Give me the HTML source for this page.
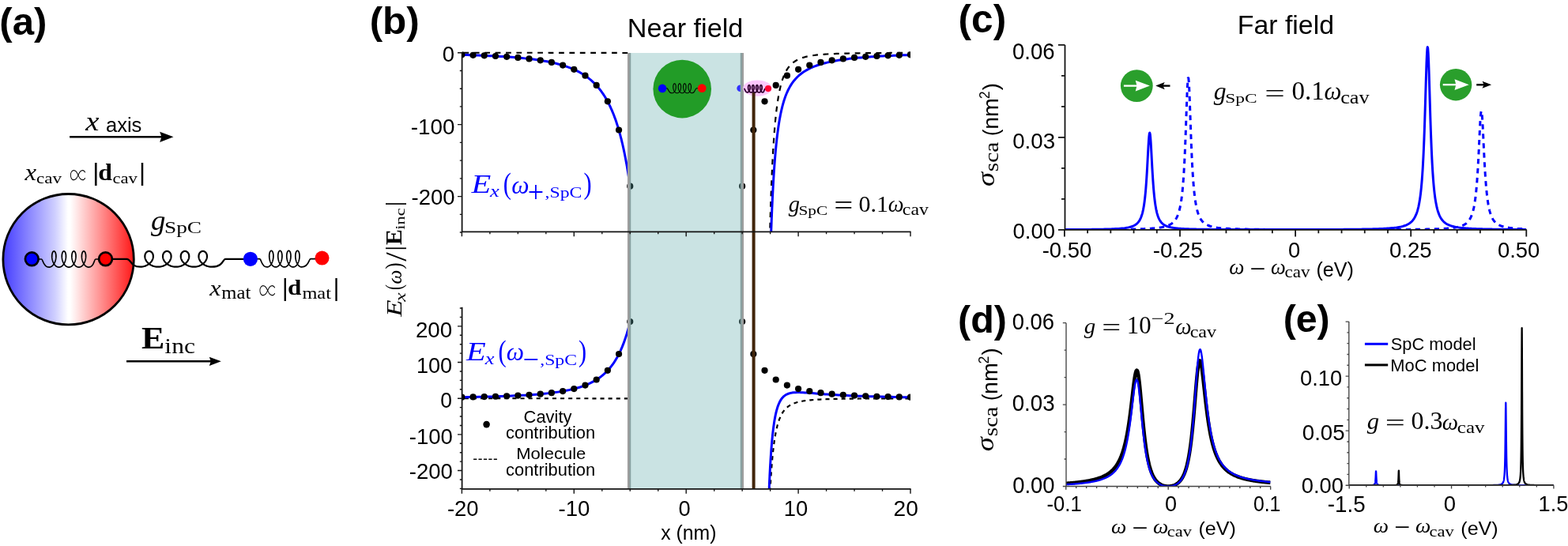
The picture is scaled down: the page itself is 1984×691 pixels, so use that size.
<!DOCTYPE html>
<html><head><meta charset="utf-8"><title>Figure</title>
<style>html,body{margin:0;padding:0;background:#fff;}svg{display:block;}</style></head>
<body><svg width="1984" height="691" viewBox="0 0 1984 691">
<rect width="1984" height="691" fill="#fff"/>
<text transform="matrix(0.49196 0.00000 0.00000 0.48936 -0.65982 44.42340)" font-size="100" font-family='"Liberation Sans", sans-serif' font-weight="bold">(a)</text>
<line x1="88.1" y1="173.3" x2="206" y2="173.3" stroke="#000" stroke-width="2.5" />
<path d="M219.5,173.3 L202.2,166.7 L204.4,173.3 L202.2,179.9 Z" fill="#000"/>
<text transform="matrix(0.38667 0.00000 0.00000 0.34130 108.18667 164.80000)" font-size="100" font-family='"Liberation Serif", serif' font-style="italic">x</text>
<text transform="matrix(0.25529 0.00000 0.00000 0.25676 133.97882 166.84324)" font-size="100" font-family='"Liberation Sans", sans-serif'>axis</text>
<text transform="matrix(0.32667 0.00000 0.00000 0.28478 31.42667 228.10000)" font-size="100" font-family='"Liberation Serif", serif' font-style="italic">x</text>
<text transform="matrix(0.23111 0.00000 0.00000 0.19167 46.07556 231.90833)" font-size="100" font-family='"Liberation Serif", serif'>cav</text>
<text transform="matrix(0.20652 0.00000 0.00000 0.31190 88.17391 233.09048)" font-size="100" font-family='"Noto Serif CJK SC", "DejaVu Serif", serif'>∝</text>
<text transform="matrix(0.52500 0.00000 0.00000 0.30889 115.90000 228.21333)" font-size="100" font-family='"Liberation Serif", serif'>|</text>
<text transform="matrix(0.31800 0.00000 0.00000 0.28571 124.32800 227.81429)" font-size="100" font-family='"Liberation Serif", serif' font-weight="bold">d</text>
<text transform="matrix(0.22741 0.00000 0.00000 0.19167 142.39037 231.90833)" font-size="100" font-family='"Liberation Serif", serif'>cav</text>
<text transform="matrix(0.50000 0.00000 0.00000 0.30889 174.90000 228.21333)" font-size="100" font-family='"Liberation Serif", serif'>|</text>
<defs><linearGradient id="cavgrad" gradientUnits="userSpaceOnUse" x1="2.6" y1="0" x2="170.6" y2="0"><stop offset="0" stop-color="rgb(66,58,255)"/><stop offset="0.401" stop-color="rgb(208,208,255)"/><stop offset="0.496" stop-color="#fff"/><stop offset="0.514" stop-color="#fff"/><stop offset="1" stop-color="rgb(255,20,20)"/></linearGradient></defs>
<circle cx="86.6" cy="328.2" r="82.7" fill="url(#cavgrad)" stroke="#000" stroke-width="2.8"/>
<path d="M49.5,328 L52.5,328 C54.6,328 54.25,338.1 62.02,338.1 L62.02,338.1 L62.4,338.09 L62.78,338.04 L63.17,337.98 L63.55,337.88 L63.92,337.76 L64.3,337.61 L64.67,337.43 L65.03,337.23 L65.39,337 L65.74,336.75 L66.08,336.47 L66.42,336.17 L66.74,335.85 L67.06,335.51 L67.37,335.14 L67.67,334.76 L67.95,334.36 L68.23,333.94 L68.49,333.5 L68.74,333.05 L68.98,332.59 L69.21,332.11 L69.42,331.62 L69.62,331.12 L69.8,330.61 L69.97,330.1 L70.13,329.58 L70.27,329.06 L70.4,328.53 L70.51,328 L70.6,327.47 L70.69,326.94 L70.76,326.42 L70.81,325.9 L70.85,325.39 L70.87,324.88 L70.89,324.38 L70.88,323.89 L70.87,323.41 L70.84,322.95 L70.8,322.5 L70.74,322.06 L70.68,321.64 L70.6,321.24 L70.51,320.86 L70.41,320.49 L70.31,320.15 L70.19,319.83 L70.06,319.53 L69.93,319.25 L69.79,319 L69.64,318.77 L69.48,318.57 L69.32,318.39 L69.16,318.24 L68.99,318.12 L68.82,318.02 L68.65,317.96 L68.48,317.91 L68.3,317.9 L68.12,317.91 L67.95,317.96 L67.78,318.02 L67.61,318.12 L67.44,318.24 L67.28,318.39 L67.12,318.57 L66.96,318.77 L66.81,319 L66.67,319.25 L66.54,319.53 L66.41,319.83 L66.29,320.15 L66.19,320.49 L66.09,320.86 L66,321.24 L65.92,321.64 L65.86,322.06 L65.8,322.5 L65.76,322.95 L65.73,323.41 L65.72,323.89 L65.71,324.38 L65.73,324.88 L65.75,325.39 L65.79,325.9 L65.84,326.42 L65.91,326.94 L66,327.47 L66.09,328 L66.2,328.53 L66.33,329.06 L66.47,329.58 L66.63,330.1 L66.8,330.61 L66.98,331.12 L67.18,331.62 L67.39,332.11 L67.62,332.59 L67.86,333.05 L68.11,333.5 L68.37,333.94 L68.65,334.36 L68.93,334.76 L69.23,335.14 L69.54,335.51 L69.86,335.85 L70.18,336.17 L70.52,336.47 L70.86,336.75 L71.21,337 L71.57,337.23 L71.93,337.43 L72.3,337.61 L72.68,337.76 L73.05,337.88 L73.43,337.98 L73.82,338.04 L74.2,338.09 L74.58,338.1 L74.97,338.09 L75.35,338.04 L75.74,337.98 L76.12,337.88 L76.49,337.76 L76.87,337.61 L77.24,337.43 L77.6,337.23 L77.96,337 L78.31,336.75 L78.65,336.47 L78.99,336.17 L79.31,335.85 L79.63,335.51 L79.94,335.14 L80.24,334.76 L80.52,334.36 L80.8,333.94 L81.06,333.5 L81.31,333.05 L81.55,332.59 L81.78,332.11 L81.99,331.62 L82.19,331.12 L82.37,330.61 L82.54,330.1 L82.7,329.58 L82.84,329.06 L82.97,328.53 L83.08,328 L83.17,327.47 L83.26,326.94 L83.33,326.42 L83.38,325.9 L83.42,325.39 L83.44,324.88 L83.46,324.38 L83.45,323.89 L83.44,323.41 L83.41,322.95 L83.37,322.5 L83.31,322.06 L83.25,321.64 L83.17,321.24 L83.08,320.86 L82.98,320.49 L82.88,320.15 L82.76,319.83 L82.63,319.53 L82.5,319.25 L82.36,319 L82.21,318.77 L82.05,318.57 L81.89,318.39 L81.73,318.24 L81.56,318.12 L81.39,318.02 L81.22,317.96 L81.05,317.91 L80.87,317.9 L80.69,317.91 L80.52,317.96 L80.35,318.02 L80.18,318.12 L80.01,318.24 L79.85,318.39 L79.69,318.57 L79.53,318.77 L79.38,319 L79.24,319.25 L79.11,319.53 L78.98,319.83 L78.86,320.15 L78.76,320.49 L78.66,320.86 L78.57,321.24 L78.49,321.64 L78.43,322.06 L78.37,322.5 L78.33,322.95 L78.3,323.41 L78.29,323.89 L78.28,324.38 L78.3,324.88 L78.32,325.39 L78.36,325.9 L78.41,326.42 L78.48,326.94 L78.57,327.47 L78.66,328 L78.77,328.53 L78.9,329.06 L79.04,329.58 L79.2,330.1 L79.37,330.61 L79.55,331.12 L79.75,331.62 L79.96,332.11 L80.19,332.59 L80.43,333.05 L80.68,333.5 L80.94,333.94 L81.22,334.36 L81.5,334.76 L81.8,335.14 L82.11,335.51 L82.43,335.85 L82.75,336.17 L83.09,336.47 L83.43,336.75 L83.78,337 L84.14,337.23 L84.5,337.43 L84.87,337.61 L85.25,337.76 L85.62,337.88 L86,337.98 L86.39,338.04 L86.77,338.09 L87.16,338.1 L87.54,338.09 L87.92,338.04 L88.31,337.98 L88.69,337.88 L89.06,337.76 L89.44,337.61 L89.81,337.43 L90.17,337.23 L90.53,337 L90.88,336.75 L91.22,336.47 L91.56,336.17 L91.88,335.85 L92.2,335.51 L92.51,335.14 L92.81,334.76 L93.09,334.36 L93.37,333.94 L93.63,333.5 L93.88,333.05 L94.12,332.59 L94.35,332.11 L94.56,331.62 L94.76,331.12 L94.94,330.61 L95.11,330.1 L95.27,329.58 L95.41,329.06 L95.54,328.53 L95.65,328 L95.74,327.47 L95.83,326.94 L95.9,326.42 L95.95,325.9 L95.99,325.39 L96.01,324.88 L96.03,324.38 L96.02,323.89 L96.01,323.41 L95.98,322.95 L95.94,322.5 L95.88,322.06 L95.82,321.64 L95.74,321.24 L95.65,320.86 L95.55,320.49 L95.45,320.15 L95.33,319.83 L95.2,319.53 L95.07,319.25 L94.93,319 L94.78,318.77 L94.62,318.57 L94.46,318.39 L94.3,318.24 L94.13,318.12 L93.96,318.02 L93.79,317.96 L93.62,317.91 L93.44,317.9 L93.26,317.91 L93.09,317.96 L92.92,318.02 L92.75,318.12 L92.58,318.24 L92.42,318.39 L92.26,318.57 L92.1,318.77 L91.95,319 L91.81,319.25 L91.68,319.53 L91.55,319.83 L91.43,320.15 L91.33,320.49 L91.23,320.86 L91.14,321.24 L91.06,321.64 L91,322.06 L90.94,322.5 L90.9,322.95 L90.87,323.41 L90.86,323.89 L90.85,324.38 L90.87,324.88 L90.89,325.39 L90.93,325.9 L90.98,326.42 L91.05,326.94 L91.14,327.47 L91.23,328 L91.34,328.53 L91.47,329.06 L91.61,329.58 L91.77,330.1 L91.94,330.61 L92.12,331.12 L92.32,331.62 L92.53,332.11 L92.76,332.59 L93,333.05 L93.25,333.5 L93.51,333.94 L93.79,334.36 L94.07,334.76 L94.37,335.14 L94.68,335.51 L95,335.85 L95.32,336.17 L95.66,336.47 L96,336.75 L96.35,337 L96.71,337.23 L97.07,337.43 L97.44,337.61 L97.82,337.76 L98.19,337.88 L98.57,337.98 L98.96,338.04 L99.34,338.09 L99.72,338.1 L100.11,338.09 L100.49,338.04 L100.88,337.98 L101.26,337.88 L101.63,337.76 L102.01,337.61 L102.38,337.43 L102.74,337.23 L103.1,337 L103.45,336.75 L103.79,336.47 L104.13,336.17 L104.45,335.85 L104.77,335.51 L105.08,335.14 L105.38,334.76 L105.66,334.36 L105.94,333.94 L106.2,333.5 L106.45,333.05 L106.69,332.59 L106.92,332.11 L107.13,331.62 L107.33,331.12 L107.51,330.61 L107.68,330.1 L107.84,329.58 L107.98,329.06 L108.11,328.53 L108.22,328 L108.31,327.47 L108.4,326.94 L108.47,326.42 L108.52,325.9 L108.56,325.39 L108.58,324.88 L108.6,324.38 L108.59,323.89 L108.58,323.41 L108.55,322.95 L108.51,322.5 L108.45,322.06 L108.39,321.64 L108.31,321.24 L108.22,320.86 L108.12,320.49 L108.02,320.15 L107.9,319.83 L107.77,319.53 L107.64,319.25 L107.5,319 L107.35,318.77 L107.19,318.57 L107.03,318.39 L106.87,318.24 L106.7,318.12 L106.53,318.02 L106.36,317.96 L106.19,317.91 L106.01,317.9 L105.83,317.91 L105.66,317.96 L105.49,318.02 L105.32,318.12 L105.15,318.24 L104.99,318.39 L104.83,318.57 L104.67,318.77 L104.52,319 L104.38,319.25 L104.25,319.53 L104.12,319.83 L104,320.15 L103.9,320.49 L103.8,320.86 L103.71,321.24 L103.63,321.64 L103.57,322.06 L103.51,322.5 L103.47,322.95 L103.44,323.41 L103.43,323.89 L103.42,324.38 L103.44,324.88 L103.46,325.39 L103.5,325.9 L103.55,326.42 L103.62,326.94 L103.71,327.47 L103.8,328 L103.91,328.53 L104.04,329.06 L104.18,329.58 L104.34,330.1 L104.51,330.61 L104.69,331.12 L104.89,331.62 L105.1,332.11 L105.33,332.59 L105.57,333.05 L105.82,333.5 L106.08,333.94 L106.36,334.36 L106.64,334.76 L106.94,335.14 L107.25,335.51 L107.57,335.85 L107.89,336.17 L108.23,336.47 L108.57,336.75 L108.92,337 L109.28,337.23 L109.64,337.43 L110.01,337.61 L110.39,337.76 L110.76,337.88 L111.14,337.98 L111.53,338.04 L111.91,338.09 L112.29,338.1 C119.25,338.1 118.9,328 121,328 L124,328" fill="none" stroke="#000" stroke-width="1.7" stroke-linejoin="round"/>
<circle cx="40.3" cy="327.8" r="8.4" fill="#0000ff" stroke="#000" stroke-width="2.7"/>
<path d="M142,327.8 L160.5,327.8 C165.9,327.8 165,337.7 177.25,337.7 L177.25,337.7 L177.98,337.69 L178.7,337.65 L179.43,337.58 L180.15,337.48 L180.86,337.36 L181.57,337.22 L182.27,337.04 L182.95,336.84 L183.63,336.62 L184.29,336.37 L184.94,336.1 L185.57,335.81 L186.19,335.49 L186.79,335.16 L187.37,334.8 L187.93,334.42 L188.47,334.03 L188.99,333.62 L189.48,333.19 L189.95,332.75 L190.4,332.29 L190.82,331.83 L191.22,331.35 L191.59,330.86 L191.93,330.36 L192.24,329.86 L192.53,329.35 L192.79,328.83 L193.02,328.32 L193.23,327.8 L193.4,327.28 L193.55,326.77 L193.67,326.25 L193.76,325.74 L193.82,325.24 L193.86,324.74 L193.87,324.25 L193.85,323.77 L193.8,323.31 L193.74,322.85 L193.64,322.41 L193.53,321.98 L193.39,321.57 L193.23,321.18 L193.05,320.8 L192.84,320.44 L192.62,320.11 L192.38,319.79 L192.13,319.5 L191.86,319.23 L191.57,318.98 L191.28,318.76 L190.97,318.56 L190.65,318.38 L190.32,318.24 L189.98,318.12 L189.64,318.02 L189.3,317.95 L188.95,317.91 L188.6,317.9 L188.25,317.91 L187.9,317.95 L187.56,318.02 L187.22,318.12 L186.88,318.24 L186.55,318.38 L186.23,318.56 L185.92,318.76 L185.63,318.98 L185.34,319.23 L185.07,319.5 L184.82,319.79 L184.58,320.11 L184.36,320.44 L184.15,320.8 L183.97,321.18 L183.81,321.57 L183.67,321.98 L183.56,322.41 L183.46,322.85 L183.4,323.31 L183.35,323.77 L183.33,324.25 L183.34,324.74 L183.38,325.24 L183.44,325.74 L183.53,326.25 L183.65,326.77 L183.8,327.28 L183.97,327.8 L184.18,328.32 L184.41,328.83 L184.67,329.35 L184.96,329.86 L185.27,330.36 L185.61,330.86 L185.98,331.35 L186.38,331.83 L186.8,332.29 L187.25,332.75 L187.72,333.19 L188.21,333.62 L188.73,334.03 L189.27,334.42 L189.83,334.8 L190.41,335.16 L191.01,335.49 L191.63,335.81 L192.26,336.1 L192.91,336.37 L193.57,336.62 L194.25,336.84 L194.93,337.04 L195.63,337.22 L196.34,337.36 L197.05,337.48 L197.77,337.58 L198.5,337.65 L199.22,337.69 L199.95,337.7 L200.68,337.69 L201.4,337.65 L202.13,337.58 L202.85,337.48 L203.56,337.36 L204.27,337.22 L204.97,337.04 L205.65,336.84 L206.33,336.62 L206.99,336.37 L207.64,336.1 L208.27,335.81 L208.89,335.49 L209.49,335.16 L210.07,334.8 L210.63,334.42 L211.17,334.03 L211.69,333.62 L212.18,333.19 L212.65,332.75 L213.1,332.29 L213.52,331.83 L213.92,331.35 L214.29,330.86 L214.63,330.36 L214.94,329.86 L215.23,329.35 L215.49,328.83 L215.72,328.32 L215.93,327.8 L216.1,327.28 L216.25,326.77 L216.37,326.25 L216.46,325.74 L216.52,325.24 L216.56,324.74 L216.57,324.25 L216.55,323.77 L216.5,323.31 L216.44,322.85 L216.34,322.41 L216.23,321.98 L216.09,321.57 L215.93,321.18 L215.75,320.8 L215.54,320.44 L215.32,320.11 L215.08,319.79 L214.83,319.5 L214.56,319.23 L214.27,318.98 L213.98,318.76 L213.67,318.56 L213.35,318.38 L213.02,318.24 L212.68,318.12 L212.34,318.02 L212,317.95 L211.65,317.91 L211.3,317.9 L210.95,317.91 L210.6,317.95 L210.26,318.02 L209.92,318.12 L209.58,318.24 L209.25,318.38 L208.93,318.56 L208.62,318.76 L208.33,318.98 L208.04,319.23 L207.77,319.5 L207.52,319.79 L207.28,320.11 L207.06,320.44 L206.85,320.8 L206.67,321.18 L206.51,321.57 L206.37,321.98 L206.26,322.41 L206.16,322.85 L206.1,323.31 L206.05,323.77 L206.03,324.25 L206.04,324.74 L206.08,325.24 L206.14,325.74 L206.23,326.25 L206.35,326.77 L206.5,327.28 L206.67,327.8 L206.88,328.32 L207.11,328.83 L207.37,329.35 L207.66,329.86 L207.97,330.36 L208.31,330.86 L208.68,331.35 L209.08,331.83 L209.5,332.29 L209.95,332.75 L210.42,333.19 L210.91,333.62 L211.43,334.03 L211.97,334.42 L212.53,334.8 L213.11,335.16 L213.71,335.49 L214.33,335.81 L214.96,336.1 L215.61,336.37 L216.27,336.62 L216.95,336.84 L217.63,337.04 L218.33,337.22 L219.04,337.36 L219.75,337.48 L220.47,337.58 L221.2,337.65 L221.92,337.69 L222.65,337.7 L223.38,337.69 L224.1,337.65 L224.83,337.58 L225.55,337.48 L226.26,337.36 L226.97,337.22 L227.67,337.04 L228.35,336.84 L229.03,336.62 L229.69,336.37 L230.34,336.1 L230.97,335.81 L231.59,335.49 L232.19,335.16 L232.77,334.8 L233.33,334.42 L233.87,334.03 L234.39,333.62 L234.88,333.19 L235.35,332.75 L235.8,332.29 L236.22,331.83 L236.62,331.35 L236.99,330.86 L237.33,330.36 L237.64,329.86 L237.93,329.35 L238.19,328.83 L238.42,328.32 L238.62,327.8 L238.8,327.28 L238.95,326.77 L239.07,326.25 L239.16,325.74 L239.22,325.24 L239.26,324.74 L239.27,324.25 L239.25,323.77 L239.2,323.31 L239.14,322.85 L239.04,322.41 L238.93,321.98 L238.79,321.57 L238.63,321.18 L238.45,320.8 L238.24,320.44 L238.02,320.11 L237.78,319.79 L237.53,319.5 L237.26,319.23 L236.97,318.98 L236.68,318.76 L236.37,318.56 L236.05,318.38 L235.72,318.24 L235.38,318.12 L235.04,318.02 L234.7,317.95 L234.35,317.91 L234,317.9 L233.65,317.91 L233.3,317.95 L232.96,318.02 L232.62,318.12 L232.28,318.24 L231.95,318.38 L231.63,318.56 L231.32,318.76 L231.03,318.98 L230.74,319.23 L230.47,319.5 L230.22,319.79 L229.98,320.11 L229.76,320.44 L229.55,320.8 L229.37,321.18 L229.21,321.57 L229.07,321.98 L228.96,322.41 L228.86,322.85 L228.8,323.31 L228.75,323.77 L228.73,324.25 L228.74,324.74 L228.78,325.24 L228.84,325.74 L228.93,326.25 L229.05,326.77 L229.2,327.28 L229.37,327.8 L229.58,328.32 L229.81,328.83 L230.07,329.35 L230.36,329.86 L230.67,330.36 L231.01,330.86 L231.38,331.35 L231.78,331.83 L232.2,332.29 L232.65,332.75 L233.12,333.19 L233.61,333.62 L234.13,334.03 L234.67,334.42 L235.23,334.8 L235.81,335.16 L236.41,335.49 L237.03,335.81 L237.66,336.1 L238.31,336.37 L238.97,336.62 L239.65,336.84 L240.33,337.04 L241.03,337.22 L241.74,337.36 L242.45,337.48 L243.17,337.58 L243.9,337.65 L244.62,337.69 L245.35,337.7 L246.08,337.69 L246.8,337.65 L247.53,337.58 L248.25,337.48 L248.96,337.36 L249.67,337.22 L250.37,337.04 L251.05,336.84 L251.73,336.62 L252.39,336.37 L253.04,336.1 L253.67,335.81 L254.29,335.49 L254.89,335.16 L255.47,334.8 L256.03,334.42 L256.57,334.03 L257.09,333.62 L257.58,333.19 L258.05,332.75 L258.5,332.29 L258.92,331.83 L259.32,331.35 L259.69,330.86 L260.03,330.36 L260.34,329.86 L260.63,329.35 L260.89,328.83 L261.12,328.32 L261.32,327.8 L261.5,327.28 L261.65,326.77 L261.77,326.25 L261.86,325.74 L261.92,325.24 L261.96,324.74 L261.97,324.25 L261.95,323.77 L261.9,323.31 L261.84,322.85 L261.74,322.41 L261.63,321.98 L261.49,321.57 L261.33,321.18 L261.15,320.8 L260.94,320.44 L260.72,320.11 L260.48,319.79 L260.23,319.5 L259.96,319.23 L259.67,318.98 L259.38,318.76 L259.07,318.56 L258.75,318.38 L258.42,318.24 L258.08,318.12 L257.74,318.02 L257.4,317.95 L257.05,317.91 L256.7,317.9 L256.35,317.91 L256,317.95 L255.66,318.02 L255.32,318.12 L254.98,318.24 L254.65,318.38 L254.33,318.56 L254.02,318.76 L253.73,318.98 L253.44,319.23 L253.17,319.5 L252.92,319.79 L252.68,320.11 L252.46,320.44 L252.25,320.8 L252.07,321.18 L251.91,321.57 L251.77,321.98 L251.66,322.41 L251.56,322.85 L251.5,323.31 L251.45,323.77 L251.43,324.25 L251.44,324.74 L251.48,325.24 L251.54,325.74 L251.63,326.25 L251.75,326.77 L251.9,327.28 L252.07,327.8 L252.28,328.32 L252.51,328.83 L252.77,329.35 L253.06,329.86 L253.37,330.36 L253.71,330.86 L254.08,331.35 L254.48,331.83 L254.9,332.29 L255.35,332.75 L255.82,333.19 L256.31,333.62 L256.83,334.03 L257.37,334.42 L257.93,334.8 L258.51,335.16 L259.11,335.49 L259.73,335.81 L260.36,336.1 L261.01,336.37 L261.67,336.62 L262.35,336.84 L263.03,337.04 L263.73,337.22 L264.44,337.36 L265.15,337.48 L265.87,337.58 L266.6,337.65 L267.32,337.69 L268.05,337.7 C282.5,337.7 282,327.8 285,327.8 L308,327.8" fill="none" stroke="#000" stroke-width="2.2" stroke-linejoin="round"/>
<circle cx="133.5" cy="327.8" r="8.4" fill="#ff0000" stroke="#000" stroke-width="2.7"/>
<path d="M325,327.6 L328.5,327.6 C330.9,327.6 330.5,337.95 337.79,337.95 L337.79,337.95 L338.14,337.94 L338.5,337.89 L338.85,337.82 L339.2,337.72 L339.55,337.6 L339.9,337.44 L340.24,337.26 L340.57,337.06 L340.9,336.82 L341.23,336.56 L341.55,336.28 L341.86,335.97 L342.16,335.64 L342.45,335.29 L342.73,334.92 L343.01,334.53 L343.27,334.11 L343.53,333.68 L343.77,333.24 L344,332.78 L344.21,332.3 L344.42,331.81 L344.61,331.31 L344.79,330.8 L344.96,330.28 L345.11,329.75 L345.25,329.22 L345.38,328.68 L345.49,328.14 L345.59,327.6 L345.68,327.06 L345.75,326.52 L345.81,325.98 L345.85,325.45 L345.88,324.92 L345.9,324.4 L345.9,323.89 L345.89,323.39 L345.87,322.9 L345.84,322.43 L345.79,321.96 L345.73,321.52 L345.66,321.09 L345.58,320.67 L345.49,320.28 L345.39,319.91 L345.28,319.56 L345.17,319.23 L345.04,318.92 L344.91,318.64 L344.77,318.38 L344.62,318.14 L344.47,317.94 L344.31,317.76 L344.15,317.6 L343.98,317.48 L343.81,317.38 L343.64,317.31 L343.47,317.26 L343.3,317.25 L343.13,317.26 L342.96,317.31 L342.79,317.38 L342.62,317.48 L342.45,317.6 L342.29,317.76 L342.13,317.94 L341.98,318.14 L341.83,318.38 L341.69,318.64 L341.56,318.92 L341.43,319.23 L341.32,319.56 L341.21,319.91 L341.11,320.28 L341.02,320.67 L340.94,321.09 L340.87,321.52 L340.81,321.96 L340.76,322.43 L340.73,322.9 L340.71,323.39 L340.7,323.89 L340.7,324.4 L340.72,324.92 L340.75,325.45 L340.79,325.98 L340.85,326.52 L340.92,327.06 L341.01,327.6 L341.11,328.14 L341.22,328.68 L341.35,329.22 L341.49,329.75 L341.64,330.28 L341.81,330.8 L341.99,331.31 L342.18,331.81 L342.39,332.3 L342.6,332.78 L342.83,333.24 L343.07,333.68 L343.33,334.11 L343.59,334.53 L343.87,334.92 L344.15,335.29 L344.44,335.64 L344.74,335.97 L345.05,336.28 L345.37,336.56 L345.7,336.82 L346.03,337.06 L346.36,337.26 L346.7,337.44 L347.05,337.6 L347.4,337.72 L347.75,337.82 L348.1,337.89 L348.46,337.94 L348.81,337.95 L349.17,337.94 L349.53,337.89 L349.88,337.82 L350.23,337.72 L350.58,337.6 L350.93,337.44 L351.27,337.26 L351.6,337.06 L351.93,336.82 L352.26,336.56 L352.58,336.28 L352.89,335.97 L353.19,335.64 L353.48,335.29 L353.76,334.92 L354.04,334.53 L354.3,334.11 L354.56,333.68 L354.8,333.24 L355.03,332.78 L355.24,332.3 L355.45,331.81 L355.64,331.31 L355.82,330.8 L355.99,330.28 L356.14,329.75 L356.28,329.22 L356.41,328.68 L356.52,328.14 L356.62,327.6 L356.71,327.06 L356.78,326.52 L356.84,325.98 L356.88,325.45 L356.91,324.92 L356.93,324.4 L356.93,323.89 L356.92,323.39 L356.9,322.9 L356.87,322.43 L356.82,321.96 L356.76,321.52 L356.69,321.09 L356.61,320.67 L356.52,320.28 L356.42,319.91 L356.31,319.56 L356.2,319.23 L356.07,318.92 L355.94,318.64 L355.8,318.38 L355.65,318.14 L355.5,317.94 L355.34,317.76 L355.18,317.6 L355.01,317.48 L354.84,317.38 L354.67,317.31 L354.5,317.26 L354.33,317.25 L354.16,317.26 L353.99,317.31 L353.82,317.38 L353.65,317.48 L353.48,317.6 L353.32,317.76 L353.16,317.94 L353.01,318.14 L352.86,318.38 L352.72,318.64 L352.59,318.92 L352.46,319.23 L352.35,319.56 L352.24,319.91 L352.14,320.28 L352.05,320.67 L351.97,321.09 L351.9,321.52 L351.84,321.96 L351.79,322.43 L351.76,322.9 L351.74,323.39 L351.73,323.89 L351.73,324.4 L351.75,324.92 L351.78,325.45 L351.82,325.98 L351.88,326.52 L351.95,327.06 L352.04,327.6 L352.14,328.14 L352.25,328.68 L352.38,329.22 L352.52,329.75 L352.67,330.28 L352.84,330.8 L353.02,331.31 L353.21,331.81 L353.42,332.3 L353.63,332.78 L353.86,333.24 L354.1,333.68 L354.36,334.11 L354.62,334.53 L354.9,334.92 L355.18,335.29 L355.47,335.64 L355.77,335.97 L356.08,336.28 L356.4,336.56 L356.73,336.82 L357.06,337.06 L357.39,337.26 L357.73,337.44 L358.08,337.6 L358.43,337.72 L358.78,337.82 L359.13,337.89 L359.49,337.94 L359.85,337.95 L360.2,337.94 L360.56,337.89 L360.91,337.82 L361.26,337.72 L361.61,337.6 L361.96,337.44 L362.3,337.26 L362.63,337.06 L362.96,336.82 L363.29,336.56 L363.61,336.28 L363.92,335.97 L364.22,335.64 L364.51,335.29 L364.79,334.92 L365.07,334.53 L365.33,334.11 L365.59,333.68 L365.83,333.24 L366.06,332.78 L366.27,332.3 L366.48,331.81 L366.67,331.31 L366.85,330.8 L367.02,330.28 L367.17,329.75 L367.31,329.22 L367.44,328.68 L367.55,328.14 L367.65,327.6 L367.74,327.06 L367.81,326.52 L367.87,325.98 L367.91,325.45 L367.94,324.92 L367.96,324.4 L367.96,323.89 L367.95,323.39 L367.93,322.9 L367.9,322.43 L367.85,321.96 L367.79,321.52 L367.72,321.09 L367.64,320.67 L367.55,320.28 L367.45,319.91 L367.34,319.56 L367.23,319.23 L367.1,318.92 L366.97,318.64 L366.83,318.38 L366.68,318.14 L366.53,317.94 L366.37,317.76 L366.21,317.6 L366.04,317.48 L365.87,317.38 L365.7,317.31 L365.53,317.26 L365.36,317.25 L365.19,317.26 L365.02,317.31 L364.85,317.38 L364.68,317.48 L364.51,317.6 L364.35,317.76 L364.19,317.94 L364.04,318.14 L363.89,318.38 L363.75,318.64 L363.62,318.92 L363.49,319.23 L363.38,319.56 L363.27,319.91 L363.17,320.28 L363.08,320.67 L363,321.09 L362.93,321.52 L362.87,321.96 L362.82,322.43 L362.79,322.9 L362.77,323.39 L362.76,323.89 L362.76,324.4 L362.78,324.92 L362.81,325.45 L362.85,325.98 L362.91,326.52 L362.98,327.06 L363.07,327.6 L363.17,328.14 L363.28,328.68 L363.41,329.22 L363.55,329.75 L363.7,330.28 L363.87,330.8 L364.05,331.31 L364.24,331.81 L364.45,332.3 L364.66,332.77 L364.89,333.24 L365.13,333.68 L365.39,334.11 L365.65,334.53 L365.93,334.92 L366.21,335.29 L366.5,335.64 L366.8,335.97 L367.11,336.28 L367.43,336.56 L367.76,336.82 L368.09,337.06 L368.42,337.26 L368.76,337.44 L369.11,337.6 L369.46,337.72 L369.81,337.82 L370.16,337.89 L370.52,337.94 L370.88,337.95 L371.23,337.94 L371.59,337.89 L371.94,337.82 L372.29,337.72 L372.64,337.6 L372.99,337.44 L373.33,337.26 L373.66,337.06 L373.99,336.82 L374.32,336.56 L374.64,336.28 L374.95,335.97 L375.25,335.64 L375.54,335.29 L375.82,334.92 L376.1,334.53 L376.36,334.11 L376.62,333.68 L376.86,333.24 L377.09,332.78 L377.3,332.3 L377.51,331.81 L377.7,331.31 L377.88,330.8 L378.05,330.28 L378.2,329.75 L378.34,329.22 L378.47,328.68 L378.58,328.14 L378.68,327.6 L378.77,327.06 L378.84,326.52 L378.9,325.98 L378.94,325.45 L378.97,324.92 L378.99,324.4 L378.99,323.89 L378.98,323.39 L378.96,322.9 L378.93,322.43 L378.88,321.96 L378.82,321.52 L378.75,321.09 L378.67,320.67 L378.58,320.28 L378.48,319.91 L378.37,319.56 L378.26,319.23 L378.13,318.92 L378,318.64 L377.86,318.38 L377.71,318.14 L377.56,317.94 L377.4,317.76 L377.24,317.6 L377.07,317.48 L376.9,317.38 L376.73,317.31 L376.56,317.26 L376.39,317.25 L376.22,317.26 L376.05,317.31 L375.88,317.38 L375.71,317.48 L375.54,317.6 L375.38,317.76 L375.22,317.94 L375.07,318.14 L374.92,318.38 L374.78,318.64 L374.65,318.92 L374.52,319.23 L374.41,319.56 L374.3,319.91 L374.2,320.28 L374.11,320.67 L374.03,321.09 L373.96,321.52 L373.9,321.96 L373.85,322.43 L373.82,322.9 L373.8,323.39 L373.79,323.89 L373.79,324.4 L373.81,324.92 L373.84,325.45 L373.88,325.98 L373.94,326.52 L374.01,327.06 L374.1,327.6 L374.2,328.14 L374.31,328.68 L374.44,329.22 L374.58,329.75 L374.73,330.28 L374.9,330.8 L375.08,331.31 L375.27,331.81 L375.48,332.3 L375.69,332.77 L375.92,333.24 L376.16,333.68 L376.42,334.11 L376.68,334.53 L376.96,334.92 L377.24,335.29 L377.53,335.64 L377.83,335.97 L378.14,336.28 L378.46,336.56 L378.79,336.82 L379.12,337.06 L379.45,337.26 L379.79,337.44 L380.14,337.6 L380.49,337.72 L380.84,337.82 L381.19,337.89 L381.55,337.94 L381.91,337.95 C391,337.95 390.6,327.6 393,327.6 L399,327.6" fill="none" stroke="#000" stroke-width="1.7" stroke-linejoin="round"/>
<circle cx="316.9" cy="327.8" r="9.1" fill="#0000ff"/>
<circle cx="407.5" cy="326.6" r="9.0" fill="#ff0000"/>
<text transform="matrix(0.36809 0.00000 0.00000 0.36176 191.10000 290.70294)" font-size="100" font-family='"Liberation Serif", serif' font-style="italic">g</text>
<text transform="matrix(0.27312 0.00000 0.00000 0.20116 207.98812 295.47558)" font-size="100" font-family='"Liberation Serif", serif'>SpC</text>
<text transform="matrix(0.32222 0.00000 0.00000 0.28043 265.22222 373.80000)" font-size="100" font-family='"Liberation Serif", serif' font-style="italic">x</text>
<text transform="matrix(0.24626 0.00000 0.00000 0.22632 280.30748 377.87368)" font-size="100" font-family='"Liberation Serif", serif'>mat</text>
<text transform="matrix(0.21087 0.00000 0.00000 0.30714 327.75652 378.71429)" font-size="100" font-family='"Noto Serif CJK SC", "DejaVu Serif", serif'>∝</text>
<text transform="matrix(0.47500 0.00000 0.00000 0.31111 356.00000 373.96667)" font-size="100" font-family='"Liberation Serif", serif'>|</text>
<text transform="matrix(0.31200 0.00000 0.00000 0.28000 364.05200 373.42000)" font-size="100" font-family='"Liberation Serif", serif' font-weight="bold">d</text>
<text transform="matrix(0.24354 0.00000 0.00000 0.21228 382.41293 377.68772)" font-size="100" font-family='"Liberation Serif", serif'>mat</text>
<text transform="matrix(0.47500 0.00000 0.00000 0.31111 420.80000 373.96667)" font-size="100" font-family='"Liberation Serif", serif'>|</text>
<text transform="matrix(0.44000 0.00000 0.00000 0.39385 179.12000 440.80000)" font-size="100" font-family='"Liberation Serif", serif' font-weight="bold">E</text>
<text transform="matrix(0.31538 0.00000 0.00000 0.27576 208.36923 446.62424)" font-size="100" font-family='"Liberation Serif", serif'>inc</text>
<line x1="160" y1="457.3" x2="268" y2="457.3" stroke="#000" stroke-width="2.6" />
<path d="M279.8,457.3 L264.8,451.7 L266.8,457.3 L264.8,462.9 Z" fill="#000"/>
<text transform="matrix(0.49492 0.00000 0.00000 0.47447 467.62542 43.43617)" font-size="100" font-family='"Liberation Sans", sans-serif' font-weight="bold">(b)</text>
<text transform="matrix(0.34237 0.00000 0.00000 0.33514 793.86102 46.86486)" font-size="100" font-family='"Liberation Sans", sans-serif'>Near field</text>
<defs><clipPath id="cbt"><rect x="584.6" y="55" width="567.4" height="238.4"/></clipPath><clipPath id="cbb"><rect x="584.6" y="380" width="567.4" height="238.8"/></clipPath></defs>
<g clip-path="url(#cbt)">
<path d="M584.4,66.73 L588.01,66.73 L591.62,66.73 L595.22,66.73 L598.83,66.73 L602.44,66.73 L606.05,66.73 L609.65,66.73 L613.26,66.73 L616.87,66.73 L620.48,66.74 L624.08,66.74 L627.69,66.74 L631.3,66.74 L634.91,66.74 L638.51,66.74 L642.12,66.74 L645.73,66.74 L649.34,66.75 L652.94,66.75 L656.55,66.75 L660.16,66.75 L663.77,66.75 L667.38,66.76 L670.98,66.76 L674.59,66.76 L678.2,66.76 L681.81,66.76 L685.41,66.77 L689.02,66.77 L692.63,66.77 L696.24,66.78 L699.84,66.78 L703.45,66.78 L707.06,66.79 L710.67,66.79 L714.27,66.79 L717.88,66.8 L721.49,66.8 L725.1,66.81 L728.71,66.81 L732.31,66.82 L735.92,66.82 L739.53,66.83 L743.14,66.84 L746.74,66.84 L750.35,66.85 L753.96,66.86 L757.57,66.87 L761.17,66.88 L764.78,66.89 L768.39,66.9 L772,66.91 L775.6,66.93 L779.21,66.94 L782.82,66.95 L786.43,66.97 L790.03,66.99 L793.64,67.01 L797.25,67.03" fill="none" stroke="#000" stroke-width="2.2" stroke-dasharray="6.8 6.6" stroke-linejoin="round" stroke-dashoffset="-2"/>
<path d="M970.37,339.55 L970.69,339.55 L971.01,339.55 L971.34,339.55 L971.66,339.55 L971.98,339.55 L972.31,339.55 L972.63,339.55 L972.95,339.55 L973.28,331.76 L973.6,317.28 L973.92,303.83 L974.25,291.33 L974.57,279.69 L974.89,268.84 L975.22,258.72 L975.54,249.26 L975.86,240.41 L976.19,232.12 L976.51,224.36 L976.83,217.07 L977.16,210.22 L977.48,203.79 L977.8,197.73 L978.13,192.03 L978.45,186.65 L978.77,181.57 L979.1,176.78 L979.42,172.25 L979.74,167.96 L980.07,163.91 L980.39,160.07 L980.71,156.42 L981.04,152.97 L981.36,149.69 L981.68,146.57 L982.01,143.61 L982.33,140.79 L982.65,138.11 L982.98,135.56 L983.3,133.12 L983.62,130.8 L983.95,128.59 L984.27,126.48 L984.59,124.46 L984.92,122.53 L985.24,120.69 L985.56,118.93 L985.89,117.24 L986.21,115.63 L986.53,114.08 L986.86,112.6 L987.18,111.18 L987.5,109.81 L987.83,108.51 L988.15,107.25 L988.47,106.04 L988.8,104.89 L989.12,103.77 L989.44,102.7 L989.77,101.67 L990.09,100.68 L990.41,99.73 L990.74,98.81 L991.06,97.93 L991.38,97.07 L991.71,96.25 L992.03,95.46 L992.35,94.69 L992.68,93.96 L993,93.25 L993.32,92.56 L993.65,91.89 L993.97,91.25 L994.29,90.63 L994.62,90.04 L994.94,89.46 L995.26,88.9 L995.59,88.35 L995.91,87.83 L997.33,85.72 L999.67,82.81 L1002.02,80.46 L1004.36,78.55 L1006.71,76.97 L1009.05,75.67 L1011.4,74.57 L1013.74,73.65 L1016.08,72.86 L1018.43,72.19 L1020.77,71.62 L1023.12,71.12 L1025.46,70.68 L1027.81,70.31 L1030.15,69.97 L1032.5,69.68 L1034.84,69.42 L1037.18,69.19 L1039.53,68.99 L1041.87,68.81 L1044.22,68.64 L1046.56,68.49 L1048.91,68.36 L1051.25,68.24 L1053.6,68.13 L1055.94,68.03 L1058.28,67.94 L1060.63,67.86 L1062.97,67.79 L1065.32,67.72 L1067.66,67.66 L1070.01,67.6 L1072.35,67.55 L1074.7,67.5 L1077.04,67.45 L1079.38,67.41 L1081.73,67.37 L1084.07,67.33 L1086.42,67.3 L1088.76,67.27 L1091.11,67.24 L1093.45,67.21 L1095.8,67.19 L1098.14,67.16 L1100.48,67.14 L1102.83,67.12 L1105.17,67.1 L1107.52,67.08 L1109.86,67.07 L1112.21,67.05 L1114.55,67.03 L1116.9,67.02 L1119.24,67.01 L1121.58,66.99 L1123.93,66.98 L1126.27,66.97 L1128.62,66.96 L1130.96,66.95 L1133.31,66.94 L1135.65,66.93 L1138,66.92 L1140.34,66.91 L1142.68,66.9 L1145.03,66.9 L1147.37,66.89 L1149.72,66.88 L1152.06,66.88 L1154.41,66.87 L1156.75,66.86 L1159.1,66.86" fill="none" stroke="#000" stroke-width="2.2" stroke-dasharray="6.8 6.6" stroke-linejoin="round" />
<path d="M584.4,69.37 L587.88,69.47 L591.35,69.57 L594.83,69.68 L598.3,69.8 L601.78,69.92 L605.25,70.05 L608.73,70.19 L612.2,70.33 L615.68,70.48 L619.15,70.64 L622.63,70.81 L626.1,70.99 L629.58,71.18 L633.05,71.38 L636.53,71.59 L640,71.82 L643.48,72.06 L646.95,72.32 L650.43,72.59 L653.9,72.88 L657.38,73.19 L660.85,73.52 L664.33,73.88 L667.8,74.25 L671.28,74.66 L674.75,75.1 L678.23,75.56 L681.7,76.07 L685.18,76.61 L688.65,77.2 L692.13,77.83 L695.6,78.51 L699.08,79.25 L702.55,80.06 L706.03,80.94 L709.5,81.89 L712.98,82.93 L716.45,84.07 L719.93,85.32 L723.4,86.69 L726.88,88.19 L730.35,89.86 L733.83,91.7 L737.3,93.74 L740.78,96.01 L744.25,98.54 L747.73,101.37 L751.2,104.54 L754.68,108.12 L756.1,109.71 L756.8,110.52 L757.49,111.35 L758.19,112.2 L758.89,113.08 L759.59,113.98 L760.28,114.9 L760.98,115.84 L761.68,116.81 L762.38,117.81 L763.07,118.83 L763.77,119.88 L764.47,120.96 L765.17,122.07 L765.86,123.21 L766.56,124.38 L767.26,125.58 L767.96,126.81 L768.65,128.08 L769.35,129.39 L770.05,130.73 L770.75,132.12 L771.44,133.54 L772.14,135 L772.84,136.51 L773.54,138.06 L774.23,139.66 L774.93,141.31 L775.63,143.01 L776.33,144.75 L777.02,146.56 L777.72,148.41 L778.42,150.33 L779.12,152.31 L779.81,154.35 L780.51,156.45 L781.21,158.63 L781.91,160.87 L782.6,163.19 L783.3,165.58 L784,168.06 L784.7,170.61 L785.39,173.26 L786.09,175.99 L786.79,178.82 L787.49,181.75 L788.18,184.78 L788.88,187.92 L789.58,191.17 L790.28,194.54 L790.97,198.03 L791.67,201.65 L792.37,205.4 L793.07,209.3 L793.76,213.34 L794.46,217.53 L795.16,221.89 L795.86,226.42 L796.55,231.12 L797.25,236.02" fill="none" stroke="#0000ff" stroke-width="3" stroke-linejoin="round" />
<path d="M971.79,339.55 L972.09,339.55 L972.4,339.55 L972.7,339.55 L973.01,339.55 L973.31,339.55 L973.62,339.55 L973.92,339.55 L974.23,339.55 L974.54,331.14 L974.84,320.36 L975.15,310.25 L975.45,300.74 L975.76,291.8 L976.06,283.38 L976.37,275.44 L976.67,267.94 L976.98,260.87 L977.28,254.17 L977.59,247.84 L977.89,241.84 L978.2,236.15 L978.5,230.75 L978.81,225.62 L979.12,220.75 L979.42,216.12 L979.73,211.7 L980.03,207.5 L980.34,203.49 L980.64,199.67 L980.95,196.02 L981.25,192.53 L981.56,189.2 L981.86,186.01 L982.17,182.95 L982.47,180.03 L982.78,177.22 L983.09,174.54 L983.39,171.96 L983.7,169.48 L984,167.1 L984.31,164.81 L984.61,162.61 L984.92,160.49 L985.22,158.45 L985.53,156.49 L985.83,154.6 L986.14,152.77 L986.44,151.01 L986.75,149.31 L987.05,147.67 L987.36,146.08 L987.67,144.55 L987.97,143.07 L988.28,141.64 L988.58,140.25 L988.89,138.91 L989.19,137.61 L989.5,136.35 L989.8,135.12 L990.11,133.94 L990.41,132.79 L990.72,131.68 L991.02,130.59 L991.33,129.54 L991.64,128.52 L991.94,127.53 L992.25,126.57 L992.55,125.63 L992.86,124.72 L993.16,123.83 L993.47,122.96 L993.77,122.12 L994.08,121.3 L994.38,120.51 L994.69,119.73 L994.99,118.97 L995.3,118.23 L995.6,117.51 L995.91,116.81 L997.33,113.75 L999.67,109.36 L1002.02,105.65 L1004.36,102.45 L1006.71,99.69 L1009.05,97.26 L1011.4,95.13 L1013.74,93.23 L1016.08,91.53 L1018.43,89.99 L1020.77,88.61 L1023.12,87.35 L1025.46,86.2 L1027.81,85.15 L1030.15,84.18 L1032.5,83.29 L1034.84,82.47 L1037.18,81.7 L1039.53,80.99 L1041.87,80.33 L1044.22,79.71 L1046.56,79.13 L1048.91,78.59 L1051.25,78.08 L1053.6,77.6 L1055.94,77.16 L1058.28,76.73 L1060.63,76.33 L1062.97,75.96 L1065.32,75.6 L1067.66,75.26 L1070.01,74.94 L1072.35,74.64 L1074.7,74.35 L1077.04,74.08 L1079.38,73.82 L1081.73,73.57 L1084.07,73.33 L1086.42,73.11 L1088.76,72.89 L1091.11,72.69 L1093.45,72.49 L1095.8,72.31 L1098.14,72.13 L1100.48,71.96 L1102.83,71.79 L1105.17,71.64 L1107.52,71.49 L1109.86,71.34 L1112.21,71.2 L1114.55,71.07 L1116.9,70.94 L1119.24,70.82 L1121.58,70.7 L1123.93,70.59 L1126.27,70.48 L1128.62,70.38 L1130.96,70.27 L1133.31,70.18 L1135.65,70.08 L1138,69.99 L1140.34,69.91 L1142.68,69.82 L1145.03,69.74 L1147.37,69.66 L1149.72,69.59 L1152.06,69.52 L1154.41,69.44 L1156.75,69.38 L1159.1,69.31" fill="none" stroke="#0000ff" stroke-width="3" stroke-linejoin="round" />
<circle cx="584.4" cy="69.34" r="4.1"/>
<circle cx="598.59" cy="69.78" r="4.1"/>
<circle cx="612.78" cy="70.32" r="4.1"/>
<circle cx="626.97" cy="71" r="4.1"/>
<circle cx="641.16" cy="71.86" r="4.1"/>
<circle cx="655.35" cy="72.96" r="4.1"/>
<circle cx="669.54" cy="74.4" r="4.1"/>
<circle cx="683.73" cy="76.31" r="4.1"/>
<circle cx="697.92" cy="78.92" r="4.1"/>
<circle cx="712.11" cy="82.57" r="4.1"/>
<circle cx="726.3" cy="87.82" r="4.1"/>
<circle cx="740.49" cy="95.68" r="4.1"/>
<circle cx="754.68" cy="107.96" r="4.1"/>
<circle cx="768.87" cy="128.28" r="4.1"/>
<circle cx="783.06" cy="164.49" r="4.1"/>
<circle cx="797.25" cy="235.69" r="4.1"/>
<circle cx="939.15" cy="235.69" r="4.1"/>
<circle cx="953.34" cy="164.49" r="4.1"/>
<circle cx="967.53" cy="128.28" r="4.1"/>
<circle cx="981.72" cy="107.96" r="4.1"/>
<circle cx="995.91" cy="95.68" r="4.1"/>
<circle cx="1010.1" cy="87.82" r="4.1"/>
<circle cx="1024.29" cy="82.57" r="4.1"/>
<circle cx="1038.48" cy="78.92" r="4.1"/>
<circle cx="1052.67" cy="76.31" r="4.1"/>
<circle cx="1066.86" cy="74.4" r="4.1"/>
<circle cx="1081.05" cy="72.96" r="4.1"/>
<circle cx="1095.24" cy="71.86" r="4.1"/>
<circle cx="1109.43" cy="71" r="4.1"/>
<circle cx="1123.62" cy="70.32" r="4.1"/>
<circle cx="1137.81" cy="69.78" r="4.1"/>
<circle cx="1152" cy="69.34" r="4.1"/>
</g>
<g clip-path="url(#cbb)">
<path d="M584.4,504.21 L588.01,504.21 L591.62,504.21 L595.22,504.22 L598.83,504.22 L602.44,504.22 L606.05,504.22 L609.65,504.22 L613.26,504.22 L616.87,504.22 L620.48,504.22 L624.08,504.22 L627.69,504.22 L631.3,504.22 L634.91,504.22 L638.51,504.22 L642.12,504.22 L645.73,504.22 L649.34,504.22 L652.94,504.23 L656.55,504.23 L660.16,504.23 L663.77,504.23 L667.38,504.23 L670.98,504.23 L674.59,504.23 L678.2,504.23 L681.81,504.23 L685.41,504.24 L689.02,504.24 L692.63,504.24 L696.24,504.24 L699.84,504.24 L703.45,504.24 L707.06,504.25 L710.67,504.25 L714.27,504.25 L717.88,504.25 L721.49,504.26 L725.1,504.26 L728.71,504.26 L732.31,504.26 L735.92,504.27 L739.53,504.27 L743.14,504.27 L746.74,504.28 L750.35,504.28 L753.96,504.29 L757.57,504.29 L761.17,504.3 L764.78,504.3 L768.39,504.31 L772,504.31 L775.6,504.32 L779.21,504.33 L782.82,504.34 L786.43,504.35 L790.03,504.36 L793.64,504.37 L797.25,504.38" fill="none" stroke="#000" stroke-width="2.2" stroke-dasharray="5.1 5" stroke-linejoin="round" stroke-dashoffset="-3.4"/>
<path d="M971.79,641.24 L972.09,641.24 L972.4,641.24 L972.7,641.24 L973.01,641.24 L973.31,641.24 L973.62,638.27 L973.92,631.47 L974.23,625.12 L974.54,619.19 L974.84,613.64 L975.15,608.43 L975.45,603.56 L975.76,598.98 L976.06,594.68 L976.37,590.64 L976.67,586.83 L976.98,583.25 L977.28,579.86 L977.59,576.67 L977.89,573.66 L978.2,570.81 L978.5,568.11 L978.81,565.56 L979.12,563.14 L979.42,560.85 L979.73,558.67 L980.03,556.61 L980.34,554.65 L980.64,552.78 L980.95,551.01 L981.25,549.32 L981.56,547.71 L981.86,546.18 L982.17,544.71 L982.47,543.32 L982.78,541.99 L983.09,540.71 L983.39,539.5 L983.7,538.34 L984,537.23 L984.31,536.16 L984.61,535.14 L984.92,534.17 L985.22,533.23 L985.53,532.34 L985.83,531.47 L986.14,530.65 L986.44,529.86 L986.75,529.1 L987.05,528.36 L987.36,527.66 L987.67,526.99 L987.97,526.34 L988.28,525.71 L988.58,525.11 L988.89,524.53 L989.19,523.97 L989.5,523.43 L989.8,522.91 L990.11,522.41 L990.41,521.93 L990.72,521.46 L991.02,521.01 L991.33,520.58 L991.64,520.16 L991.94,519.75 L992.25,519.36 L992.55,518.98 L992.86,518.62 L993.16,518.26 L993.47,517.92 L993.77,517.59 L994.08,517.27 L994.38,516.96 L994.69,516.65 L994.99,516.36 L995.3,516.08 L995.6,515.81 L995.91,515.54 L997.33,514.41 L999.67,512.84 L1002.02,511.58 L1004.36,510.56 L1006.71,509.71 L1009.05,509.01 L1011.4,508.43 L1013.74,507.93 L1016.08,507.51 L1018.43,507.15 L1020.77,506.84 L1023.12,506.57 L1025.46,506.34 L1027.81,506.14 L1030.15,505.96 L1032.5,505.8 L1034.84,505.66 L1037.18,505.54 L1039.53,505.43 L1041.87,505.33 L1044.22,505.24 L1046.56,505.16 L1048.91,505.09 L1051.25,505.03 L1053.6,504.97 L1055.94,504.92 L1058.28,504.87 L1060.63,504.82 L1062.97,504.78 L1065.32,504.75 L1067.66,504.71 L1070.01,504.68 L1072.35,504.65 L1074.7,504.63 L1077.04,504.6 L1079.38,504.58 L1081.73,504.56 L1084.07,504.54 L1086.42,504.52 L1088.76,504.51 L1091.11,504.49 L1093.45,504.47 L1095.8,504.46 L1098.14,504.45 L1100.48,504.44 L1102.83,504.43 L1105.17,504.42 L1107.52,504.41 L1109.86,504.4 L1112.21,504.39 L1114.55,504.38 L1116.9,504.37 L1119.24,504.36 L1121.58,504.36 L1123.93,504.35 L1126.27,504.34 L1128.62,504.34 L1130.96,504.33 L1133.31,504.33 L1135.65,504.32 L1138,504.32 L1140.34,504.31 L1142.68,504.31 L1145.03,504.31 L1147.37,504.3 L1149.72,504.3 L1152.06,504.29 L1154.41,504.29 L1156.75,504.29 L1159.1,504.29" fill="none" stroke="#000" stroke-width="2.2" stroke-dasharray="5.1 5" stroke-linejoin="round" />
<path d="M584.4,502.7 L587.88,502.64 L591.35,502.58 L594.83,502.52 L598.3,502.45 L601.78,502.38 L605.25,502.31 L608.73,502.23 L612.2,502.15 L615.68,502.06 L619.15,501.97 L622.63,501.88 L626.1,501.78 L629.58,501.67 L633.05,501.55 L636.53,501.43 L640,501.3 L643.48,501.17 L646.95,501.02 L650.43,500.87 L653.9,500.7 L657.38,500.53 L660.85,500.34 L664.33,500.14 L667.8,499.92 L671.28,499.69 L674.75,499.44 L678.23,499.17 L681.7,498.89 L685.18,498.58 L688.65,498.24 L692.13,497.88 L695.6,497.49 L699.08,497.07 L702.55,496.61 L706.03,496.11 L709.5,495.57 L712.98,494.97 L716.45,494.33 L719.93,493.61 L723.4,492.83 L726.88,491.97 L730.35,491.02 L733.83,489.97 L737.3,488.8 L740.78,487.51 L744.25,486.06 L747.73,484.44 L751.2,482.62 L754.68,480.58 L756.1,479.67 L756.8,479.2 L757.49,478.73 L758.19,478.24 L758.89,477.74 L759.59,477.22 L760.28,476.7 L760.98,476.15 L761.68,475.6 L762.38,475.03 L763.07,474.44 L763.77,473.84 L764.47,473.23 L765.17,472.59 L765.86,471.94 L766.56,471.27 L767.26,470.58 L767.96,469.87 L768.65,469.15 L769.35,468.4 L770.05,467.63 L770.75,466.84 L771.44,466.02 L772.14,465.18 L772.84,464.32 L773.54,463.43 L774.23,462.51 L774.93,461.57 L775.63,460.6 L776.33,459.6 L777.02,458.56 L777.72,457.5 L778.42,456.4 L779.12,455.27 L779.81,454.1 L780.51,452.89 L781.21,451.65 L781.91,450.36 L782.6,449.03 L783.3,447.66 L784,446.24 L784.7,444.77 L785.39,443.26 L786.09,441.69 L786.79,440.07 L787.49,438.39 L788.18,436.65 L788.88,434.85 L789.58,432.98 L790.28,431.05 L790.97,429.05 L791.67,426.98 L792.37,424.82 L793.07,422.59 L793.76,420.27 L794.46,417.86 L795.16,415.36 L795.86,412.77 L796.55,410.07 L797.25,407.26" fill="none" stroke="#0000ff" stroke-width="3" stroke-linejoin="round" />
<path d="M970.37,641.24 L970.69,641.24 L971.01,641.24 L971.34,641.24 L971.66,641.24 L971.98,641.24 L972.31,641.24 L972.63,633.45 L972.95,624.67 L973.28,616.57 L973.6,609.07 L973.92,602.12 L974.25,595.68 L974.57,589.7 L974.89,584.14 L975.22,578.96 L975.54,574.14 L975.86,569.64 L976.19,565.44 L976.51,561.52 L976.83,557.85 L977.16,554.42 L977.48,551.2 L977.8,548.18 L978.13,545.35 L978.45,542.7 L978.77,540.2 L979.1,537.85 L979.42,535.64 L979.74,533.56 L980.07,531.6 L980.39,529.75 L980.71,528 L981.04,526.36 L981.36,524.8 L981.68,523.34 L982.01,521.95 L982.33,520.64 L982.65,519.39 L982.98,518.22 L983.3,517.1 L983.62,516.05 L983.95,515.05 L984.27,514.1 L984.59,513.21 L984.92,512.35 L985.24,511.54 L985.56,510.78 L985.89,510.05 L986.21,509.36 L986.53,508.7 L986.86,508.07 L987.18,507.48 L987.5,506.91 L987.83,506.38 L988.15,505.87 L988.47,505.38 L988.8,504.92 L989.12,504.48 L989.44,504.06 L989.77,503.66 L990.09,503.29 L990.41,502.93 L990.74,502.58 L991.06,502.26 L991.38,501.95 L991.71,501.65 L992.03,501.37 L992.35,501.1 L992.68,500.85 L993,500.6 L993.32,500.37 L993.65,500.15 L993.97,499.94 L994.29,499.75 L994.62,499.56 L994.94,499.38 L995.26,499.21 L995.59,499.04 L995.91,498.89 L997.33,498.3 L999.67,497.58 L1002.02,497.11 L1004.36,496.82 L1006.71,496.66 L1009.05,496.6 L1011.4,496.61 L1013.74,496.68 L1016.08,496.78 L1018.43,496.92 L1020.77,497.07 L1023.12,497.24 L1025.46,497.42 L1027.81,497.6 L1030.15,497.79 L1032.5,497.98 L1034.84,498.17 L1037.18,498.35 L1039.53,498.53 L1041.87,498.71 L1044.22,498.88 L1046.56,499.05 L1048.91,499.21 L1051.25,499.37 L1053.6,499.53 L1055.94,499.67 L1058.28,499.82 L1060.63,499.96 L1062.97,500.09 L1065.32,500.22 L1067.66,500.34 L1070.01,500.46 L1072.35,500.58 L1074.7,500.69 L1077.04,500.79 L1079.38,500.9 L1081.73,501 L1084.07,501.09 L1086.42,501.18 L1088.76,501.27 L1091.11,501.36 L1093.45,501.44 L1095.8,501.52 L1098.14,501.6 L1100.48,501.67 L1102.83,501.74 L1105.17,501.81 L1107.52,501.87 L1109.86,501.94 L1112.21,502 L1114.55,502.06 L1116.9,502.12 L1119.24,502.17 L1121.58,502.23 L1123.93,502.28 L1126.27,502.33 L1128.62,502.37 L1130.96,502.42 L1133.31,502.47 L1135.65,502.51 L1138,502.55 L1140.34,502.59 L1142.68,502.63 L1145.03,502.67 L1147.37,502.71 L1149.72,502.74 L1152.06,502.78 L1154.41,502.81 L1156.75,502.84 L1159.1,502.88" fill="none" stroke="#0000ff" stroke-width="3" stroke-linejoin="round" />
<circle cx="584.4" cy="502.68" r="4.1"/>
<circle cx="598.59" cy="502.43" r="4.1"/>
<circle cx="612.78" cy="502.12" r="4.1"/>
<circle cx="626.97" cy="501.73" r="4.1"/>
<circle cx="641.16" cy="501.24" r="4.1"/>
<circle cx="655.35" cy="500.6" r="4.1"/>
<circle cx="669.54" cy="499.78" r="4.1"/>
<circle cx="683.73" cy="498.67" r="4.1"/>
<circle cx="697.92" cy="497.17" r="4.1"/>
<circle cx="712.11" cy="495.08" r="4.1"/>
<circle cx="726.3" cy="492.06" r="4.1"/>
<circle cx="740.49" cy="487.55" r="4.1"/>
<circle cx="754.68" cy="480.49" r="4.1"/>
<circle cx="768.87" cy="468.81" r="4.1"/>
<circle cx="783.06" cy="448" r="4.1"/>
<circle cx="797.25" cy="407.08" r="4.1"/>
<circle cx="939.15" cy="407.08" r="4.1"/>
<circle cx="953.34" cy="448" r="4.1"/>
<circle cx="967.53" cy="468.81" r="4.1"/>
<circle cx="981.72" cy="480.49" r="4.1"/>
<circle cx="995.91" cy="487.55" r="4.1"/>
<circle cx="1010.1" cy="492.06" r="4.1"/>
<circle cx="1024.29" cy="495.08" r="4.1"/>
<circle cx="1038.48" cy="497.17" r="4.1"/>
<circle cx="1052.67" cy="498.67" r="4.1"/>
<circle cx="1066.86" cy="499.78" r="4.1"/>
<circle cx="1081.05" cy="500.6" r="4.1"/>
<circle cx="1095.24" cy="501.24" r="4.1"/>
<circle cx="1109.43" cy="501.73" r="4.1"/>
<circle cx="1123.62" cy="502.12" r="4.1"/>
<circle cx="1137.81" cy="502.43" r="4.1"/>
<circle cx="1152" cy="502.68" r="4.1"/>
</g>
<rect x="793.95" y="67" width="4.3" height="551.8" fill="#9e9e9e"/>
<rect x="936.75" y="67" width="4.3" height="551.8" fill="#9e9e9e"/>
<rect x="796.5" y="67" width="142.3" height="551.8" fill="rgb(84,164,166)" fill-opacity="0.31"/>
<defs><clipPath id="cmb"><rect x="920" y="100" width="16.8" height="30"/></clipPath></defs>
<circle cx="936.6" cy="111.7" r="4.3" fill="#3030ff" clip-path="url(#cmb)"/>
<circle cx="863.2" cy="112.6" r="36.8" fill="#229c27"/>
<path d="M843,111.8 L843.8,111.8 C845.9,111.8 845.55,117.8 850.3,117.8 L850.3,117.8 L850.52,117.79 L850.74,117.77 L850.96,117.73 L851.18,117.67 L851.39,117.6 L851.61,117.51 L851.82,117.4 L852.03,117.28 L852.23,117.15 L852.43,117 L852.63,116.83 L852.82,116.65 L853.01,116.46 L853.19,116.26 L853.36,116.04 L853.53,115.81 L853.69,115.58 L853.85,115.33 L854,115.07 L854.14,114.8 L854.27,114.52 L854.4,114.24 L854.51,113.95 L854.62,113.65 L854.72,113.35 L854.82,113.05 L854.9,112.74 L854.98,112.43 L855.04,112.11 L855.1,111.8 L855.15,111.49 L855.19,111.17 L855.22,110.86 L855.24,110.55 L855.26,110.25 L855.26,109.95 L855.26,109.65 L855.25,109.36 L855.23,109.08 L855.2,108.8 L855.17,108.53 L855.13,108.27 L855.08,108.02 L855.02,107.79 L854.96,107.56 L854.89,107.34 L854.82,107.14 L854.74,106.95 L854.66,106.77 L854.57,106.6 L854.47,106.45 L854.37,106.32 L854.27,106.2 L854.17,106.09 L854.06,106 L853.95,105.93 L853.84,105.87 L853.73,105.83 L853.61,105.81 L853.5,105.8 L853.39,105.81 L853.27,105.83 L853.16,105.87 L853.05,105.93 L852.94,106 L852.83,106.09 L852.73,106.2 L852.63,106.32 L852.53,106.45 L852.43,106.6 L852.34,106.77 L852.26,106.95 L852.18,107.14 L852.11,107.34 L852.04,107.56 L851.98,107.79 L851.92,108.02 L851.87,108.27 L851.83,108.53 L851.8,108.8 L851.77,109.08 L851.75,109.36 L851.74,109.65 L851.74,109.95 L851.74,110.25 L851.76,110.55 L851.78,110.86 L851.81,111.17 L851.85,111.49 L851.9,111.8 L851.96,112.11 L852.02,112.43 L852.1,112.74 L852.18,113.05 L852.28,113.35 L852.38,113.65 L852.49,113.95 L852.6,114.24 L852.73,114.52 L852.86,114.8 L853,115.07 L853.15,115.33 L853.31,115.58 L853.47,115.81 L853.64,116.04 L853.81,116.26 L853.99,116.46 L854.18,116.65 L854.37,116.83 L854.57,117 L854.77,117.15 L854.97,117.28 L855.18,117.4 L855.39,117.51 L855.61,117.6 L855.82,117.67 L856.04,117.73 L856.26,117.77 L856.48,117.79 L856.7,117.8 L856.92,117.79 L857.14,117.77 L857.36,117.73 L857.58,117.67 L857.79,117.6 L858.01,117.51 L858.22,117.4 L858.43,117.28 L858.63,117.15 L858.83,117 L859.03,116.83 L859.22,116.65 L859.41,116.46 L859.59,116.26 L859.76,116.04 L859.93,115.81 L860.09,115.58 L860.25,115.33 L860.4,115.07 L860.54,114.8 L860.67,114.52 L860.8,114.24 L860.91,113.95 L861.02,113.65 L861.12,113.35 L861.22,113.05 L861.3,112.74 L861.38,112.43 L861.44,112.11 L861.5,111.8 L861.55,111.49 L861.59,111.17 L861.62,110.86 L861.64,110.55 L861.66,110.25 L861.66,109.95 L861.66,109.65 L861.65,109.36 L861.63,109.08 L861.6,108.8 L861.57,108.53 L861.53,108.27 L861.48,108.02 L861.42,107.79 L861.36,107.56 L861.29,107.34 L861.22,107.14 L861.14,106.95 L861.06,106.77 L860.97,106.6 L860.87,106.45 L860.77,106.32 L860.67,106.2 L860.57,106.09 L860.46,106 L860.35,105.93 L860.24,105.87 L860.13,105.83 L860.01,105.81 L859.9,105.8 L859.79,105.81 L859.67,105.83 L859.56,105.87 L859.45,105.93 L859.34,106 L859.23,106.09 L859.13,106.2 L859.03,106.32 L858.93,106.45 L858.83,106.6 L858.74,106.77 L858.66,106.95 L858.58,107.14 L858.51,107.34 L858.44,107.56 L858.38,107.79 L858.32,108.02 L858.27,108.27 L858.23,108.53 L858.2,108.8 L858.17,109.08 L858.15,109.36 L858.14,109.65 L858.14,109.95 L858.14,110.25 L858.16,110.55 L858.18,110.86 L858.21,111.17 L858.25,111.49 L858.3,111.8 L858.36,112.11 L858.42,112.43 L858.5,112.74 L858.58,113.05 L858.68,113.35 L858.78,113.65 L858.89,113.95 L859,114.24 L859.13,114.52 L859.26,114.8 L859.4,115.07 L859.55,115.33 L859.71,115.58 L859.87,115.81 L860.04,116.04 L860.21,116.26 L860.39,116.46 L860.58,116.65 L860.77,116.83 L860.97,117 L861.17,117.15 L861.37,117.28 L861.58,117.4 L861.79,117.51 L862.01,117.6 L862.22,117.67 L862.44,117.73 L862.66,117.77 L862.88,117.79 L863.1,117.8 L863.32,117.79 L863.54,117.77 L863.76,117.73 L863.98,117.67 L864.19,117.6 L864.41,117.51 L864.62,117.4 L864.83,117.28 L865.03,117.15 L865.23,117 L865.43,116.83 L865.62,116.65 L865.81,116.46 L865.99,116.26 L866.16,116.04 L866.33,115.81 L866.49,115.58 L866.65,115.33 L866.8,115.07 L866.94,114.8 L867.07,114.52 L867.2,114.24 L867.31,113.95 L867.42,113.65 L867.52,113.35 L867.62,113.05 L867.7,112.74 L867.78,112.43 L867.84,112.11 L867.9,111.8 L867.95,111.49 L867.99,111.17 L868.02,110.86 L868.04,110.55 L868.06,110.25 L868.06,109.95 L868.06,109.65 L868.05,109.36 L868.03,109.08 L868,108.8 L867.97,108.53 L867.93,108.27 L867.88,108.02 L867.82,107.79 L867.76,107.56 L867.69,107.34 L867.62,107.14 L867.54,106.95 L867.46,106.77 L867.37,106.6 L867.27,106.45 L867.17,106.32 L867.07,106.2 L866.97,106.09 L866.86,106 L866.75,105.93 L866.64,105.87 L866.53,105.83 L866.41,105.81 L866.3,105.8 L866.19,105.81 L866.07,105.83 L865.96,105.87 L865.85,105.93 L865.74,106 L865.63,106.09 L865.53,106.2 L865.43,106.32 L865.33,106.45 L865.23,106.6 L865.14,106.77 L865.06,106.95 L864.98,107.14 L864.91,107.34 L864.84,107.56 L864.78,107.79 L864.72,108.02 L864.67,108.27 L864.63,108.53 L864.6,108.8 L864.57,109.08 L864.55,109.36 L864.54,109.65 L864.54,109.95 L864.54,110.25 L864.56,110.55 L864.58,110.86 L864.61,111.17 L864.65,111.49 L864.7,111.8 L864.76,112.11 L864.82,112.43 L864.9,112.74 L864.98,113.05 L865.08,113.35 L865.18,113.65 L865.29,113.95 L865.4,114.24 L865.53,114.52 L865.66,114.8 L865.8,115.07 L865.95,115.33 L866.11,115.58 L866.27,115.81 L866.44,116.04 L866.61,116.26 L866.79,116.46 L866.98,116.65 L867.17,116.83 L867.37,117 L867.57,117.15 L867.77,117.28 L867.98,117.4 L868.19,117.51 L868.41,117.6 L868.62,117.67 L868.84,117.73 L869.06,117.77 L869.28,117.79 L869.5,117.8 L869.72,117.79 L869.94,117.77 L870.16,117.73 L870.38,117.67 L870.59,117.6 L870.81,117.51 L871.02,117.4 L871.23,117.28 L871.43,117.15 L871.63,117 L871.83,116.83 L872.02,116.65 L872.21,116.46 L872.39,116.26 L872.56,116.04 L872.73,115.81 L872.89,115.58 L873.05,115.33 L873.2,115.07 L873.34,114.8 L873.47,114.52 L873.6,114.24 L873.71,113.95 L873.82,113.65 L873.92,113.35 L874.02,113.05 L874.1,112.74 L874.18,112.43 L874.24,112.11 L874.3,111.8 L874.35,111.49 L874.39,111.17 L874.42,110.86 L874.44,110.55 L874.46,110.25 L874.46,109.95 L874.46,109.65 L874.45,109.36 L874.43,109.08 L874.4,108.8 L874.37,108.53 L874.33,108.27 L874.28,108.02 L874.22,107.79 L874.16,107.56 L874.09,107.34 L874.02,107.14 L873.94,106.95 L873.86,106.77 L873.77,106.6 L873.67,106.45 L873.57,106.32 L873.47,106.2 L873.37,106.09 L873.26,106 L873.15,105.93 L873.04,105.87 L872.93,105.83 L872.81,105.81 L872.7,105.8 L872.59,105.81 L872.47,105.83 L872.36,105.87 L872.25,105.93 L872.14,106 L872.03,106.09 L871.93,106.2 L871.83,106.32 L871.73,106.45 L871.63,106.6 L871.54,106.77 L871.46,106.95 L871.38,107.14 L871.31,107.34 L871.24,107.56 L871.18,107.79 L871.12,108.02 L871.07,108.27 L871.03,108.53 L871,108.8 L870.97,109.08 L870.95,109.36 L870.94,109.65 L870.94,109.95 L870.94,110.25 L870.96,110.55 L870.98,110.86 L871.01,111.17 L871.05,111.49 L871.1,111.8 L871.16,112.11 L871.22,112.43 L871.3,112.74 L871.38,113.05 L871.48,113.35 L871.58,113.65 L871.69,113.95 L871.8,114.24 L871.93,114.52 L872.06,114.8 L872.2,115.07 L872.35,115.33 L872.51,115.58 L872.67,115.81 L872.84,116.04 L873.01,116.26 L873.19,116.46 L873.38,116.65 L873.57,116.83 L873.77,117 L873.97,117.15 L874.17,117.28 L874.38,117.4 L874.59,117.51 L874.81,117.6 L875.02,117.67 L875.24,117.73 L875.46,117.77 L875.68,117.79 L875.9,117.8 C879.65,117.8 879.3,111.8 881.4,111.8 L883.2,111.8" fill="none" stroke="#000" stroke-width="1.1"/>
<circle cx="838.1" cy="111.9" r="5.3" fill="#0000ff"/>
<circle cx="888.2" cy="111.6" r="5.4" fill="#ff0000"/>
<ellipse cx="958.3" cy="111.7" rx="18.2" ry="10.1" fill="#fcc8fc"/>
<rect x="951.6" y="117" width="4.0" height="501.8" fill="#42250a"/>
<path d="M941.2,112.3 L941.6,112.3 C942.92,112.3 942.7,116.9 945.4,116.9 L945.4,116.9 L945.57,116.89 L945.73,116.87 L945.9,116.84 L946.07,116.8 L946.23,116.74 L946.39,116.67 L946.55,116.59 L946.71,116.5 L946.86,116.4 L947.02,116.28 L947.17,116.16 L947.31,116.02 L947.45,115.87 L947.59,115.72 L947.72,115.55 L947.85,115.38 L947.97,115.19 L948.09,115 L948.2,114.81 L948.31,114.6 L948.41,114.39 L948.51,114.17 L948.6,113.95 L948.68,113.72 L948.76,113.49 L948.83,113.26 L948.9,113.02 L948.95,112.78 L949.01,112.54 L949.05,112.3 L949.09,112.06 L949.12,111.82 L949.15,111.58 L949.16,111.34 L949.18,111.11 L949.18,110.88 L949.18,110.65 L949.18,110.43 L949.16,110.21 L949.15,110 L949.12,109.79 L949.09,109.6 L949.06,109.41 L949.02,109.22 L948.97,109.05 L948.92,108.88 L948.87,108.73 L948.81,108.58 L948.75,108.44 L948.68,108.32 L948.61,108.2 L948.54,108.1 L948.47,108.01 L948.39,107.93 L948.31,107.86 L948.23,107.8 L948.15,107.76 L948.07,107.73 L947.98,107.71 L947.9,107.7 L947.82,107.71 L947.73,107.73 L947.65,107.76 L947.57,107.8 L947.49,107.86 L947.41,107.93 L947.33,108.01 L947.26,108.1 L947.19,108.2 L947.12,108.32 L947.05,108.44 L946.99,108.58 L946.93,108.73 L946.88,108.88 L946.83,109.05 L946.78,109.22 L946.74,109.41 L946.71,109.6 L946.68,109.79 L946.65,110 L946.64,110.21 L946.62,110.43 L946.62,110.65 L946.62,110.88 L946.62,111.11 L946.64,111.34 L946.65,111.58 L946.68,111.82 L946.71,112.06 L946.75,112.3 L946.79,112.54 L946.85,112.78 L946.9,113.02 L946.97,113.26 L947.04,113.49 L947.12,113.72 L947.2,113.95 L947.29,114.17 L947.39,114.39 L947.49,114.6 L947.6,114.81 L947.71,115 L947.83,115.19 L947.95,115.38 L948.08,115.55 L948.21,115.72 L948.35,115.87 L948.49,116.02 L948.63,116.16 L948.78,116.28 L948.94,116.4 L949.09,116.5 L949.25,116.59 L949.41,116.67 L949.57,116.74 L949.73,116.8 L949.9,116.84 L950.07,116.87 L950.23,116.89 L950.4,116.9 L950.57,116.89 L950.73,116.87 L950.9,116.84 L951.07,116.8 L951.23,116.74 L951.39,116.67 L951.55,116.59 L951.71,116.5 L951.86,116.4 L952.02,116.28 L952.17,116.16 L952.31,116.02 L952.45,115.87 L952.59,115.72 L952.72,115.55 L952.85,115.38 L952.97,115.19 L953.09,115 L953.2,114.81 L953.31,114.6 L953.41,114.39 L953.51,114.17 L953.6,113.95 L953.68,113.72 L953.76,113.49 L953.83,113.26 L953.9,113.02 L953.95,112.78 L954.01,112.54 L954.05,112.3 L954.09,112.06 L954.12,111.82 L954.15,111.58 L954.16,111.34 L954.18,111.11 L954.18,110.88 L954.18,110.65 L954.18,110.43 L954.16,110.21 L954.15,110 L954.12,109.79 L954.09,109.6 L954.06,109.41 L954.02,109.22 L953.97,109.05 L953.92,108.88 L953.87,108.73 L953.81,108.58 L953.75,108.44 L953.68,108.32 L953.61,108.2 L953.54,108.1 L953.47,108.01 L953.39,107.93 L953.31,107.86 L953.23,107.8 L953.15,107.76 L953.07,107.73 L952.98,107.71 L952.9,107.7 L952.82,107.71 L952.73,107.73 L952.65,107.76 L952.57,107.8 L952.49,107.86 L952.41,107.93 L952.33,108.01 L952.26,108.1 L952.19,108.2 L952.12,108.32 L952.05,108.44 L951.99,108.58 L951.93,108.73 L951.88,108.88 L951.83,109.05 L951.78,109.22 L951.74,109.41 L951.71,109.6 L951.68,109.79 L951.65,110 L951.64,110.21 L951.62,110.43 L951.62,110.65 L951.62,110.88 L951.62,111.11 L951.64,111.34 L951.65,111.58 L951.68,111.82 L951.71,112.06 L951.75,112.3 L951.79,112.54 L951.85,112.78 L951.9,113.02 L951.97,113.26 L952.04,113.49 L952.12,113.72 L952.2,113.95 L952.29,114.17 L952.39,114.39 L952.49,114.6 L952.6,114.81 L952.71,115 L952.83,115.19 L952.95,115.38 L953.08,115.55 L953.21,115.72 L953.35,115.87 L953.49,116.02 L953.63,116.16 L953.78,116.28 L953.94,116.4 L954.09,116.5 L954.25,116.59 L954.41,116.67 L954.57,116.74 L954.73,116.8 L954.9,116.84 L955.07,116.87 L955.23,116.89 L955.4,116.9 L955.57,116.89 L955.73,116.87 L955.9,116.84 L956.07,116.8 L956.23,116.74 L956.39,116.67 L956.55,116.59 L956.71,116.5 L956.86,116.4 L957.02,116.28 L957.17,116.16 L957.31,116.02 L957.45,115.87 L957.59,115.72 L957.72,115.55 L957.85,115.38 L957.97,115.19 L958.09,115 L958.2,114.81 L958.31,114.6 L958.41,114.39 L958.51,114.17 L958.6,113.95 L958.68,113.72 L958.76,113.49 L958.83,113.26 L958.9,113.02 L958.95,112.78 L959.01,112.54 L959.05,112.3 L959.09,112.06 L959.12,111.82 L959.15,111.58 L959.16,111.34 L959.18,111.11 L959.18,110.88 L959.18,110.65 L959.18,110.43 L959.16,110.21 L959.15,110 L959.12,109.79 L959.09,109.6 L959.06,109.41 L959.02,109.22 L958.97,109.05 L958.92,108.88 L958.87,108.73 L958.81,108.58 L958.75,108.44 L958.68,108.32 L958.61,108.2 L958.54,108.1 L958.47,108.01 L958.39,107.93 L958.31,107.86 L958.23,107.8 L958.15,107.76 L958.07,107.73 L957.98,107.71 L957.9,107.7 L957.82,107.71 L957.73,107.73 L957.65,107.76 L957.57,107.8 L957.49,107.86 L957.41,107.93 L957.33,108.01 L957.26,108.1 L957.19,108.2 L957.12,108.32 L957.05,108.44 L956.99,108.58 L956.93,108.73 L956.88,108.88 L956.83,109.05 L956.78,109.22 L956.74,109.41 L956.71,109.6 L956.68,109.79 L956.65,110 L956.64,110.21 L956.62,110.43 L956.62,110.65 L956.62,110.88 L956.62,111.11 L956.64,111.34 L956.65,111.58 L956.68,111.82 L956.71,112.06 L956.75,112.3 L956.79,112.54 L956.85,112.78 L956.9,113.02 L956.97,113.26 L957.04,113.49 L957.12,113.72 L957.2,113.95 L957.29,114.17 L957.39,114.39 L957.49,114.6 L957.6,114.81 L957.71,115 L957.83,115.19 L957.95,115.38 L958.08,115.55 L958.21,115.72 L958.35,115.87 L958.49,116.02 L958.63,116.16 L958.78,116.28 L958.94,116.4 L959.09,116.5 L959.25,116.59 L959.41,116.67 L959.57,116.74 L959.73,116.8 L959.9,116.84 L960.07,116.87 L960.23,116.89 L960.4,116.9 L960.57,116.89 L960.73,116.87 L960.9,116.84 L961.07,116.8 L961.23,116.74 L961.39,116.67 L961.55,116.59 L961.71,116.5 L961.86,116.4 L962.02,116.28 L962.17,116.16 L962.31,116.02 L962.45,115.87 L962.59,115.72 L962.72,115.55 L962.85,115.38 L962.97,115.19 L963.09,115 L963.2,114.81 L963.31,114.6 L963.41,114.39 L963.51,114.17 L963.6,113.95 L963.68,113.72 L963.76,113.49 L963.83,113.26 L963.9,113.02 L963.95,112.78 L964.01,112.54 L964.05,112.3 L964.09,112.06 L964.12,111.82 L964.15,111.58 L964.16,111.34 L964.18,111.11 L964.18,110.88 L964.18,110.65 L964.18,110.43 L964.16,110.21 L964.15,110 L964.12,109.79 L964.09,109.6 L964.06,109.41 L964.02,109.22 L963.97,109.05 L963.92,108.88 L963.87,108.73 L963.81,108.58 L963.75,108.44 L963.68,108.32 L963.61,108.2 L963.54,108.1 L963.47,108.01 L963.39,107.93 L963.31,107.86 L963.23,107.8 L963.15,107.76 L963.07,107.73 L962.98,107.71 L962.9,107.7 L962.82,107.71 L962.73,107.73 L962.65,107.76 L962.57,107.8 L962.49,107.86 L962.41,107.93 L962.33,108.01 L962.26,108.1 L962.19,108.2 L962.12,108.32 L962.05,108.44 L961.99,108.58 L961.93,108.73 L961.88,108.88 L961.83,109.05 L961.78,109.22 L961.74,109.41 L961.71,109.6 L961.68,109.79 L961.65,110 L961.64,110.21 L961.62,110.43 L961.62,110.65 L961.62,110.88 L961.62,111.11 L961.64,111.34 L961.65,111.58 L961.68,111.82 L961.71,112.06 L961.75,112.3 L961.79,112.54 L961.85,112.78 L961.9,113.02 L961.97,113.26 L962.04,113.49 L962.12,113.72 L962.2,113.95 L962.29,114.17 L962.39,114.39 L962.49,114.6 L962.6,114.81 L962.71,115 L962.83,115.19 L962.95,115.38 L963.08,115.55 L963.21,115.72 L963.35,115.87 L963.49,116.02 L963.63,116.16 L963.78,116.28 L963.94,116.4 L964.09,116.5 L964.25,116.59 L964.41,116.67 L964.57,116.74 L964.73,116.8 L964.9,116.84 L965.07,116.87 L965.23,116.89 L965.4,116.9 C967,116.9 966.78,112.3 968.1,112.3 L968.5,112.3" fill="none" stroke="#300030" stroke-width="1.8"/>
<circle cx="972.0" cy="112.1" r="4.1" fill="#ff0033"/>
<g stroke="#141414" stroke-width="1.8" fill="none">
<path d="M584.6,65.9 V293.4 H1152.6"/>
<path d="M584.6,388.8 V618.9 H1152.6"/>
<path d="M579,66.7 H584.6 M581.8,89.44 H584.6 M581.8,112.18 H584.6 M581.8,134.91 H584.6 M579,157.65 H584.6 M581.8,180.39 H584.6 M581.8,203.12 H584.6 M581.8,225.86 H584.6 M579,248.6 H584.6 M581.8,271.34 H584.6 M581.8,294.07 H584.6 M581.8,618.4 H584.6 M581.8,606.98 H584.6 M579,595.56 H584.6 M581.8,584.14 H584.6 M581.8,572.72 H584.6 M581.8,561.3 H584.6 M579,549.88 H584.6 M581.8,538.46 H584.6 M581.8,527.04 H584.6 M581.8,515.62 H584.6 M579,504.2 H584.6 M581.8,492.78 H584.6 M581.8,481.36 H584.6 M581.8,469.94 H584.6 M579,458.52 H584.6 M581.8,447.1 H584.6 M581.8,435.68 H584.6 M581.8,424.26 H584.6 M579,412.84 H584.6 M581.8,401.42 H584.6 M581.8,390 H584.6 M584.4,293.4 V299.2 M584.4,618.9 V624.7 M619.88,293.4 V296.3 M619.88,618.9 V621.8 M655.35,293.4 V296.3 M655.35,618.9 V621.8 M690.83,293.4 V296.3 M690.83,618.9 V621.8 M726.3,293.4 V299.2 M726.3,618.9 V624.7 M761.78,293.4 V296.3 M761.78,618.9 V621.8 M797.25,293.4 V296.3 M797.25,618.9 V621.8 M832.73,293.4 V296.3 M832.73,618.9 V621.8 M868.2,293.4 V299.2 M868.2,618.9 V624.7 M903.68,293.4 V296.3 M903.68,618.9 V621.8 M939.15,293.4 V296.3 M939.15,618.9 V621.8 M974.62,293.4 V296.3 M974.62,618.9 V621.8 M1010.1,293.4 V299.2 M1010.1,618.9 V624.7 M1045.58,293.4 V296.3 M1045.58,618.9 V621.8 M1081.05,293.4 V296.3 M1081.05,618.9 V621.8 M1116.53,293.4 V296.3 M1116.53,618.9 V621.8 M1152,293.4 V299.2 M1152,618.9 V624.7" stroke-width="1.4"/>
</g>
<text transform="matrix(0.27500 0.00000 0.00000 0.27887 559.70000 77.62113)" font-size="100" font-family='"Liberation Sans", sans-serif'>0</text>
<text transform="matrix(0.27865 0.00000 0.00000 0.28451 519.68542 170.31549)" font-size="100" font-family='"Liberation Sans", sans-serif'>-100</text>
<text transform="matrix(0.27448 0.00000 0.00000 0.28169 520.50208 258.81831)" font-size="100" font-family='"Liberation Sans", sans-serif'>-200</text>
<text transform="matrix(0.27722 0.00000 0.00000 0.28028 525.91392 426.91972)" font-size="100" font-family='"Liberation Sans", sans-serif'>200</text>
<text transform="matrix(0.27097 0.00000 0.00000 0.27465 526.93226 472.12535)" font-size="100" font-family='"Liberation Sans", sans-serif'>100</text>
<text transform="matrix(0.26458 0.00000 0.00000 0.26761 557.34167 515.93239)" font-size="100" font-family='"Liberation Sans", sans-serif'>0</text>
<text transform="matrix(0.27500 0.00000 0.00000 0.27465 517.80000 561.62535)" font-size="100" font-family='"Liberation Sans", sans-serif'>-100</text>
<text transform="matrix(0.27500 0.00000 0.00000 0.27606 517.80000 606.02394)" font-size="100" font-family='"Liberation Sans", sans-serif'>-200</text>
<text transform="matrix(0.27518 0.00000 0.00000 0.27887 565.89927 652.72113)" font-size="100" font-family='"Liberation Sans", sans-serif'>-20</text>
<text transform="matrix(0.27591 0.00000 0.00000 0.27887 706.49635 652.72113)" font-size="100" font-family='"Liberation Sans", sans-serif'>-10</text>
<text transform="matrix(0.27292 0.00000 0.00000 0.28028 858.40833 653.21972)" font-size="100" font-family='"Liberation Sans", sans-serif'>0</text>
<text transform="matrix(0.27374 0.00000 0.00000 0.28310 991.71010 652.81690)" font-size="100" font-family='"Liberation Sans", sans-serif'>10</text>
<text transform="matrix(0.28137 0.00000 0.00000 0.28310 1130.49314 652.81690)" font-size="100" font-family='"Liberation Sans", sans-serif'>20</text>
<text transform="matrix(0.24783 0.00000 0.00000 0.25000 836.25217 683.05000)" font-size="100" font-family='"Liberation Sans", sans-serif'>x (nm)</text>
<text transform="matrix(0.00000 -0.34833 0.28308 0.00000 508.20000 400.85167)" font-size="100" font-family='"Liberation Serif", serif' font-style="italic">E</text>
<text transform="matrix(0.00000 -0.26000 0.18696 0.00000 512.50000 381.84000)" font-size="100" font-family='"Liberation Serif", serif' font-style="italic">x</text>
<text transform="matrix(0.00000 -0.21154 0.29444 0.00000 507.61667 366.94615)" font-size="100" font-family='"Liberation Serif", serif'>(</text>
<text transform="matrix(0.00000 -0.25238 0.25625 0.00000 507.94375 359.45714)" font-size="100" font-family='"Liberation Serif", serif' font-style="italic">ω</text>
<text transform="matrix(0.00000 -0.23846 0.29444 0.00000 507.61667 340.41538)" font-size="100" font-family='"Liberation Serif", serif'>)</text>
<text transform="matrix(0.00000 -0.41786 0.38636 0.00000 513.61364 330.80000)" font-size="100" font-family='"Liberation Serif", serif'>/</text>
<text transform="matrix(0.00000 -0.35000 0.29111 0.00000 507.88667 317.80000)" font-size="100" font-family='"Liberation Serif", serif'>|</text>
<text transform="matrix(0.00000 -0.29833 0.29538 0.00000 508.40000 310.09667)" font-size="100" font-family='"Liberation Serif", serif' font-weight="bold">E</text>
<text transform="matrix(0.00000 -0.22308 0.17727 0.00000 511.72273 290.64615)" font-size="100" font-family='"Liberation Serif", serif'>inc</text>
<text transform="matrix(0.00000 -0.35000 0.29111 0.00000 507.88667 261.40000)" font-size="100" font-family='"Liberation Serif", serif'>|</text>
<text transform="matrix(0.40500 0.00000 0.00000 0.34000 596.40500 244.00000)" font-size="100" font-family='"Liberation Serif", serif' font-style="italic" fill="#0000ff">E</text>
<text transform="matrix(0.26444 0.00000 0.00000 0.21957 620.06444 249.20000)" font-size="100" font-family='"Liberation Serif", serif' font-style="italic" fill="#0000ff">x</text>
<text transform="matrix(0.30385 0.00000 0.00000 0.37000 636.68462 244.73000)" font-size="100" font-family='"Liberation Serif", serif' fill="#0000ff">(</text>
<text transform="matrix(0.31587 0.00000 0.00000 0.31875 647.15238 244.68125)" font-size="100" font-family='"Liberation Serif", serif' font-style="italic" fill="#0000ff">ω</text>
<text transform="matrix(0.36170 0.00000 0.00000 0.37556 667.79149 255.93111)" font-size="100" font-family='"Liberation Serif", serif' fill="#0000ff">+</text>
<text transform="matrix(0.23723 0.00000 0.00000 0.18953 689.55106 249.81977)" font-size="100" font-family='"Liberation Serif", serif' fill="#0000ff">,SpC</text>
<text transform="matrix(0.30385 0.00000 0.00000 0.37000 738.38846 244.73000)" font-size="100" font-family='"Liberation Serif", serif' fill="#0000ff">)</text>
<text transform="matrix(0.40500 0.00000 0.00000 0.34000 590.10500 455.80000)" font-size="100" font-family='"Liberation Serif", serif' font-style="italic" fill="#0000ff">E</text>
<text transform="matrix(0.26444 0.00000 0.00000 0.21957 613.76444 461.00000)" font-size="100" font-family='"Liberation Serif", serif' font-style="italic" fill="#0000ff">x</text>
<text transform="matrix(0.30385 0.00000 0.00000 0.37000 630.38462 456.53000)" font-size="100" font-family='"Liberation Serif", serif' fill="#0000ff">(</text>
<text transform="matrix(0.31587 0.00000 0.00000 0.31875 640.85238 456.48125)" font-size="100" font-family='"Liberation Serif", serif' font-style="italic" fill="#0000ff">ω</text>
<text transform="matrix(0.36170 0.00000 0.00000 0.36170 661.49149 467.26702)" font-size="100" font-family='"Liberation Serif", serif' fill="#0000ff">−</text>
<text transform="matrix(0.23723 0.00000 0.00000 0.18953 683.25106 461.61977)" font-size="100" font-family='"Liberation Serif", serif' fill="#0000ff">,SpC</text>
<text transform="matrix(0.30385 0.00000 0.00000 0.37000 732.08846 456.53000)" font-size="100" font-family='"Liberation Serif", serif' fill="#0000ff">)</text>
<text transform="matrix(0.28511 0.00000 0.00000 0.28824 997.70000 267.94706)" font-size="100" font-family='"Liberation Serif", serif' font-style="italic">g</text>
<text transform="matrix(0.21250 0.00000 0.00000 0.17674 1010.51250 272.08837)" font-size="100" font-family='"Liberation Serif", serif'>SpC</text>
<text transform="matrix(0.42766 0.00000 0.00000 0.33200 1055.36170 271.47200)" font-size="100" font-family='"Liberation Serif", serif'>=</text>
<text transform="matrix(0.30000 0.00000 0.00000 0.29706 1086.50000 267.70588)" font-size="100" font-family='"Liberation Serif", serif'>0.1</text>
<text transform="matrix(0.28095 0.00000 0.00000 0.28750 1123.75714 268.31250)" font-size="100" font-family='"Liberation Serif", serif' font-style="italic">ω</text>
<text transform="matrix(0.23778 0.00000 0.00000 0.20000 1141.84889 271.90000)" font-size="100" font-family='"Liberation Serif", serif'>cav</text>
<circle cx="615.6" cy="537.1" r="4.3"/>
<text transform="matrix(0.21912 0.00000 0.00000 0.21489 662.60441 534.58723)" font-size="100" font-family='"Liberation Sans", sans-serif'>Cavity</text>
<text transform="matrix(0.21893 0.00000 0.00000 0.21757 640.02426 555.18243)" font-size="100" font-family='"Liberation Sans", sans-serif'>contribution</text>
<line x1="599.1" y1="581.3" x2="630.1" y2="581.3" stroke="#000" stroke-width="1.5" stroke-dasharray="4.2 2.2"/>
<text transform="matrix(0.22062 0.00000 0.00000 0.21081 653.13505 581.28919)" font-size="100" font-family='"Liberation Sans", sans-serif'>Molecule</text>
<text transform="matrix(0.21893 0.00000 0.00000 0.21486 640.02426 601.58514)" font-size="100" font-family='"Liberation Sans", sans-serif'>contribution</text>
<text transform="matrix(0.49554 0.00000 0.00000 0.49681 1212.62232 41.26702)" font-size="100" font-family='"Liberation Sans", sans-serif' font-weight="bold">(c)</text>
<text transform="matrix(0.33833 0.00000 0.00000 0.33919 1565.79337 43.26081)" font-size="100" font-family='"Liberation Sans", sans-serif'>Far field</text>
<defs><clipPath id="cc"><rect x="1347.5" y="40" width="584" height="250.8"/></clipPath></defs>
<g clip-path="url(#cc)">
<path d="M1346.9,290.64 L1348.85,290.64 L1350.81,290.63 L1352.76,290.63 L1354.72,290.63 L1356.67,290.62 L1358.63,290.62 L1360.58,290.61 L1362.54,290.61 L1364.49,290.6 L1366.45,290.6 L1368.4,290.59 L1370.35,290.58 L1372.31,290.58 L1374.26,290.57 L1376.22,290.57 L1378.17,290.56 L1380.13,290.55 L1382.08,290.54 L1384.04,290.54 L1385.99,290.53 L1387.94,290.52 L1389.9,290.51 L1391.85,290.5 L1393.81,290.49 L1395.76,290.48 L1397.72,290.47 L1399.67,290.45 L1401.63,290.44 L1403.58,290.43 L1405.54,290.41 L1407.49,290.4 L1409.44,290.38 L1411.4,290.36 L1413.35,290.34 L1415.31,290.32 L1417.26,290.3 L1419.22,290.28 L1421.17,290.26 L1423.13,290.23 L1425.08,290.2 L1427.04,290.17 L1428.72,290.14 L1428.99,290.14 L1429.16,290.14 L1429.6,290.13 L1430.04,290.12 L1430.48,290.11 L1430.93,290.1 L1430.94,290.1 L1431.37,290.09 L1431.81,290.09 L1432.25,290.08 L1432.69,290.07 L1432.9,290.06 L1433.14,290.06 L1433.58,290.05 L1434.02,290.04 L1434.46,290.03 L1434.85,290.02 L1434.9,290.02 L1435.35,290.01 L1435.79,290 L1436.23,289.99 L1436.67,289.98 L1436.81,289.98 L1437.11,289.97 L1437.56,289.96 L1438,289.95 L1438.44,289.94 L1438.76,289.93 L1438.88,289.93 L1439.32,289.91 L1439.77,289.9 L1440.21,289.89 L1440.65,289.88 L1440.72,289.87 L1441.09,289.86 L1441.53,289.85 L1441.98,289.84 L1442.42,289.82 L1442.67,289.82 L1442.86,289.81 L1443.3,289.8 L1443.74,289.78 L1444.19,289.77 L1444.63,289.75 L1444.63,289.75 L1445.07,289.73 L1445.51,289.72 L1445.95,289.7 L1446.4,289.69 L1446.58,289.68 L1446.84,289.67 L1447.28,289.65 L1447.72,289.63 L1448.16,289.61 L1448.53,289.6 L1448.61,289.6 L1449.05,289.58 L1449.49,289.56 L1449.93,289.54 L1450.37,289.52 L1450.49,289.51 L1450.82,289.49 L1451.26,289.47 L1451.7,289.45 L1452.14,289.43 L1452.44,289.41 L1452.58,289.4 L1453.03,289.38 L1453.47,289.36 L1453.91,289.33 L1454.35,289.3 L1454.4,289.3 L1454.79,289.28 L1455.23,289.25 L1455.68,289.22 L1456.12,289.19 L1456.35,289.18 L1456.56,289.16 L1457,289.13 L1457.44,289.1 L1457.89,289.07 L1458.31,289.04 L1458.33,289.03 L1458.77,289 L1459.21,288.96 L1459.65,288.93 L1460.1,288.89 L1460.26,288.88 L1460.54,288.85 L1460.98,288.81 L1461.42,288.77 L1461.86,288.73 L1462.22,288.69 L1462.31,288.68 L1462.75,288.64 L1463.19,288.59 L1463.63,288.54 L1464.07,288.49 L1464.17,288.48 L1464.52,288.44 L1464.96,288.39 L1465.4,288.33 L1465.84,288.28 L1466.13,288.24 L1466.28,288.22 L1466.73,288.16 L1467.17,288.09 L1467.61,288.03 L1468.05,287.96 L1468.08,287.96 L1468.49,287.89 L1468.94,287.82 L1469.38,287.74 L1469.82,287.66 L1470.03,287.62 L1470.26,287.58 L1470.7,287.49 L1471.15,287.4 L1471.59,287.31 L1471.99,287.23 L1472.03,287.22 L1472.47,287.12 L1472.91,287.01 L1473.36,286.9 L1473.8,286.79 L1473.94,286.75 L1474.24,286.67 L1474.68,286.55 L1475.12,286.42 L1475.47,286.31 L1475.57,286.28 L1475.9,286.17 L1475.91,286.17 L1476.01,286.14 L1476.35,286.02 L1476.45,285.99 L1476.79,285.87 L1476.89,285.83 L1477.24,285.7 L1477.33,285.67 L1477.68,285.53 L1477.78,285.5 L1477.85,285.46 L1478.12,285.36 L1478.22,285.31 L1478.56,285.17 L1478.66,285.12 L1479,284.97 L1479.1,284.92 L1479.45,284.76 L1479.54,284.71 L1479.81,284.58 L1479.89,284.54 L1479.99,284.49 L1480.33,284.31 L1480.43,284.25 L1480.77,284.06 L1480.87,284.01 L1481.21,283.8 L1481.31,283.74 L1481.66,283.53 L1481.76,283.46 L1482.1,283.24 L1482.54,282.93 L1482.98,282.6 L1483.42,282.26 L1483.72,282.01 L1483.87,281.89 L1484.31,281.49 L1484.75,281.07 L1485.19,280.62 L1485.63,280.14 L1485.67,280.1 L1486.08,279.63 L1486.52,279.08 L1486.96,278.49 L1487.4,277.85 L1487.63,277.51 L1487.84,277.16 L1488.29,276.42 L1488.73,275.62 L1489.17,274.75 L1489.58,273.87 L1489.61,273.8 L1490.05,272.78 L1490.5,271.66 L1490.94,270.43 L1491.38,269.09 L1491.53,268.6 L1491.82,267.63 L1492.26,266.01 L1492.71,264.23 L1493.15,262.26 L1493.49,260.6 L1493.59,260.08 L1494.03,257.66 L1494.47,254.96 L1494.92,251.94 L1495.36,248.57 L1495.44,247.87 L1495.8,244.79 L1496.24,240.53 L1496.68,235.74 L1497.13,230.34 L1497.4,226.67 L1497.57,224.25 L1498.01,217.38 L1498.45,209.65 L1498.89,200.98 L1499.34,191.32 L1499.35,190.93 L1499.78,180.67 L1500.22,169.08 L1500.66,156.76 L1501.1,144.03 L1501.31,138.16 L1501.55,131.43 L1501.99,119.69 L1502.43,109.72 L1502.87,102.45 L1503.26,98.9 L1503.31,98.65 L1503.75,98.79 L1504.2,102.83 L1504.64,110.31 L1505.08,120.43 L1505.22,123.9 L1505.52,132.25 L1505.96,144.88 L1506.41,157.6 L1506.85,169.88 L1507.17,178.35 L1507.29,181.41 L1507.73,191.99 L1508.17,201.58 L1508.62,210.19 L1509.06,217.86 L1509.12,218.93 L1509.5,224.67 L1509.94,230.72 L1510.38,236.08 L1510.83,240.83 L1511.08,243.3 L1511.27,245.05 L1511.71,248.8 L1512.15,252.15 L1512.59,255.14 L1513.03,257.81 L1513.04,257.82 L1513.48,260.23 L1513.92,262.4 L1514.36,264.35 L1514.8,266.12 L1514.99,266.81 L1515.25,267.73 L1515.69,269.18 L1516.13,270.51 L1516.57,271.73 L1516.94,272.67 L1517.01,272.84 L1517.46,273.86 L1517.9,274.8 L1518.34,275.67 L1518.78,276.47 L1518.9,276.66 L1519.22,277.2 L1519.67,277.89 L1520.11,278.52 L1520.55,279.11 L1520.85,279.49 L1520.99,279.66 L1521.43,280.17 L1521.88,280.65 L1522.32,281.1 L1522.76,281.52 L1522.81,281.56 L1523.2,281.91 L1523.64,282.28 L1524.09,282.62 L1524.53,282.95 L1524.76,283.11 L1524.97,283.25 L1525.41,283.54 L1525.85,283.82 L1526.3,284.07 L1526.72,284.31 L1526.74,284.32 L1527.18,284.55 L1527.62,284.77 L1528.06,284.98 L1528.67,285.24 L1530.62,285.99 L1532.58,286.6 L1534.53,287.1 L1536.49,287.52 L1538.44,287.86 L1540.4,288.16 L1542.35,288.41 L1544.31,288.63 L1546.26,288.82 L1548.22,288.98 L1550.17,289.13 L1552.12,289.26 L1554.08,289.37 L1556.03,289.47 L1557.99,289.56 L1559.94,289.64 L1561.9,289.72 L1563.85,289.78 L1565.81,289.84 L1567.76,289.9 L1569.71,289.95 L1571.67,289.99 L1573.62,290.04 L1575.58,290.07 L1577.53,290.11 L1579.49,290.14 L1581.44,290.17 L1583.4,290.2 L1585.35,290.23 L1587.31,290.25 L1589.26,290.27 L1591.21,290.29 L1593.17,290.31 L1595.12,290.33 L1597.08,290.35 L1599.03,290.36 L1600.99,290.38 L1602.94,290.39 L1604.9,290.41 L1606.85,290.42 L1608.81,290.43 L1610.76,290.44 L1612.71,290.45 L1614.67,290.46 L1616.62,290.47 L1618.58,290.48 L1620.53,290.49 L1622.49,290.5 L1624.44,290.5 L1626.4,290.51 L1628.35,290.52 L1630.3,290.52 L1632.26,290.53 L1634.21,290.54 L1636.17,290.54 L1638.12,290.55 L1640.08,290.55 L1642.03,290.55 L1643.99,290.56 L1645.94,290.56 L1647.9,290.57 L1649.85,290.57 L1651.8,290.57 L1653.76,290.58 L1655.71,290.58 L1657.67,290.58 L1659.62,290.58 L1661.58,290.59 L1663.53,290.59 L1665.49,290.59 L1667.44,290.59 L1669.39,290.59 L1671.35,290.6 L1673.3,290.6 L1675.26,290.6 L1677.21,290.6 L1679.17,290.6 L1681.12,290.6 L1683.08,290.6 L1685.03,290.6 L1686.99,290.6 L1688.94,290.6 L1690.89,290.6 L1692.85,290.6 L1694.8,290.6 L1696.76,290.6 L1698.71,290.6 L1700.67,290.6 L1702.62,290.6 L1704.58,290.6 L1706.53,290.6 L1708.49,290.6 L1710.44,290.6 L1712.39,290.6 L1714.35,290.6 L1716.3,290.6 L1718.26,290.59 L1720.21,290.59 L1722.17,290.59 L1724.12,290.59 L1726.08,290.59 L1728.03,290.58 L1729.98,290.58 L1731.94,290.58 L1733.89,290.57 L1735.85,290.57 L1737.8,290.57 L1739.76,290.56 L1741.71,290.56 L1743.67,290.55 L1745.62,290.55 L1747.58,290.55 L1749.53,290.54 L1751.48,290.53 L1753.44,290.53 L1755.39,290.52 L1757.35,290.52 L1759.3,290.51 L1761.26,290.5 L1763.21,290.49 L1765.17,290.49 L1767.12,290.48 L1769.08,290.47 L1771.03,290.46 L1772.98,290.45 L1774.94,290.44 L1776.89,290.42 L1778.85,290.41 L1779.36,290.41 L1779.8,290.4 L1780.24,290.4 L1780.68,290.4 L1780.8,290.4 L1781.12,290.39 L1781.57,290.39 L1782.01,290.39 L1782.45,290.38 L1782.76,290.38 L1782.89,290.38 L1783.33,290.38 L1783.78,290.37 L1784.22,290.37 L1784.66,290.37 L1784.71,290.37 L1785.1,290.36 L1785.54,290.36 L1785.99,290.36 L1786.43,290.35 L1786.67,290.35 L1786.87,290.35 L1787.31,290.34 L1787.75,290.34 L1788.2,290.34 L1788.62,290.33 L1788.64,290.33 L1789.08,290.33 L1789.52,290.32 L1789.96,290.32 L1790.41,290.31 L1790.57,290.31 L1790.85,290.31 L1791.29,290.31 L1791.73,290.3 L1792.17,290.3 L1792.53,290.29 L1792.62,290.29 L1793.06,290.29 L1793.5,290.28 L1793.94,290.28 L1794.38,290.27 L1794.48,290.27 L1794.83,290.27 L1795.27,290.26 L1795.71,290.25 L1796.15,290.25 L1796.44,290.25 L1796.59,290.24 L1797.04,290.24 L1797.48,290.23 L1797.92,290.23 L1798.36,290.22 L1798.39,290.22 L1798.8,290.21 L1799.25,290.21 L1799.69,290.2 L1800.13,290.19 L1800.35,290.19 L1800.57,290.19 L1801.01,290.18 L1801.46,290.17 L1801.9,290.17 L1802.3,290.16 L1802.34,290.16 L1802.78,290.15 L1803.22,290.15 L1803.67,290.14 L1804.11,290.13 L1804.26,290.13 L1804.55,290.12 L1804.99,290.11 L1805.43,290.11 L1805.87,290.1 L1806.21,290.09 L1806.32,290.09 L1806.76,290.08 L1807.2,290.07 L1807.64,290.06 L1808.08,290.05 L1808.17,290.05 L1808.53,290.04 L1808.97,290.03 L1809.41,290.02 L1809.85,290.01 L1810.12,290.01 L1810.29,290 L1810.74,289.99 L1811.18,289.98 L1811.62,289.97 L1812.06,289.96 L1812.07,289.96 L1812.5,289.95 L1812.95,289.94 L1813.39,289.93 L1813.83,289.92 L1814.03,289.91 L1814.27,289.9 L1814.71,289.89 L1815.16,289.88 L1815.6,289.86 L1815.98,289.85 L1816.04,289.85 L1816.48,289.84 L1816.92,289.82 L1817.37,289.81 L1817.81,289.79 L1817.94,289.79 L1818.25,289.78 L1818.69,289.76 L1819.13,289.75 L1819.58,289.73 L1819.89,289.72 L1820.02,289.71 L1820.46,289.7 L1820.9,289.68 L1821.34,289.66 L1821.79,289.64 L1821.85,289.64 L1822.23,289.62 L1822.67,289.61 L1823.11,289.59 L1823.55,289.56 L1823.8,289.55 L1824,289.54 L1824.44,289.52 L1824.88,289.5 L1825.32,289.48 L1825.76,289.46 L1825.76,289.45 L1826.21,289.43 L1826.65,289.41 L1827.09,289.38 L1827.53,289.36 L1827.71,289.34 L1827.97,289.33 L1828.42,289.3 L1828.86,289.27 L1829.3,289.24 L1829.67,289.22 L1829.74,289.21 L1830.18,289.18 L1830.63,289.15 L1831.07,289.12 L1831.51,289.09 L1831.62,289.08 L1831.95,289.05 L1833.57,288.91 L1835.53,288.73 L1837.48,288.51 L1839.44,288.25 L1841.39,287.95 L1843.35,287.59 L1845.3,287.16 L1847.26,286.64 L1849.21,285.99 L1849.48,285.89 L1849.93,285.72 L1850.37,285.54 L1850.81,285.35 L1851.16,285.19 L1851.25,285.15 L1851.69,284.93 L1852.14,284.71 L1852.58,284.47 L1853.02,284.22 L1853.12,284.16 L1853.46,283.95 L1853.9,283.67 L1854.35,283.37 L1854.79,283.05 L1855.07,282.83 L1855.23,282.71 L1855.67,282.34 L1856.11,281.95 L1856.56,281.54 L1857,281.09 L1857.03,281.06 L1857.44,280.62 L1857.88,280.11 L1858.32,279.55 L1858.77,278.96 L1858.98,278.65 L1859.21,278.32 L1859.65,277.63 L1860.09,276.88 L1860.53,276.07 L1860.94,275.26 L1860.98,275.18 L1861.42,274.22 L1861.86,273.17 L1862.3,272.02 L1862.74,270.76 L1862.89,270.31 L1863.19,269.38 L1863.63,267.86 L1864.07,266.18 L1864.51,264.33 L1864.85,262.79 L1864.95,262.27 L1865.4,259.98 L1865.84,257.44 L1866.28,254.6 L1866.72,251.43 L1866.8,250.82 L1867.16,247.88 L1867.61,243.9 L1868.05,239.44 L1868.49,234.44 L1868.76,231.15 L1868.93,228.85 L1869.37,222.61 L1869.82,215.68 L1870.26,208.04 L1870.7,199.73 L1870.71,199.52 L1871.14,190.83 L1871.58,181.51 L1872.03,172.06 L1872.47,162.9 L1872.66,159.03 L1872.91,154.56 L1873.35,147.67 L1873.79,142.84 L1874.24,140.54 L1874.62,140.8 L1874.68,141.03 L1875.12,144.25 L1875.56,149.86 L1876,157.32 L1876.44,166.01 L1876.57,168.68 L1876.89,175.33 L1877.33,184.77 L1877.77,193.97 L1878.21,202.69 L1878.53,208.52 L1878.65,210.77 L1879.1,218.16 L1879.54,224.85 L1879.98,230.86 L1880.42,236.24 L1880.48,236.92 L1880.86,241.05 L1881.31,245.33 L1881.75,249.16 L1882.19,252.57 L1882.44,254.32 L1882.63,255.62 L1883.07,258.36 L1883.52,260.81 L1883.96,263.01 L1884.39,264.96 L1884.4,264.99 L1884.84,266.79 L1885.28,268.41 L1885.73,269.88 L1886.17,271.22 L1886.35,271.72 L1886.61,272.44 L1887.05,273.55 L1887.49,274.57 L1887.94,275.5 L1888.3,276.21 L1888.38,276.36 L1888.82,277.15 L1889.26,277.88 L1889.7,278.55 L1890.15,279.18 L1890.26,279.32 L1890.59,279.75 L1891.03,280.29 L1891.47,280.79 L1891.91,281.26 L1892.21,281.55 L1892.36,281.69 L1892.8,282.1 L1893.24,282.48 L1893.68,282.83 L1894.12,283.17 L1894.16,283.2 L1894.57,283.48 L1895.01,283.78 L1895.45,284.05 L1895.89,284.31 L1896.12,284.44 L1896.33,284.56 L1896.78,284.8 L1897.22,285.02 L1897.66,285.22 L1898.07,285.41 L1898.1,285.42 L1898.54,285.61 L1898.99,285.79 L1899.43,285.96 L1899.87,286.12 L1900.03,286.17 L1900.31,286.27 L1900.75,286.42 L1901.2,286.55 L1901.64,286.69 L1901.98,286.79 L1902.08,286.81 L1903.94,287.28 L1905.89,287.7 L1907.85,288.04 L1909.8,288.33 L1911.75,288.57 L1913.71,288.79 L1915.66,288.97 L1917.62,289.13 L1919.57,289.26 L1921.53,289.39 L1923.48,289.49 L1925.44,289.59 L1927.39,289.68 L1929.35,289.75 L1931.3,289.82" fill="none" stroke="#0000ff" stroke-width="3" stroke-dasharray="6.4 5.6" stroke-linejoin="round" />
<path d="M1346.9,290.59 L1348.85,290.59 L1350.81,290.58 L1352.76,290.57 L1354.72,290.56 L1356.67,290.55 L1358.63,290.54 L1360.58,290.53 L1362.54,290.52 L1364.49,290.51 L1366.45,290.5 L1368.4,290.49 L1370.35,290.47 L1372.31,290.46 L1374.26,290.44 L1376.22,290.42 L1378.17,290.41 L1380.13,290.39 L1382.08,290.36 L1384.04,290.34 L1385.99,290.32 L1387.94,290.29 L1389.9,290.26 L1391.85,290.23 L1393.81,290.19 L1395.76,290.15 L1397.72,290.11 L1399.67,290.06 L1401.63,290.01 L1403.58,289.95 L1405.54,289.88 L1407.49,289.81 L1409.44,289.72 L1411.4,289.62 L1413.35,289.51 L1415.31,289.39 L1417.26,289.24 L1419.22,289.07 L1421.17,288.87 L1423.13,288.63 L1425.08,288.34 L1427.04,288 L1428.72,287.64 L1428.99,287.57 L1429.16,287.53 L1429.6,287.42 L1430.04,287.3 L1430.48,287.18 L1430.93,287.05 L1430.94,287.04 L1431.37,286.91 L1431.81,286.76 L1432.25,286.61 L1432.69,286.45 L1432.9,286.37 L1433.14,286.27 L1433.58,286.09 L1434.02,285.9 L1434.46,285.69 L1434.85,285.5 L1434.9,285.47 L1435.35,285.24 L1435.79,284.99 L1436.23,284.72 L1436.67,284.44 L1436.81,284.35 L1437.11,284.13 L1437.56,283.81 L1438,283.46 L1438.44,283.08 L1438.76,282.79 L1438.88,282.67 L1439.32,282.24 L1439.77,281.76 L1440.21,281.25 L1440.65,280.69 L1440.72,280.6 L1441.09,280.08 L1441.53,279.42 L1441.98,278.7 L1442.42,277.91 L1442.67,277.42 L1442.86,277.04 L1443.3,276.09 L1443.74,275.04 L1444.19,273.88 L1444.63,272.59 L1444.63,272.59 L1445.07,271.16 L1445.51,269.56 L1445.95,267.78 L1446.4,265.79 L1446.58,264.88 L1446.84,263.55 L1447.28,261.03 L1447.72,258.18 L1448.16,254.96 L1448.53,251.93 L1448.61,251.32 L1449.05,247.2 L1449.49,242.55 L1449.93,237.29 L1450.37,231.39 L1450.49,229.73 L1450.82,224.82 L1451.26,217.59 L1451.7,209.77 L1452.14,201.54 L1452.44,195.81 L1452.58,193.19 L1453.03,185.15 L1453.47,178 L1453.91,172.39 L1454.35,168.92 L1454.4,168.7 L1454.79,168.01 L1455.23,169.78 L1455.68,173.99 L1456.12,180.17 L1456.35,184.02 L1456.56,187.67 L1457,195.87 L1457.44,204.22 L1457.89,212.35 L1458.31,219.63 L1458.33,219.99 L1458.77,227.01 L1459.21,233.37 L1459.65,239.05 L1460.1,244.11 L1460.26,245.84 L1460.54,248.59 L1460.98,252.54 L1461.42,256.04 L1461.86,259.13 L1462.22,261.34 L1462.31,261.87 L1462.75,264.3 L1463.19,266.45 L1463.63,268.38 L1464.07,270.09 L1464.17,270.44 L1464.52,271.63 L1464.96,273.02 L1465.4,274.26 L1465.84,275.39 L1466.13,276.05 L1466.28,276.4 L1466.73,277.33 L1467.17,278.17 L1467.61,278.94 L1468.05,279.64 L1468.08,279.68 L1468.49,280.28 L1468.94,280.87 L1469.38,281.41 L1469.82,281.91 L1470.03,282.14 L1470.26,282.37 L1470.7,282.8 L1471.15,283.2 L1471.59,283.57 L1471.99,283.88 L1472.03,283.91 L1472.47,284.23 L1472.91,284.53 L1473.36,284.8 L1473.8,285.06 L1473.94,285.15 L1474.24,285.31 L1474.68,285.54 L1475.12,285.75 L1475.47,285.91 L1475.57,285.95 L1475.9,286.1 L1475.91,286.1 L1476.01,286.14 L1476.35,286.28 L1476.45,286.32 L1476.79,286.45 L1476.89,286.49 L1477.24,286.62 L1477.33,286.65 L1477.68,286.77 L1477.78,286.8 L1477.85,286.83 L1478.12,286.91 L1478.22,286.94 L1478.56,287.05 L1478.66,287.08 L1479,287.18 L1479.1,287.21 L1479.45,287.3 L1479.54,287.33 L1479.81,287.4 L1479.89,287.42 L1479.99,287.44 L1480.33,287.53 L1480.43,287.55 L1480.77,287.64 L1480.87,287.66 L1481.21,287.74 L1481.31,287.76 L1481.66,287.83 L1481.76,287.85 L1482.1,287.92 L1482.54,288.01 L1482.98,288.09 L1483.42,288.17 L1483.72,288.22 L1483.87,288.25 L1484.31,288.32 L1484.75,288.39 L1485.19,288.46 L1485.63,288.52 L1485.67,288.53 L1486.08,288.58 L1486.52,288.64 L1486.96,288.7 L1487.4,288.75 L1487.63,288.78 L1487.84,288.81 L1488.29,288.86 L1488.73,288.9 L1489.17,288.95 L1489.58,288.99 L1489.61,289 L1490.05,289.04 L1490.5,289.08 L1490.94,289.12 L1491.38,289.16 L1491.53,289.17 L1491.82,289.2 L1492.26,289.23 L1492.71,289.27 L1493.15,289.3 L1493.49,289.32 L1493.59,289.33 L1494.03,289.36 L1494.47,289.39 L1494.92,289.42 L1495.36,289.45 L1495.44,289.46 L1495.8,289.48 L1496.24,289.51 L1496.68,289.53 L1497.13,289.56 L1497.4,289.57 L1497.57,289.58 L1498.01,289.6 L1498.45,289.63 L1498.89,289.65 L1499.34,289.67 L1499.35,289.67 L1499.78,289.69 L1500.22,289.71 L1500.66,289.73 L1501.1,289.75 L1501.31,289.76 L1501.55,289.77 L1501.99,289.79 L1502.43,289.8 L1502.87,289.82 L1503.26,289.84 L1503.31,289.84 L1503.75,289.85 L1504.2,289.87 L1504.64,289.88 L1505.08,289.9 L1505.22,289.9 L1505.52,289.91 L1505.96,289.93 L1506.41,289.94 L1506.85,289.96 L1507.17,289.97 L1507.29,289.97 L1507.73,289.98 L1508.17,289.99 L1508.62,290.01 L1509.06,290.02 L1509.12,290.02 L1509.5,290.03 L1509.94,290.04 L1510.38,290.05 L1510.83,290.06 L1511.08,290.07 L1511.27,290.07 L1511.71,290.08 L1512.15,290.09 L1512.59,290.1 L1513.03,290.11 L1513.04,290.11 L1513.48,290.12 L1513.92,290.13 L1514.36,290.14 L1514.8,290.15 L1514.99,290.15 L1515.25,290.16 L1515.69,290.17 L1516.13,290.17 L1516.57,290.18 L1516.94,290.19 L1517.01,290.19 L1517.46,290.2 L1517.9,290.2 L1518.34,290.21 L1518.78,290.22 L1518.9,290.22 L1519.22,290.23 L1519.67,290.23 L1520.11,290.24 L1520.55,290.25 L1520.85,290.25 L1520.99,290.25 L1521.43,290.26 L1521.88,290.26 L1522.32,290.27 L1522.76,290.28 L1522.81,290.28 L1523.2,290.28 L1523.64,290.29 L1524.09,290.29 L1524.53,290.3 L1524.76,290.3 L1524.97,290.3 L1525.41,290.31 L1525.85,290.32 L1526.3,290.32 L1526.72,290.33 L1526.74,290.33 L1527.18,290.33 L1527.62,290.34 L1528.06,290.34 L1528.67,290.35 L1530.62,290.37 L1532.58,290.38 L1534.53,290.4 L1536.49,290.41 L1538.44,290.43 L1540.4,290.44 L1542.35,290.45 L1544.31,290.47 L1546.26,290.48 L1548.22,290.49 L1550.17,290.49 L1552.12,290.5 L1554.08,290.51 L1556.03,290.52 L1557.99,290.52 L1559.94,290.53 L1561.9,290.54 L1563.85,290.54 L1565.81,290.55 L1567.76,290.55 L1569.71,290.56 L1571.67,290.56 L1573.62,290.56 L1575.58,290.57 L1577.53,290.57 L1579.49,290.57 L1581.44,290.58 L1583.4,290.58 L1585.35,290.58 L1587.31,290.58 L1589.26,290.59 L1591.21,290.59 L1593.17,290.59 L1595.12,290.59 L1597.08,290.59 L1599.03,290.59 L1600.99,290.59 L1602.94,290.59 L1604.9,290.59 L1606.85,290.59 L1608.81,290.59 L1610.76,290.59 L1612.71,290.59 L1614.67,290.59 L1616.62,290.59 L1618.58,290.59 L1620.53,290.59 L1622.49,290.59 L1624.44,290.59 L1626.4,290.59 L1628.35,290.59 L1630.3,290.59 L1632.26,290.58 L1634.21,290.58 L1636.17,290.58 L1638.12,290.58 L1640.08,290.58 L1642.03,290.57 L1643.99,290.57 L1645.94,290.57 L1647.9,290.56 L1649.85,290.56 L1651.8,290.56 L1653.76,290.55 L1655.71,290.55 L1657.67,290.55 L1659.62,290.54 L1661.58,290.54 L1663.53,290.53 L1665.49,290.53 L1667.44,290.52 L1669.39,290.52 L1671.35,290.51 L1673.3,290.5 L1675.26,290.5 L1677.21,290.49 L1679.17,290.48 L1681.12,290.47 L1683.08,290.47 L1685.03,290.46 L1686.99,290.45 L1688.94,290.44 L1690.89,290.43 L1692.85,290.42 L1694.8,290.41 L1696.76,290.39 L1698.71,290.38 L1700.67,290.37 L1702.62,290.35 L1704.58,290.34 L1706.53,290.32 L1708.49,290.3 L1710.44,290.28 L1712.39,290.27 L1714.35,290.24 L1716.3,290.22 L1718.26,290.2 L1720.21,290.17 L1722.17,290.14 L1724.12,290.11 L1726.08,290.08 L1728.03,290.05 L1729.98,290.01 L1731.94,289.97 L1733.89,289.93 L1735.85,289.88 L1737.8,289.83 L1739.76,289.78 L1741.71,289.72 L1743.67,289.65 L1745.62,289.58 L1747.58,289.5 L1749.53,289.41 L1751.48,289.31 L1753.44,289.2 L1755.39,289.08 L1757.35,288.94 L1759.3,288.79 L1761.26,288.61 L1763.21,288.41 L1765.17,288.19 L1767.12,287.93 L1769.08,287.62 L1771.03,287.27 L1772.98,286.86 L1774.94,286.36 L1776.89,285.77 L1778.85,285.05 L1779.36,284.84 L1779.8,284.65 L1780.24,284.44 L1780.68,284.23 L1780.8,284.17 L1781.12,284 L1781.57,283.77 L1782.01,283.52 L1782.45,283.26 L1782.76,283.07 L1782.89,282.98 L1783.33,282.69 L1783.78,282.38 L1784.22,282.05 L1784.66,281.71 L1784.71,281.67 L1785.1,281.34 L1785.54,280.96 L1785.99,280.54 L1786.43,280.11 L1786.67,279.86 L1786.87,279.64 L1787.31,279.14 L1787.75,278.61 L1788.2,278.05 L1788.62,277.47 L1788.64,277.44 L1789.08,276.79 L1789.52,276.1 L1789.96,275.35 L1790.41,274.54 L1790.57,274.21 L1790.85,273.67 L1791.29,272.73 L1791.73,271.72 L1792.17,270.61 L1792.53,269.66 L1792.62,269.42 L1793.06,268.11 L1793.5,266.69 L1793.94,265.14 L1794.38,263.44 L1794.48,263.03 L1794.83,261.58 L1795.27,259.52 L1795.71,257.26 L1796.15,254.75 L1796.44,252.98 L1796.59,251.97 L1797.04,248.89 L1797.48,245.45 L1797.92,241.61 L1798.36,237.32 L1798.39,236.99 L1798.8,232.5 L1799.25,227.09 L1799.69,221 L1800.13,214.13 L1800.35,210.43 L1800.57,206.41 L1801.01,197.72 L1801.46,187.97 L1801.9,177.09 L1802.3,166.1 L1802.34,165.04 L1802.78,151.86 L1803.22,137.67 L1803.67,122.77 L1804.11,107.66 L1804.26,102.62 L1804.55,93.05 L1804.99,79.91 L1805.43,69.28 L1805.87,62.22 L1806.21,59.73 L1806.32,59.49 L1806.76,61.42 L1807.2,67.78 L1807.64,77.85 L1808.08,90.64 L1808.17,93.18 L1808.53,105.07 L1808.97,120.15 L1809.41,135.13 L1809.85,149.46 L1810.12,157.68 L1810.29,162.84 L1810.74,175.09 L1811.18,186.17 L1811.62,196.11 L1812.06,204.98 L1812.07,205.2 L1812.5,212.86 L1812.95,219.86 L1813.39,226.08 L1813.83,231.61 L1814.03,233.89 L1814.27,236.52 L1814.71,240.91 L1815.16,244.82 L1815.6,248.32 L1815.98,251.08 L1816.04,251.47 L1816.48,254.29 L1816.92,256.84 L1817.37,259.15 L1817.81,261.24 L1817.94,261.81 L1818.25,263.13 L1818.69,264.86 L1819.13,266.44 L1819.58,267.88 L1819.89,268.84 L1820.02,269.2 L1820.46,270.42 L1820.9,271.53 L1821.34,272.56 L1821.79,273.52 L1821.85,273.64 L1822.23,274.4 L1822.67,275.21 L1823.11,275.97 L1823.55,276.68 L1823.8,277.05 L1824,277.34 L1824.44,277.95 L1824.88,278.52 L1825.32,279.06 L1825.76,279.55 L1825.76,279.56 L1826.21,280.03 L1826.65,280.47 L1827.09,280.89 L1827.53,281.28 L1827.71,281.43 L1827.97,281.65 L1828.42,282 L1828.86,282.33 L1829.3,282.64 L1829.67,282.89 L1829.74,282.94 L1830.18,283.21 L1830.63,283.48 L1831.07,283.73 L1831.51,283.97 L1831.62,284.03 L1831.95,284.2 L1833.57,284.94 L1835.53,285.68 L1837.48,286.29 L1839.44,286.8 L1841.39,287.22 L1843.35,287.58 L1845.3,287.89 L1847.26,288.16 L1849.21,288.39 L1849.48,288.42 L1849.93,288.47 L1850.37,288.51 L1850.81,288.56 L1851.16,288.59 L1851.25,288.6 L1851.69,288.64 L1852.14,288.69 L1852.58,288.72 L1853.02,288.76 L1853.12,288.77 L1853.46,288.8 L1853.9,288.84 L1854.35,288.87 L1854.79,288.91 L1855.07,288.93 L1855.23,288.94 L1855.67,288.97 L1856.11,289.01 L1856.56,289.04 L1857,289.07 L1857.03,289.07 L1857.44,289.1 L1857.88,289.12 L1858.32,289.15 L1858.77,289.18 L1858.98,289.19 L1859.21,289.21 L1859.65,289.23 L1860.09,289.26 L1860.53,289.28 L1860.94,289.3 L1860.98,289.31 L1861.42,289.33 L1861.86,289.35 L1862.3,289.38 L1862.74,289.4 L1862.89,289.41 L1863.19,289.42 L1863.63,289.44 L1864.07,289.46 L1864.51,289.48 L1864.85,289.5 L1864.95,289.5 L1865.4,289.52 L1865.84,289.54 L1866.28,289.56 L1866.72,289.57 L1866.8,289.58 L1867.16,289.59 L1867.61,289.61 L1868.05,289.63 L1868.49,289.64 L1868.76,289.65 L1868.93,289.66 L1869.37,289.67 L1869.82,289.69 L1870.26,289.7 L1870.7,289.72 L1870.71,289.72 L1871.14,289.73 L1871.58,289.75 L1872.03,289.76 L1872.47,289.78 L1872.66,289.78 L1872.91,289.79 L1873.35,289.8 L1873.79,289.81 L1874.24,289.83 L1874.62,289.84 L1874.68,289.84 L1875.12,289.85 L1875.56,289.86 L1876,289.88 L1876.44,289.89 L1876.57,289.89 L1876.89,289.9 L1877.33,289.91 L1877.77,289.92 L1878.21,289.93 L1878.53,289.94 L1878.65,289.94 L1879.1,289.95 L1879.54,289.96 L1879.98,289.97 L1880.42,289.98 L1880.48,289.98 L1880.86,289.99 L1881.31,290 L1881.75,290.01 L1882.19,290.02 L1882.44,290.02 L1882.63,290.03 L1883.07,290.04 L1883.52,290.04 L1883.96,290.05 L1884.39,290.06 L1884.4,290.06 L1884.84,290.07 L1885.28,290.08 L1885.73,290.09 L1886.17,290.09 L1886.35,290.1 L1886.61,290.1 L1887.05,290.11 L1887.49,290.12 L1887.94,290.12 L1888.3,290.13 L1888.38,290.13 L1888.82,290.14 L1889.26,290.14 L1889.7,290.15 L1890.15,290.16 L1890.26,290.16 L1890.59,290.16 L1891.03,290.17 L1891.47,290.18 L1891.91,290.18 L1892.21,290.19 L1892.36,290.19 L1892.8,290.2 L1893.24,290.2 L1893.68,290.21 L1894.12,290.21 L1894.16,290.21 L1894.57,290.22 L1895.01,290.22 L1895.45,290.23 L1895.89,290.24 L1896.12,290.24 L1896.33,290.24 L1896.78,290.25 L1897.22,290.25 L1897.66,290.26 L1898.07,290.26 L1898.1,290.26 L1898.54,290.27 L1898.99,290.27 L1899.43,290.28 L1899.87,290.28 L1900.03,290.28 L1900.31,290.29 L1900.75,290.29 L1901.2,290.3 L1901.64,290.3 L1901.98,290.3 L1902.08,290.31 L1903.94,290.32 L1905.89,290.34 L1907.85,290.36 L1909.8,290.37 L1911.75,290.39 L1913.71,290.4 L1915.66,290.42 L1917.62,290.43 L1919.57,290.44 L1921.53,290.46 L1923.48,290.47 L1925.44,290.48 L1927.39,290.49 L1929.35,290.5 L1931.3,290.51" fill="none" stroke="#0000ff" stroke-width="3" stroke-linejoin="round" />
</g>
<path d="M1347.5,56.92 V290.8 H1931.8 M1338.9,290.8 H1347.5 M1343,251.82 H1347.5 M1343,212.84 H1347.5 M1338.9,173.86 H1347.5 M1343,134.88 H1347.5 M1343,95.9 H1347.5 M1338.9,56.92 H1347.5 M1346.9,290.8 V299.4 M1376.12,290.8 V295.3 M1405.34,290.8 V295.3 M1434.56,290.8 V295.3 M1463.78,290.8 V295.3 M1493,290.8 V299.4 M1522.22,290.8 V295.3 M1551.44,290.8 V295.3 M1580.66,290.8 V295.3 M1609.88,290.8 V295.3 M1639.1,290.8 V299.4 M1668.32,290.8 V295.3 M1697.54,290.8 V295.3 M1726.76,290.8 V295.3 M1755.98,290.8 V295.3 M1785.2,290.8 V299.4 M1814.42,290.8 V295.3 M1843.64,290.8 V295.3 M1872.86,290.8 V295.3 M1902.08,290.8 V295.3 M1931.3,290.8 V299.4" stroke="#141414" stroke-width="1.8" fill="none"/>
<text transform="matrix(0.27527 0.00000 0.00000 0.28592 1280.99892 74.61408)" font-size="100" font-family='"Liberation Sans", sans-serif'>0.06</text>
<text transform="matrix(0.27688 0.00000 0.00000 0.28169 1281.19247 187.61831)" font-size="100" font-family='"Liberation Sans", sans-serif'>0.03</text>
<text transform="matrix(0.27487 0.00000 0.00000 0.28169 1281.50053 301.51831)" font-size="100" font-family='"Liberation Sans", sans-serif'>0.00</text>
<text transform="matrix(0.27455 0.00000 0.00000 0.28028 1318.70182 326.11972)" font-size="100" font-family='"Liberation Sans", sans-serif'>-0.50</text>
<text transform="matrix(0.27773 0.00000 0.00000 0.28169 1458.68909 326.01831)" font-size="100" font-family='"Liberation Sans", sans-serif'>-0.25</text>
<text transform="matrix(0.27292 0.00000 0.00000 0.28028 1629.90833 326.11972)" font-size="100" font-family='"Liberation Sans", sans-serif'>0</text>
<text transform="matrix(0.27581 0.00000 0.00000 0.28028 1757.89677 326.21972)" font-size="100" font-family='"Liberation Sans", sans-serif'>0.25</text>
<text transform="matrix(0.27433 0.00000 0.00000 0.28028 1895.00267 326.21972)" font-size="100" font-family='"Liberation Sans", sans-serif'>0.50</text>
<text transform="matrix(0.27143 0.00000 0.00000 0.26667 1555.18571 347.43333)" font-size="100" font-family='"Liberation Serif", serif' font-style="italic">ω</text>
<text transform="matrix(0.35532 0.00000 0.00000 0.35532 1581.22340 352.30319)" font-size="100" font-family='"Liberation Serif", serif'>−</text>
<text transform="matrix(0.26508 0.00000 0.00000 0.26667 1607.90476 347.43333)" font-size="100" font-family='"Liberation Serif", serif' font-style="italic">ω</text>
<text transform="matrix(0.23111 0.00000 0.00000 0.20625 1625.37556 351.39375)" font-size="100" font-family='"Liberation Serif", serif'>cav</text>
<text transform="matrix(0.25141 0.00000 0.00000 0.25532 1665.49153 349.63830)" font-size="100" font-family='"Liberation Sans", sans-serif'>(eV)</text>
<text transform="matrix(0.00000 -0.36531 0.31346 0.00000 1257.98654 236.09592)" font-size="100" font-family='"Liberation Serif", serif' font-style="italic">σ</text>
<text transform="matrix(0.00000 -0.29344 0.25208 0.00000 1263.14792 217.17377)" font-size="100" font-family='"Liberation Serif", serif'>sca</text>
<text transform="matrix(0.00000 -0.25000 0.27660 0.00000 1262.79149 172.00000)" font-size="100" font-family='"Liberation Sans", sans-serif'>(</text>
<text transform="matrix(0.00000 -0.28640 0.27407 0.00000 1263.40000 163.80480)" font-size="100" font-family='"Liberation Sans", sans-serif'>nm</text>
<text transform="matrix(0.00000 -0.17609 0.18714 0.00000 1252.40000 125.28043)" font-size="100" font-family='"Liberation Sans", sans-serif'>2</text>
<text transform="matrix(0.00000 -0.27308 0.27660 0.00000 1262.79149 114.37308)" font-size="100" font-family='"Liberation Sans", sans-serif'>)</text>
<text transform="matrix(0.31702 0.00000 0.00000 0.30882 1535.80000 126.21471)" font-size="100" font-family='"Liberation Serif", serif' font-style="italic">g</text>
<text transform="matrix(0.23375 0.00000 0.00000 0.17674 1550.26375 130.48837)" font-size="100" font-family='"Liberation Serif", serif'>SpC</text>
<text transform="matrix(0.45319 0.00000 0.00000 0.32400 1600.33404 128.80400)" font-size="100" font-family='"Liberation Serif", serif'>=</text>
<text transform="matrix(0.33043 0.00000 0.00000 0.33088 1634.47826 125.93824)" font-size="100" font-family='"Liberation Serif", serif'>0.1</text>
<text transform="matrix(0.30952 0.00000 0.00000 0.31042 1675.57143 126.28958)" font-size="100" font-family='"Liberation Serif", serif' font-style="italic">ω</text>
<text transform="matrix(0.26296 0.00000 0.00000 0.22083 1696.14815 131.17917)" font-size="100" font-family='"Liberation Serif", serif'>cav</text>
<circle cx="1438.3" cy="108.6" r="20.4" fill="#2a9f2c"/>
<line x1="1421.9" y1="108.6" x2="1439.3" y2="108.6" stroke="#fff" stroke-width="2.3" />
<path d="M1454.9,108.6 L1436.7,101.7 L1438.5,108.6 L1436.7,115.5 Z" fill="#fff"/>
<line x1="1480.5" y1="108.6" x2="1470" y2="108.6" stroke="#000" stroke-width="2.4" />
<path d="M1462.2,108.6 L1473.7,104 L1471.5,108.6 L1473.7,113.2 Z" fill="#000"/>
<circle cx="1842.1" cy="107.2" r="20.2" fill="#2a9f2c"/>
<line x1="1825.7" y1="107.2" x2="1843.1" y2="107.2" stroke="#fff" stroke-width="2.3" />
<path d="M1858.7,107.2 L1840.5,100.3 L1842.3,107.2 L1840.5,114.1 Z" fill="#fff"/>
<line x1="1868.2" y1="107.3" x2="1878" y2="107.3" stroke="#000" stroke-width="2.4" />
<path d="M1887.1,107.3 L1875.5,102.8 L1877.7,107.3 L1875.5,111.8 Z" fill="#000"/>
<text transform="matrix(0.48475 0.00000 0.00000 0.48298 1212.07627 420.65745)" font-size="100" font-family='"Liberation Sans", sans-serif' font-weight="bold">(d)</text>
<defs><clipPath id="cd"><rect x="1349" y="390" width="258.5" height="225.5"/></clipPath></defs>
<g clip-path="url(#cd)">
<path d="M1348.75,611.85 L1349.4,611.8 L1350.05,611.75 L1350.7,611.71 L1351.35,611.66 L1351.99,611.61 L1352.64,611.56 L1353.29,611.5 L1353.94,611.45 L1354.59,611.4 L1355.24,611.34 L1355.89,611.29 L1356.54,611.23 L1357.19,611.17 L1357.83,611.11 L1358.48,611.05 L1359.13,610.99 L1359.78,610.92 L1360.43,610.86 L1361.08,610.79 L1361.73,610.72 L1362.38,610.66 L1363.03,610.58 L1363.67,610.51 L1364.32,610.44 L1364.97,610.36 L1365.62,610.29 L1366.27,610.21 L1366.92,610.13 L1367.57,610.04 L1368.22,609.96 L1368.87,609.87 L1369.51,609.78 L1370.16,609.69 L1370.81,609.6 L1371.46,609.5 L1372.11,609.41 L1372.76,609.3 L1373.41,609.2 L1374.06,609.1 L1374.7,608.99 L1375.35,608.88 L1376,608.76 L1376.65,608.65 L1377.3,608.53 L1377.95,608.4 L1378.6,608.28 L1379.25,608.15 L1379.9,608.01 L1380.54,607.87 L1381.19,607.73 L1381.84,607.59 L1382.49,607.44 L1383.14,607.28 L1383.79,607.12 L1384.44,606.96 L1385.09,606.79 L1385.74,606.62 L1386.38,606.44 L1387.03,606.26 L1387.68,606.07 L1388.33,605.87 L1388.98,605.67 L1389.63,605.46 L1390.28,605.24 L1390.93,605.02 L1391.58,604.78 L1392.22,604.54 L1392.87,604.3 L1393.52,604.04 L1394.17,603.77 L1394.82,603.5 L1395.47,603.21 L1396.12,602.92 L1396.77,602.61 L1397.42,602.29 L1398.06,601.96 L1398.71,601.61 L1399.36,601.25 L1400.01,600.88 L1400.66,600.49 L1401.31,600.09 L1401.96,599.67 L1402.61,599.23 L1403.26,598.77 L1403.9,598.29 L1404.55,597.79 L1405.2,597.26 L1405.85,596.72 L1406.5,596.14 L1407.15,595.54 L1407.8,594.91 L1408.45,594.25 L1409.1,593.55 L1409.74,592.82 L1410.39,592.06 L1411.04,591.25 L1411.69,590.4 L1412.34,589.5 L1412.99,588.55 L1413.64,587.55 L1414.29,586.49 L1414.93,585.37 L1415.58,584.19 L1416.23,582.93 L1416.88,581.6 L1417.53,580.18 L1418.18,578.67 L1418.83,577.07 L1419.48,575.36 L1420.13,573.54 L1420.77,571.6 L1421.42,569.53 L1422.07,567.32 L1422.72,564.95 L1423.37,562.42 L1424.02,559.72 L1424.67,556.82 L1425.32,553.72 L1425.97,550.41 L1426.61,546.87 L1427.26,543.09 L1427.91,539.07 L1428.56,534.79 L1429.21,530.25 L1429.86,525.47 L1430.51,520.44 L1431.16,515.2 L1431.81,509.79 L1432.45,504.25 L1433.1,498.67 L1433.75,493.14 L1434.4,487.79 L1435.05,482.77 L1435.7,478.23 L1436.35,474.38 L1437,471.38 L1437.65,469.41 L1438.29,468.62 L1438.94,469.1 L1439.59,470.88 L1440.24,473.94 L1440.89,478.18 L1441.54,483.44 L1442.19,489.53 L1442.84,496.25 L1443.49,503.37 L1444.13,510.7 L1444.78,518.05 L1445.43,525.29 L1446.08,532.3 L1446.73,538.99 L1447.38,545.32 L1448.03,551.25 L1448.68,556.76 L1449.33,561.87 L1449.97,566.57 L1450.62,570.89 L1451.27,574.85 L1451.92,578.47 L1452.57,581.78 L1453.22,584.8 L1453.87,587.56 L1454.52,590.07 L1455.17,592.36 L1455.81,594.46 L1456.46,596.37 L1457.11,598.11 L1457.76,599.71 L1458.41,601.17 L1459.06,602.51 L1459.71,603.73 L1460.36,604.85 L1461,605.88 L1461.65,606.82 L1462.3,607.69 L1462.95,608.48 L1463.6,609.21 L1464.25,609.88 L1464.9,610.49 L1465.55,611.05 L1466.2,611.57 L1466.84,612.04 L1467.49,612.47 L1468.14,612.87 L1468.79,613.23 L1469.44,613.56 L1470.09,613.85 L1470.74,614.12 L1471.39,614.36 L1472.04,614.58 L1472.68,614.77 L1473.33,614.93 L1473.98,615.08 L1474.63,615.2 L1475.28,615.3 L1475.93,615.38 L1476.58,615.44 L1477.23,615.48 L1477.88,615.5 L1478.52,615.5 L1479.17,615.48 L1479.82,615.44 L1480.47,615.38 L1481.12,615.3 L1481.77,615.2 L1482.42,615.07 L1483.07,614.93 L1483.72,614.76 L1484.36,614.57 L1485.01,614.35 L1485.66,614.1 L1486.31,613.83 L1486.96,613.52 L1487.61,613.19 L1488.26,612.82 L1488.91,612.41 L1489.56,611.96 L1490.2,611.47 L1490.85,610.94 L1491.5,610.36 L1492.15,609.72 L1492.8,609.02 L1493.45,608.26 L1494.1,607.43 L1494.75,606.53 L1495.4,605.54 L1496.04,604.46 L1496.69,603.29 L1497.34,602 L1497.99,600.59 L1498.64,599.05 L1499.29,597.37 L1499.94,595.52 L1500.59,593.49 L1501.23,591.27 L1501.88,588.84 L1502.53,586.16 L1503.18,583.23 L1503.83,580.01 L1504.48,576.48 L1505.13,572.61 L1505.78,568.37 L1506.43,563.73 L1507.07,558.68 L1507.72,553.19 L1508.37,547.25 L1509.02,540.86 L1509.67,534.02 L1510.32,526.78 L1510.97,519.18 L1511.62,511.32 L1512.27,503.31 L1512.91,495.31 L1513.56,487.51 L1514.21,480.13 L1514.86,473.39 L1515.51,467.54 L1516.16,462.78 L1516.81,459.28 L1517.46,457.15 L1518.11,456.42 L1518.75,457.08 L1519.4,459 L1520.05,462.06 L1520.7,466.06 L1521.35,470.81 L1522,476.1 L1522.65,481.77 L1523.3,487.65 L1523.95,493.6 L1524.59,499.51 L1525.24,505.31 L1525.89,510.93 L1526.54,516.33 L1527.19,521.48 L1527.84,526.36 L1528.49,530.98 L1529.14,535.33 L1529.79,539.41 L1530.43,543.24 L1531.08,546.83 L1531.73,550.19 L1532.38,553.33 L1533.03,556.27 L1533.68,559.02 L1534.33,561.59 L1534.98,564 L1535.63,566.26 L1536.27,568.37 L1536.92,570.36 L1537.57,572.22 L1538.22,573.97 L1538.87,575.62 L1539.52,577.17 L1540.17,578.63 L1540.82,580.01 L1541.47,581.31 L1542.11,582.54 L1542.76,583.7 L1543.41,584.8 L1544.06,585.84 L1544.71,586.82 L1545.36,587.76 L1546.01,588.65 L1546.66,589.5 L1547.3,590.3 L1547.95,591.07 L1548.6,591.79 L1549.25,592.49 L1549.9,593.15 L1550.55,593.79 L1551.2,594.39 L1551.85,594.97 L1552.5,595.53 L1553.14,596.06 L1553.79,596.57 L1554.44,597.05 L1555.09,597.52 L1555.74,597.97 L1556.39,598.4 L1557.04,598.82 L1557.69,599.22 L1558.34,599.6 L1558.98,599.97 L1559.63,600.32 L1560.28,600.67 L1560.93,601 L1561.58,601.32 L1562.23,601.62 L1562.88,601.92 L1563.53,602.21 L1564.18,602.48 L1564.82,602.75 L1565.47,603.01 L1566.12,603.26 L1566.77,603.51 L1567.42,603.74 L1568.07,603.97 L1568.72,604.19 L1569.37,604.4 L1570.02,604.61 L1570.66,604.81 L1571.31,605.01 L1571.96,605.2 L1572.61,605.38 L1573.26,605.56 L1573.91,605.73 L1574.56,605.9 L1575.21,606.07 L1575.86,606.23 L1576.5,606.38 L1577.15,606.53 L1577.8,606.68 L1578.45,606.82 L1579.1,606.96 L1579.75,607.1 L1580.4,607.23 L1581.05,607.36 L1581.7,607.49 L1582.34,607.61 L1582.99,607.73 L1583.64,607.85 L1584.29,607.96 L1584.94,608.07 L1585.59,608.18 L1586.24,608.29 L1586.89,608.39 L1587.53,608.49 L1588.18,608.59 L1588.83,608.69 L1589.48,608.78 L1590.13,608.87 L1590.78,608.96 L1591.43,609.05 L1592.08,609.14 L1592.73,609.22 L1593.37,609.31 L1594.02,609.39 L1594.67,609.47 L1595.32,609.54 L1595.97,609.62 L1596.62,609.7 L1597.27,609.77 L1597.92,609.84 L1598.57,609.91 L1599.21,609.98 L1599.86,610.05 L1600.51,610.11 L1601.16,610.18 L1601.81,610.24 L1602.46,610.3 L1603.11,610.36 L1603.76,610.42 L1604.41,610.48 L1605.05,610.54 L1605.7,610.6 L1606.35,610.65 L1607,610.71 L1607.65,610.76" fill="none" stroke="#000" stroke-width="4.6" stroke-linejoin="round" />
<path d="M1348.75,613.18 L1349.4,613.14 L1350.05,613.11 L1350.7,613.07 L1351.35,613.03 L1351.99,612.99 L1352.64,612.95 L1353.29,612.91 L1353.94,612.87 L1354.59,612.83 L1355.24,612.79 L1355.89,612.74 L1356.54,612.7 L1357.19,612.65 L1357.83,612.61 L1358.48,612.56 L1359.13,612.51 L1359.78,612.46 L1360.43,612.41 L1361.08,612.36 L1361.73,612.31 L1362.38,612.25 L1363.03,612.2 L1363.67,612.14 L1364.32,612.08 L1364.97,612.02 L1365.62,611.96 L1366.27,611.9 L1366.92,611.83 L1367.57,611.77 L1368.22,611.7 L1368.87,611.63 L1369.51,611.56 L1370.16,611.49 L1370.81,611.41 L1371.46,611.34 L1372.11,611.26 L1372.76,611.18 L1373.41,611.1 L1374.06,611.01 L1374.7,610.93 L1375.35,610.84 L1376,610.75 L1376.65,610.65 L1377.3,610.56 L1377.95,610.46 L1378.6,610.36 L1379.25,610.25 L1379.9,610.14 L1380.54,610.03 L1381.19,609.92 L1381.84,609.8 L1382.49,609.68 L1383.14,609.55 L1383.79,609.42 L1384.44,609.29 L1385.09,609.15 L1385.74,609.01 L1386.38,608.87 L1387.03,608.72 L1387.68,608.56 L1388.33,608.4 L1388.98,608.23 L1389.63,608.06 L1390.28,607.88 L1390.93,607.7 L1391.58,607.51 L1392.22,607.31 L1392.87,607.11 L1393.52,606.9 L1394.17,606.68 L1394.82,606.45 L1395.47,606.21 L1396.12,605.96 L1396.77,605.71 L1397.42,605.44 L1398.06,605.17 L1398.71,604.88 L1399.36,604.58 L1400.01,604.27 L1400.66,603.94 L1401.31,603.6 L1401.96,603.25 L1402.61,602.88 L1403.26,602.49 L1403.9,602.09 L1404.55,601.66 L1405.2,601.22 L1405.85,600.75 L1406.5,600.27 L1407.15,599.75 L1407.8,599.22 L1408.45,598.65 L1409.1,598.06 L1409.74,597.43 L1410.39,596.77 L1411.04,596.07 L1411.69,595.34 L1412.34,594.56 L1412.99,593.74 L1413.64,592.87 L1414.29,591.94 L1414.93,590.96 L1415.58,589.92 L1416.23,588.82 L1416.88,587.64 L1417.53,586.39 L1418.18,585.05 L1418.83,583.63 L1419.48,582.1 L1420.13,580.47 L1420.77,578.73 L1421.42,576.86 L1422.07,574.85 L1422.72,572.7 L1423.37,570.38 L1424.02,567.9 L1424.67,565.23 L1425.32,562.35 L1425.97,559.27 L1426.61,555.95 L1427.26,552.39 L1427.91,548.58 L1428.56,544.5 L1429.21,540.16 L1429.86,535.54 L1430.51,530.67 L1431.16,525.57 L1431.81,520.26 L1432.45,514.81 L1433.1,509.3 L1433.75,503.83 L1434.4,498.54 L1435.05,493.57 L1435.7,489.13 L1436.35,485.4 L1437,482.58 L1437.65,480.85 L1438.29,480.34 L1438.94,481.15 L1439.59,483.26 L1440.24,486.63 L1440.89,491.12 L1441.54,496.54 L1442.19,502.68 L1442.84,509.3 L1443.49,516.2 L1444.13,523.18 L1444.78,530.09 L1445.43,536.79 L1446.08,543.19 L1446.73,549.24 L1447.38,554.9 L1448.03,560.16 L1448.68,565.02 L1449.33,569.49 L1449.97,573.58 L1450.62,577.32 L1451.27,580.73 L1451.92,583.84 L1452.57,586.68 L1453.22,589.26 L1453.87,591.61 L1454.52,593.75 L1455.17,595.7 L1455.81,597.48 L1456.46,599.11 L1457.11,600.59 L1457.76,601.95 L1458.41,603.19 L1459.06,604.33 L1459.71,605.37 L1460.36,606.32 L1461,607.2 L1461.65,608 L1462.3,608.74 L1462.95,609.42 L1463.6,610.04 L1464.25,610.62 L1464.9,611.14 L1465.55,611.63 L1466.2,612.07 L1466.84,612.48 L1467.49,612.86 L1468.14,613.2 L1468.79,613.51 L1469.44,613.79 L1470.09,614.05 L1470.74,614.29 L1471.39,614.5 L1472.04,614.69 L1472.68,614.85 L1473.33,615 L1473.98,615.12 L1474.63,615.23 L1475.28,615.32 L1475.93,615.39 L1476.58,615.44 L1477.23,615.48 L1477.88,615.5 L1478.52,615.5 L1479.17,615.48 L1479.82,615.44 L1480.47,615.39 L1481.12,615.32 L1481.77,615.23 L1482.42,615.11 L1483.07,614.98 L1483.72,614.83 L1484.36,614.65 L1485.01,614.45 L1485.66,614.23 L1486.31,613.98 L1486.96,613.7 L1487.61,613.39 L1488.26,613.05 L1488.91,612.67 L1489.56,612.26 L1490.2,611.81 L1490.85,611.31 L1491.5,610.77 L1492.15,610.18 L1492.8,609.53 L1493.45,608.82 L1494.1,608.04 L1494.75,607.19 L1495.4,606.27 L1496.04,605.25 L1496.69,604.14 L1497.34,602.92 L1497.99,601.58 L1498.64,600.12 L1499.29,598.51 L1499.94,596.75 L1500.59,594.8 L1501.23,592.67 L1501.88,590.31 L1502.53,587.72 L1503.18,584.87 L1503.83,581.72 L1504.48,578.25 L1505.13,574.42 L1505.78,570.21 L1506.43,565.57 L1507.07,560.47 L1507.72,554.89 L1508.37,548.78 L1509.02,542.15 L1509.67,534.97 L1510.32,527.25 L1510.97,519.05 L1511.62,510.42 L1512.27,501.46 L1512.91,492.34 L1513.56,483.25 L1514.21,474.42 L1514.86,466.14 L1515.51,458.7 L1516.16,452.38 L1516.81,447.44 L1517.46,444.05 L1518.11,442.33 L1518.75,442.27 L1519.4,443.8 L1520.05,446.75 L1520.7,450.92 L1521.35,456.06 L1522,461.92 L1522.65,468.28 L1523.3,474.91 L1523.95,481.66 L1524.59,488.38 L1525.24,494.97 L1525.89,501.35 L1526.54,507.46 L1527.19,513.28 L1527.84,518.78 L1528.49,523.95 L1529.14,528.82 L1529.79,533.37 L1530.43,537.62 L1531.08,541.59 L1531.73,545.3 L1532.38,548.75 L1533.03,551.98 L1533.68,554.98 L1534.33,557.79 L1534.98,560.41 L1535.63,562.86 L1536.27,565.15 L1536.92,567.3 L1537.57,569.3 L1538.22,571.19 L1538.87,572.96 L1539.52,574.62 L1540.17,576.18 L1540.82,577.65 L1541.47,579.04 L1542.11,580.35 L1542.76,581.58 L1543.41,582.75 L1544.06,583.86 L1544.71,584.9 L1545.36,585.9 L1546.01,586.84 L1546.66,587.73 L1547.3,588.58 L1547.95,589.39 L1548.6,590.16 L1549.25,590.89 L1549.9,591.59 L1550.55,592.26 L1551.2,592.9 L1551.85,593.51 L1552.5,594.09 L1553.14,594.65 L1553.79,595.18 L1554.44,595.7 L1555.09,596.19 L1555.74,596.66 L1556.39,597.11 L1557.04,597.55 L1557.69,597.96 L1558.34,598.37 L1558.98,598.75 L1559.63,599.13 L1560.28,599.48 L1560.93,599.83 L1561.58,600.16 L1562.23,600.49 L1562.88,600.8 L1563.53,601.1 L1564.18,601.39 L1564.82,601.67 L1565.47,601.94 L1566.12,602.2 L1566.77,602.46 L1567.42,602.7 L1568.07,602.94 L1568.72,603.17 L1569.37,603.4 L1570.02,603.61 L1570.66,603.82 L1571.31,604.03 L1571.96,604.23 L1572.61,604.42 L1573.26,604.61 L1573.91,604.79 L1574.56,604.97 L1575.21,605.14 L1575.86,605.31 L1576.5,605.47 L1577.15,605.63 L1577.8,605.78 L1578.45,605.93 L1579.1,606.08 L1579.75,606.22 L1580.4,606.36 L1581.05,606.5 L1581.7,606.63 L1582.34,606.76 L1582.99,606.88 L1583.64,607.01 L1584.29,607.13 L1584.94,607.24 L1585.59,607.36 L1586.24,607.47 L1586.89,607.58 L1587.53,607.68 L1588.18,607.79 L1588.83,607.89 L1589.48,607.99 L1590.13,608.09 L1590.78,608.18 L1591.43,608.28 L1592.08,608.37 L1592.73,608.46 L1593.37,608.54 L1594.02,608.63 L1594.67,608.71 L1595.32,608.79 L1595.97,608.87 L1596.62,608.95 L1597.27,609.03 L1597.92,609.11 L1598.57,609.18 L1599.21,609.25 L1599.86,609.32 L1600.51,609.39 L1601.16,609.46 L1601.81,609.53 L1602.46,609.6 L1603.11,609.66 L1603.76,609.72 L1604.41,609.79 L1605.05,609.85 L1605.7,609.91 L1606.35,609.97 L1607,610.03 L1607.65,610.08" fill="none" stroke="#0000ff" stroke-width="2.4" stroke-linejoin="round" />
</g>
<path d="M1349,408.68 V615.5 H1607.8 M1344.8,615.5 H1349 M1346.6,581.03 H1349 M1346.6,546.56 H1349 M1344.8,512.09 H1349 M1346.6,477.62 H1349 M1346.6,443.15 H1349 M1344.8,408.68 H1349 M1348.75,615.5 V619.7 M1361.69,615.5 V617.9 M1374.64,615.5 V617.9 M1387.59,615.5 V617.9 M1400.53,615.5 V617.9 M1413.48,615.5 V617.9 M1426.42,615.5 V617.9 M1439.37,615.5 V617.9 M1452.31,615.5 V617.9 M1465.26,615.5 V617.9 M1478.2,615.5 V619.7 M1491.14,615.5 V617.9 M1504.09,615.5 V617.9 M1517.04,615.5 V617.9 M1529.98,615.5 V617.9 M1542.92,615.5 V617.9 M1555.87,615.5 V617.9 M1568.82,615.5 V617.9 M1581.76,615.5 V617.9 M1594.7,615.5 V617.9 M1607.65,615.5 V619.7" stroke="#444444" stroke-width="1.35" fill="none"/>
<text transform="matrix(0.27419 0.00000 0.00000 0.28592 1280.70323 416.81408)" font-size="100" font-family='"Liberation Sans", sans-serif'>0.06</text>
<text transform="matrix(0.27688 0.00000 0.00000 0.28873 1280.69247 520.31127)" font-size="100" font-family='"Liberation Sans", sans-serif'>0.03</text>
<text transform="matrix(0.27380 0.00000 0.00000 0.28592 1281.20481 624.31408)" font-size="100" font-family='"Liberation Sans", sans-serif'>0.00</text>
<text transform="matrix(0.25583 0.00000 0.00000 0.28451 1324.57669 646.51549)" font-size="100" font-family='"Liberation Sans", sans-serif'>-0.1</text>
<text transform="matrix(0.27083 0.00000 0.00000 0.28169 1474.11667 646.91831)" font-size="100" font-family='"Liberation Sans", sans-serif'>0</text>
<text transform="matrix(0.24769 0.00000 0.00000 0.28451 1585.90923 646.51549)" font-size="100" font-family='"Liberation Sans", sans-serif'>0.1</text>
<text transform="matrix(0.27302 0.00000 0.00000 0.25625 1405.98095 674.74375)" font-size="100" font-family='"Liberation Serif", serif' font-style="italic">ω</text>
<text transform="matrix(0.35745 0.00000 0.00000 0.35745 1432.21277 679.67447)" font-size="100" font-family='"Liberation Serif", serif'>−</text>
<text transform="matrix(0.27302 0.00000 0.00000 0.25625 1459.08095 674.74375)" font-size="100" font-family='"Liberation Serif", serif' font-style="italic">ω</text>
<text transform="matrix(0.22519 0.00000 0.00000 0.19167 1476.69926 679.00833)" font-size="100" font-family='"Liberation Serif", serif'>cav</text>
<text transform="matrix(0.25085 0.00000 0.00000 0.24681 1516.49492 677.01702)" font-size="100" font-family='"Liberation Sans", sans-serif'>(eV)</text>
<text transform="matrix(0.00000 -0.36531 0.31346 0.00000 1256.98654 571.19592)" font-size="100" font-family='"Liberation Serif", serif' font-style="italic">σ</text>
<text transform="matrix(0.00000 -0.29344 0.25208 0.00000 1262.14792 552.27377)" font-size="100" font-family='"Liberation Serif", serif'>sca</text>
<text transform="matrix(0.00000 -0.25000 0.27660 0.00000 1261.79149 507.10000)" font-size="100" font-family='"Liberation Sans", sans-serif'>(</text>
<text transform="matrix(0.00000 -0.28640 0.27407 0.00000 1262.40000 498.90480)" font-size="100" font-family='"Liberation Sans", sans-serif'>nm</text>
<text transform="matrix(0.00000 -0.17609 0.18714 0.00000 1251.40000 460.38043)" font-size="100" font-family='"Liberation Sans", sans-serif'>2</text>
<text transform="matrix(0.00000 -0.27308 0.27660 0.00000 1261.79149 449.47308)" font-size="100" font-family='"Liberation Sans", sans-serif'>)</text>
<text transform="matrix(0.28936 0.00000 0.00000 0.28088 1371.80000 422.40147)" font-size="100" font-family='"Liberation Serif", serif' font-style="italic">g</text>
<text transform="matrix(0.42553 0.00000 0.00000 0.30800 1394.17234 425.26800)" font-size="100" font-family='"Liberation Serif", serif'>=</text>
<text transform="matrix(0.30805 0.00000 0.00000 0.30735 1425.72759 422.28529)" font-size="100" font-family='"Liberation Serif", serif'>10</text>
<text transform="matrix(0.28333 0.00000 0.00000 0.20923 1456.58333 409.70000)" font-size="100" font-family='"Liberation Serif", serif'>−2</text>
<text transform="matrix(0.28730 0.00000 0.00000 0.29375 1487.13810 422.60625)" font-size="100" font-family='"Liberation Serif", serif' font-style="italic">ω</text>
<text transform="matrix(0.24148 0.00000 0.00000 0.21667 1505.63407 426.68333)" font-size="100" font-family='"Liberation Serif", serif'>cav</text>
<text transform="matrix(0.48304 0.00000 0.00000 0.48191 1623.68482 419.57979)" font-size="100" font-family='"Liberation Sans", sans-serif' font-weight="bold">(e)</text>
<defs><clipPath id="ce"><rect x="1706.8" y="390" width="259" height="224"/></clipPath></defs>
<g clip-path="url(#ce)">
<path d="M1707.2,614.19 L1708.07,614.19 L1708.94,614.19 L1709.8,614.19 L1710.67,614.19 L1711.53,614.19 L1712.4,614.19 L1713.26,614.19 L1714.13,614.19 L1714.99,614.19 L1715.86,614.19 L1716.72,614.19 L1717.59,614.19 L1718.45,614.19 L1719.32,614.19 L1720.18,614.19 L1721.05,614.19 L1721.91,614.19 L1722.78,614.18 L1723.64,614.18 L1724.51,614.18 L1725.37,614.18 L1726.24,614.18 L1727.1,614.17 L1727.97,614.17 L1728.83,614.17 L1729.7,614.16 L1730.56,614.16 L1731.43,614.15 L1732.3,614.14 L1733.16,614.12 L1734.03,614.1 L1734.89,614.07 L1735.76,614.03 L1736.62,613.96 L1737.39,613.85 L1737.48,613.83 L1737.49,613.83 L1737.58,613.81 L1737.68,613.79 L1737.78,613.76 L1737.88,613.74 L1737.97,613.71 L1738.07,613.68 L1738.17,613.64 L1738.27,613.6 L1738.35,613.57 L1738.37,613.56 L1738.47,613.51 L1738.56,613.46 L1738.66,613.4 L1738.76,613.33 L1738.86,613.26 L1738.96,613.17 L1739.06,613.08 L1739.15,612.96 L1739.22,612.88 L1739.25,612.84 L1739.35,612.69 L1739.45,612.52 L1739.55,612.31 L1739.64,612.07 L1739.74,611.79 L1739.84,611.44 L1739.94,611.02 L1740.04,610.51 L1740.08,610.24 L1740.14,609.88 L1740.23,609.09 L1740.33,608.11 L1740.43,606.88 L1740.53,605.36 L1740.63,603.52 L1740.73,601.42 L1740.82,599.25 L1740.92,597.41 L1740.95,597.06 L1741.02,596.44 L1741.12,596.69 L1741.22,598.05 L1741.31,600.08 L1741.41,602.26 L1741.51,604.27 L1741.61,605.99 L1741.71,607.39 L1741.81,608.51 L1741.81,608.58 L1741.9,609.42 L1742,610.14 L1742.1,610.72 L1742.2,611.19 L1742.3,611.58 L1742.4,611.9 L1742.49,612.17 L1742.59,612.4 L1742.68,612.56 L1742.69,612.59 L1742.79,612.75 L1742.89,612.89 L1742.98,613.01 L1743.08,613.11 L1743.18,613.21 L1743.28,613.29 L1743.38,613.36 L1743.48,613.42 L1743.54,613.46 L1743.57,613.48 L1743.67,613.53 L1743.77,613.58 L1743.87,613.62 L1743.97,613.66 L1744.07,613.69 L1744.16,613.72 L1744.26,613.75 L1744.36,613.77 L1744.41,613.79 L1744.46,613.8 L1744.56,613.82 L1744.66,613.84 L1744.75,613.86 L1744.85,613.87 L1744.95,613.89 L1745.05,613.9 L1745.15,613.92 L1745.27,613.93 L1746.14,614.02 L1747,614.06 L1747.87,614.1 L1748.73,614.12 L1749.6,614.13 L1750.46,614.14 L1751.33,614.15 L1752.19,614.16 L1753.06,614.17 L1753.92,614.17 L1754.79,614.17 L1755.66,614.18 L1756.52,614.18 L1757.39,614.18 L1758.25,614.18 L1759.12,614.18 L1759.98,614.18 L1760.85,614.19 L1761.71,614.19 L1762.58,614.19 L1763.44,614.19 L1764.31,614.19 L1765.17,614.19 L1765.84,614.19 L1765.94,614.19 L1766.04,614.19 L1766.04,614.19 L1766.14,614.19 L1766.23,614.19 L1766.33,614.19 L1766.43,614.19 L1766.53,614.19 L1766.63,614.19 L1766.73,614.19 L1766.82,614.19 L1766.9,614.19 L1766.92,614.19 L1767.02,614.19 L1767.12,614.19 L1767.22,614.19 L1767.31,614.19 L1767.41,614.19 L1767.51,614.19 L1767.61,614.19 L1767.71,614.19 L1767.77,614.19 L1767.81,614.19 L1767.9,614.19 L1768,614.19 L1768.1,614.19 L1768.2,614.19 L1768.3,614.19 L1768.4,614.19 L1768.49,614.19 L1768.59,614.19 L1768.63,614.19 L1768.69,614.19 L1768.79,614.19 L1768.89,614.19 L1768.98,614.19 L1769.08,614.19 L1769.18,614.19 L1769.28,614.19 L1769.38,614.19 L1769.48,614.19 L1769.5,614.19 L1769.57,614.19 L1769.67,614.19 L1769.77,614.19 L1769.87,614.19 L1769.97,614.19 L1770.07,614.19 L1770.16,614.19 L1770.26,614.19 L1770.36,614.19 L1770.36,614.19 L1770.46,614.19 L1770.56,614.19 L1770.65,614.19 L1770.75,614.19 L1770.85,614.19 L1770.95,614.19 L1771.05,614.19 L1771.15,614.19 L1771.23,614.19 L1771.24,614.19 L1771.34,614.19 L1771.44,614.19 L1771.54,614.19 L1771.64,614.19 L1771.74,614.19 L1771.83,614.19 L1771.93,614.19 L1772.03,614.19 L1772.09,614.19 L1772.13,614.19 L1772.23,614.19 L1772.33,614.19 L1772.42,614.19 L1772.52,614.19 L1772.62,614.19 L1772.72,614.19 L1772.82,614.19 L1772.91,614.19 L1772.96,614.19 L1773.01,614.19 L1773.11,614.19 L1773.21,614.19 L1773.31,614.19 L1773.41,614.19 L1773.5,614.19 L1773.6,614.19 L1773.82,614.19 L1774.69,614.19 L1775.55,614.19 L1776.42,614.19 L1777.28,614.19 L1778.15,614.19 L1779.02,614.19 L1779.88,614.19 L1780.75,614.19 L1781.61,614.19 L1782.48,614.19 L1783.34,614.19 L1784.21,614.19 L1785.07,614.19 L1785.94,614.19 L1786.8,614.19 L1787.67,614.19 L1788.53,614.19 L1789.4,614.19 L1790.26,614.19 L1791.13,614.19 L1791.99,614.19 L1792.86,614.19 L1793.72,614.19 L1794.59,614.19 L1795.45,614.19 L1796.32,614.19 L1797.18,614.19 L1798.05,614.19 L1798.91,614.19 L1799.78,614.19 L1800.64,614.19 L1801.51,614.19 L1802.38,614.19 L1803.24,614.19 L1804.11,614.19 L1804.97,614.19 L1805.84,614.19 L1806.7,614.19 L1807.57,614.19 L1808.43,614.19 L1809.3,614.19 L1810.16,614.19 L1811.03,614.19 L1811.89,614.19 L1812.76,614.19 L1813.62,614.19 L1814.49,614.19 L1815.35,614.19 L1816.22,614.19 L1817.08,614.19 L1817.95,614.19 L1818.81,614.19 L1819.68,614.19 L1820.54,614.19 L1821.41,614.19 L1822.27,614.19 L1823.14,614.19 L1824,614.19 L1824.87,614.19 L1825.74,614.19 L1826.6,614.19 L1827.47,614.19 L1828.33,614.19 L1829.2,614.19 L1830.06,614.19 L1830.93,614.19 L1831.79,614.19 L1832.66,614.19 L1833.52,614.19 L1834.39,614.19 L1835.25,614.19 L1836.12,614.19 L1836.98,614.19 L1837.85,614.19 L1838.71,614.19 L1839.58,614.19 L1840.44,614.19 L1841.31,614.19 L1842.17,614.19 L1843.04,614.19 L1843.9,614.19 L1844.77,614.19 L1845.63,614.19 L1846.5,614.19 L1847.36,614.19 L1848.23,614.19 L1849.1,614.19 L1849.96,614.19 L1850.83,614.18 L1851.69,614.18 L1852.56,614.18 L1853.42,614.18 L1854.29,614.18 L1855.15,614.18 L1856.02,614.18 L1856.88,614.18 L1857.75,614.18 L1858.61,614.18 L1859.48,614.18 L1860.34,614.18 L1861.21,614.18 L1862.07,614.18 L1862.94,614.18 L1863.8,614.17 L1864.67,614.17 L1865.53,614.17 L1866.4,614.17 L1867.26,614.17 L1868.13,614.17 L1868.99,614.17 L1869.86,614.16 L1870.72,614.16 L1871.59,614.16 L1872.46,614.16 L1873.32,614.16 L1874.19,614.15 L1875.05,614.15 L1875.92,614.15 L1876.78,614.15 L1877.65,614.14 L1878.51,614.14 L1879.38,614.13 L1880.24,614.13 L1881.11,614.12 L1881.97,614.12 L1882.84,614.11 L1883.7,614.11 L1884.57,614.1 L1885.43,614.09 L1886.3,614.08 L1887.16,614.07 L1888.03,614.05 L1888.89,614.04 L1889.76,614.02 L1890.62,614 L1891.49,613.97 L1892.35,613.94 L1893.22,613.9 L1894.08,613.85 L1894.95,613.79 L1895.82,613.71 L1896.68,613.61 L1897.55,613.47 L1898.41,613.28 L1899.28,613 L1900.14,612.56 L1901.01,611.85 L1901.22,611.6 L1901.32,611.47 L1901.42,611.34 L1901.52,611.19 L1901.62,611.03 L1901.71,610.86 L1901.81,610.67 L1901.87,610.55 L1901.91,610.47 L1902.01,610.25 L1902.11,610.01 L1902.2,609.75 L1902.3,609.47 L1902.4,609.15 L1902.5,608.81 L1902.6,608.43 L1902.7,608.01 L1902.74,607.82 L1902.79,607.54 L1902.89,607.02 L1902.99,606.43 L1903.09,605.78 L1903.19,605.04 L1903.29,604.2 L1903.38,603.24 L1903.48,602.15 L1903.58,600.9 L1903.6,600.6 L1903.68,599.45 L1903.78,597.77 L1903.87,595.8 L1903.97,593.49 L1904.07,590.76 L1904.17,587.52 L1904.27,583.65 L1904.37,579.03 L1904.46,573.51 L1904.47,573.35 L1904.56,566.93 L1904.66,559.19 L1904.76,550.27 L1904.86,540.37 L1904.96,530.09 L1905.05,520.52 L1905.15,513.19 L1905.25,509.68 L1905.33,510.32 L1905.35,510.84 L1905.45,516.39 L1905.54,525.02 L1905.64,535.11 L1905.74,545.3 L1905.84,554.77 L1905.94,563.13 L1906.04,570.29 L1906.13,576.33 L1906.2,579.68 L1906.23,581.39 L1906.33,585.63 L1906.43,589.17 L1906.53,592.15 L1906.63,594.67 L1906.72,596.8 L1906.82,598.62 L1906.92,600.18 L1907.02,601.53 L1907.06,602.08 L1907.12,602.71 L1907.21,603.73 L1907.31,604.62 L1907.41,605.41 L1907.51,606.11 L1907.61,606.73 L1907.71,607.28 L1907.8,607.77 L1907.9,608.22 L1907.93,608.33 L1908,608.62 L1908.1,608.98 L1908.2,609.31 L1908.3,609.61 L1908.39,609.88 L1908.49,610.13 L1908.59,610.36 L1908.69,610.57 L1908.79,610.77 L1908.79,610.78 L1908.88,610.94 L1908.98,611.11 L1909.66,611.97 L1910.52,612.63 L1911.39,613.04 L1912.25,613.31 L1913.12,613.49 L1913.98,613.63 L1914.85,613.72 L1915.71,613.8 L1916.58,613.86 L1917.44,613.91 L1918.31,613.94 L1919.18,613.97 L1920.04,614 L1920.91,614.02 L1921.77,614.04 L1921.92,614.04 L1922.02,614.04 L1922.11,614.05 L1922.21,614.05 L1922.31,614.05 L1922.41,614.05 L1922.51,614.05 L1922.61,614.05 L1922.64,614.05 L1922.7,614.06 L1922.8,614.06 L1922.9,614.06 L1923,614.06 L1923.1,614.06 L1923.19,614.06 L1923.29,614.07 L1923.39,614.07 L1923.49,614.07 L1923.5,614.07 L1923.59,614.07 L1923.69,614.07 L1923.78,614.07 L1923.88,614.07 L1923.98,614.07 L1924.08,614.08 L1924.18,614.08 L1924.28,614.08 L1924.37,614.08 L1924.37,614.08 L1924.47,614.08 L1924.57,614.08 L1924.67,614.08 L1924.77,614.08 L1924.86,614.09 L1924.96,614.09 L1925.06,614.09 L1925.16,614.09 L1925.23,614.09 L1925.26,614.09 L1925.36,614.09 L1925.45,614.09 L1925.55,614.09 L1925.65,614.09 L1925.75,614.1 L1925.85,614.1 L1925.95,614.1 L1926.04,614.1 L1926.1,614.1 L1926.14,614.1 L1926.24,614.1 L1926.34,614.1 L1926.44,614.1 L1926.53,614.1 L1926.63,614.1 L1926.73,614.1 L1926.83,614.11 L1926.93,614.11 L1926.96,614.11 L1927.03,614.11 L1927.12,614.11 L1927.22,614.11 L1927.32,614.11 L1927.42,614.11 L1927.52,614.11 L1927.62,614.11 L1927.71,614.11 L1927.81,614.11 L1927.83,614.11 L1927.91,614.11 L1928.01,614.12 L1928.11,614.12 L1928.2,614.12 L1928.3,614.12 L1928.4,614.12 L1928.5,614.12 L1928.6,614.12 L1928.69,614.12 L1928.7,614.12 L1928.79,614.12 L1928.89,614.12 L1928.99,614.12 L1929.09,614.12 L1929.19,614.12 L1929.29,614.12 L1929.38,614.12 L1929.48,614.13 L1929.56,614.13 L1929.58,614.13 L1929.68,614.13 L1930.42,614.13 L1931.29,614.14 L1932.15,614.14 L1933.02,614.14 L1933.88,614.15 L1934.75,614.15 L1935.61,614.15 L1936.48,614.15 L1937.34,614.16 L1938.21,614.16 L1939.07,614.16 L1939.94,614.16 L1940.8,614.17 L1941.67,614.17 L1942.54,614.17 L1943.4,614.17 L1944.27,614.17 L1945.13,614.17 L1946,614.17 L1946.86,614.17 L1947.73,614.18 L1948.59,614.18 L1949.46,614.18 L1950.32,614.18 L1951.19,614.18 L1952.05,614.18 L1952.92,614.18 L1953.78,614.18 L1954.65,614.18 L1955.51,614.18 L1956.38,614.18 L1957.24,614.18 L1958.11,614.18 L1958.97,614.18 L1959.84,614.19 L1960.7,614.19 L1961.57,614.19 L1962.43,614.19 L1963.3,614.19 L1964.16,614.19 L1965.03,614.19 L1965.89,614.19" fill="none" stroke="#0000ff" stroke-width="2.3" stroke-linejoin="round" />
<path d="M1707.2,614.2 L1708.07,614.2 L1708.94,614.2 L1709.8,614.2 L1710.67,614.2 L1711.53,614.2 L1712.4,614.2 L1713.26,614.2 L1714.13,614.2 L1714.99,614.2 L1715.86,614.2 L1716.72,614.2 L1717.59,614.2 L1718.45,614.2 L1719.32,614.2 L1720.18,614.2 L1721.05,614.2 L1721.91,614.2 L1722.78,614.2 L1723.64,614.2 L1724.51,614.2 L1725.37,614.2 L1726.24,614.2 L1727.1,614.2 L1727.97,614.2 L1728.83,614.2 L1729.7,614.2 L1730.56,614.2 L1731.43,614.2 L1732.3,614.2 L1733.16,614.2 L1734.03,614.2 L1734.89,614.2 L1735.76,614.2 L1736.62,614.2 L1737.39,614.2 L1737.48,614.2 L1737.49,614.2 L1737.58,614.2 L1737.68,614.2 L1737.78,614.2 L1737.88,614.2 L1737.97,614.2 L1738.07,614.2 L1738.17,614.2 L1738.27,614.2 L1738.35,614.2 L1738.37,614.2 L1738.47,614.2 L1738.56,614.2 L1738.66,614.2 L1738.76,614.2 L1738.86,614.2 L1738.96,614.2 L1739.06,614.2 L1739.15,614.2 L1739.22,614.2 L1739.25,614.2 L1739.35,614.2 L1739.45,614.2 L1739.55,614.2 L1739.64,614.2 L1739.74,614.2 L1739.84,614.2 L1739.94,614.2 L1740.04,614.2 L1740.08,614.2 L1740.14,614.2 L1740.23,614.2 L1740.33,614.2 L1740.43,614.2 L1740.53,614.2 L1740.63,614.2 L1740.73,614.2 L1740.82,614.2 L1740.92,614.2 L1740.95,614.2 L1741.02,614.2 L1741.12,614.2 L1741.22,614.2 L1741.31,614.2 L1741.41,614.2 L1741.51,614.2 L1741.61,614.2 L1741.71,614.2 L1741.81,614.2 L1741.81,614.2 L1741.9,614.2 L1742,614.2 L1742.1,614.2 L1742.2,614.2 L1742.3,614.19 L1742.4,614.19 L1742.49,614.19 L1742.59,614.19 L1742.68,614.19 L1742.69,614.19 L1742.79,614.19 L1742.89,614.19 L1742.98,614.19 L1743.08,614.19 L1743.18,614.19 L1743.28,614.19 L1743.38,614.19 L1743.48,614.19 L1743.54,614.19 L1743.57,614.19 L1743.67,614.19 L1743.77,614.19 L1743.87,614.19 L1743.97,614.19 L1744.07,614.19 L1744.16,614.19 L1744.26,614.19 L1744.36,614.19 L1744.41,614.19 L1744.46,614.19 L1744.56,614.19 L1744.66,614.19 L1744.75,614.19 L1744.85,614.19 L1744.95,614.19 L1745.05,614.19 L1745.15,614.19 L1745.27,614.19 L1746.14,614.19 L1747,614.19 L1747.87,614.19 L1748.73,614.19 L1749.6,614.19 L1750.46,614.19 L1751.33,614.19 L1752.19,614.19 L1753.06,614.19 L1753.92,614.19 L1754.79,614.19 L1755.66,614.18 L1756.52,614.18 L1757.39,614.18 L1758.25,614.18 L1759.12,614.17 L1759.98,614.17 L1760.85,614.16 L1761.71,614.16 L1762.58,614.15 L1763.44,614.13 L1764.31,614.11 L1765.17,614.07 L1765.84,614.03 L1765.94,614.02 L1766.04,614.01 L1766.04,614.01 L1766.14,614 L1766.23,613.99 L1766.33,613.97 L1766.43,613.96 L1766.53,613.95 L1766.63,613.93 L1766.73,613.92 L1766.82,613.9 L1766.9,613.88 L1766.92,613.88 L1767.02,613.86 L1767.12,613.83 L1767.22,613.8 L1767.31,613.77 L1767.41,613.74 L1767.51,613.7 L1767.61,613.66 L1767.71,613.61 L1767.77,613.57 L1767.81,613.55 L1767.9,613.49 L1768,613.41 L1768.1,613.33 L1768.2,613.23 L1768.3,613.11 L1768.4,612.96 L1768.49,612.79 L1768.59,612.58 L1768.63,612.48 L1768.69,612.33 L1768.79,612.01 L1768.89,611.61 L1768.98,611.09 L1769.08,610.41 L1769.18,609.52 L1769.28,608.33 L1769.38,606.72 L1769.48,604.58 L1769.5,604.02 L1769.57,601.87 L1769.67,598.84 L1769.77,596.36 L1769.87,595.64 L1769.97,597.13 L1770.07,599.95 L1770.16,602.92 L1770.26,605.43 L1770.36,607.36 L1770.36,607.42 L1770.46,608.81 L1770.56,609.88 L1770.65,610.68 L1770.75,611.29 L1770.85,611.77 L1770.95,612.13 L1771.05,612.43 L1771.15,612.67 L1771.23,612.83 L1771.24,612.86 L1771.34,613.02 L1771.44,613.15 L1771.54,613.26 L1771.64,613.36 L1771.74,613.44 L1771.83,613.51 L1771.93,613.57 L1772.03,613.63 L1772.09,613.66 L1772.13,613.67 L1772.23,613.71 L1772.33,613.75 L1772.42,613.78 L1772.52,613.81 L1772.62,613.84 L1772.72,613.86 L1772.82,613.88 L1772.91,613.9 L1772.96,613.91 L1773.01,613.92 L1773.11,613.94 L1773.21,613.95 L1773.31,613.97 L1773.41,613.98 L1773.5,613.99 L1773.6,614 L1773.82,614.02 L1774.69,614.08 L1775.55,614.11 L1776.42,614.13 L1777.28,614.15 L1778.15,614.16 L1779.02,614.16 L1779.88,614.17 L1780.75,614.17 L1781.61,614.18 L1782.48,614.18 L1783.34,614.18 L1784.21,614.18 L1785.07,614.19 L1785.94,614.19 L1786.8,614.19 L1787.67,614.19 L1788.53,614.19 L1789.4,614.19 L1790.26,614.19 L1791.13,614.19 L1791.99,614.19 L1792.86,614.19 L1793.72,614.19 L1794.59,614.19 L1795.45,614.19 L1796.32,614.19 L1797.18,614.19 L1798.05,614.19 L1798.91,614.19 L1799.78,614.19 L1800.64,614.19 L1801.51,614.19 L1802.38,614.19 L1803.24,614.19 L1804.11,614.19 L1804.97,614.19 L1805.84,614.19 L1806.7,614.19 L1807.57,614.19 L1808.43,614.19 L1809.3,614.19 L1810.16,614.19 L1811.03,614.19 L1811.89,614.19 L1812.76,614.19 L1813.62,614.19 L1814.49,614.19 L1815.35,614.19 L1816.22,614.19 L1817.08,614.19 L1817.95,614.19 L1818.81,614.19 L1819.68,614.19 L1820.54,614.19 L1821.41,614.19 L1822.27,614.19 L1823.14,614.19 L1824,614.19 L1824.87,614.19 L1825.74,614.19 L1826.6,614.19 L1827.47,614.19 L1828.33,614.19 L1829.2,614.19 L1830.06,614.19 L1830.93,614.19 L1831.79,614.19 L1832.66,614.19 L1833.52,614.19 L1834.39,614.19 L1835.25,614.19 L1836.12,614.19 L1836.98,614.19 L1837.85,614.19 L1838.71,614.19 L1839.58,614.19 L1840.44,614.19 L1841.31,614.19 L1842.17,614.19 L1843.04,614.19 L1843.9,614.19 L1844.77,614.19 L1845.63,614.19 L1846.5,614.19 L1847.36,614.19 L1848.23,614.19 L1849.1,614.19 L1849.96,614.19 L1850.83,614.19 L1851.69,614.19 L1852.56,614.19 L1853.42,614.19 L1854.29,614.19 L1855.15,614.19 L1856.02,614.19 L1856.88,614.19 L1857.75,614.19 L1858.61,614.19 L1859.48,614.19 L1860.34,614.19 L1861.21,614.19 L1862.07,614.19 L1862.94,614.19 L1863.8,614.19 L1864.67,614.19 L1865.53,614.19 L1866.4,614.19 L1867.26,614.19 L1868.13,614.19 L1868.99,614.19 L1869.86,614.19 L1870.72,614.18 L1871.59,614.18 L1872.46,614.18 L1873.32,614.18 L1874.19,614.18 L1875.05,614.18 L1875.92,614.18 L1876.78,614.18 L1877.65,614.18 L1878.51,614.18 L1879.38,614.18 L1880.24,614.18 L1881.11,614.18 L1881.97,614.18 L1882.84,614.18 L1883.7,614.17 L1884.57,614.17 L1885.43,614.17 L1886.3,614.17 L1887.16,614.17 L1888.03,614.17 L1888.89,614.17 L1889.76,614.17 L1890.62,614.16 L1891.49,614.16 L1892.35,614.16 L1893.22,614.16 L1894.08,614.15 L1894.95,614.15 L1895.82,614.15 L1896.68,614.15 L1897.55,614.14 L1898.41,614.14 L1899.28,614.14 L1900.14,614.13 L1901.01,614.13 L1901.22,614.12 L1901.32,614.12 L1901.42,614.12 L1901.52,614.12 L1901.62,614.12 L1901.71,614.12 L1901.81,614.12 L1901.87,614.12 L1901.91,614.12 L1902.01,614.12 L1902.11,614.12 L1902.2,614.12 L1902.3,614.12 L1902.4,614.12 L1902.5,614.12 L1902.6,614.12 L1902.7,614.11 L1902.74,614.11 L1902.79,614.11 L1902.89,614.11 L1902.99,614.11 L1903.09,614.11 L1903.19,614.11 L1903.29,614.11 L1903.38,614.11 L1903.48,614.11 L1903.58,614.11 L1903.6,614.11 L1903.68,614.11 L1903.78,614.11 L1903.87,614.11 L1903.97,614.1 L1904.07,614.1 L1904.17,614.1 L1904.27,614.1 L1904.37,614.1 L1904.46,614.1 L1904.47,614.1 L1904.56,614.1 L1904.66,614.1 L1904.76,614.1 L1904.86,614.1 L1904.96,614.1 L1905.05,614.09 L1905.15,614.09 L1905.25,614.09 L1905.33,614.09 L1905.35,614.09 L1905.45,614.09 L1905.54,614.09 L1905.64,614.09 L1905.74,614.09 L1905.84,614.09 L1905.94,614.08 L1906.04,614.08 L1906.13,614.08 L1906.2,614.08 L1906.23,614.08 L1906.33,614.08 L1906.43,614.08 L1906.53,614.08 L1906.63,614.08 L1906.72,614.07 L1906.82,614.07 L1906.92,614.07 L1907.02,614.07 L1907.06,614.07 L1907.12,614.07 L1907.21,614.07 L1907.31,614.07 L1907.41,614.07 L1907.51,614.06 L1907.61,614.06 L1907.71,614.06 L1907.8,614.06 L1907.9,614.06 L1907.93,614.06 L1908,614.06 L1908.1,614.05 L1908.2,614.05 L1908.3,614.05 L1908.39,614.05 L1908.49,614.05 L1908.59,614.05 L1908.69,614.04 L1908.79,614.04 L1908.79,614.04 L1908.88,614.04 L1908.98,614.04 L1909.66,614.02 L1910.52,614 L1911.39,613.98 L1912.25,613.95 L1913.12,613.92 L1913.98,613.87 L1914.85,613.82 L1915.71,613.75 L1916.58,613.66 L1917.44,613.54 L1918.31,613.37 L1919.18,613.14 L1920.04,612.79 L1920.91,612.23 L1921.77,611.27 L1921.92,611.04 L1922.02,610.87 L1922.11,610.68 L1922.21,610.48 L1922.31,610.27 L1922.41,610.03 L1922.51,609.77 L1922.61,609.49 L1922.64,609.39 L1922.7,609.18 L1922.8,608.83 L1922.9,608.45 L1923,608.03 L1923.1,607.57 L1923.19,607.04 L1923.29,606.46 L1923.39,605.8 L1923.49,605.06 L1923.5,604.96 L1923.59,604.21 L1923.69,603.24 L1923.78,602.13 L1923.88,600.85 L1923.98,599.35 L1924.08,597.6 L1924.18,595.53 L1924.28,593.06 L1924.37,590.33 L1924.37,590.09 L1924.47,586.49 L1924.57,582.07 L1924.67,576.61 L1924.77,569.76 L1924.86,561.11 L1924.96,550.11 L1925.06,536.06 L1925.16,518.27 L1925.23,502.61 L1925.26,496.31 L1925.36,470.74 L1925.45,444.42 L1925.55,423.37 L1925.65,415.06 L1925.75,423.13 L1925.85,444.04 L1925.95,470.33 L1926.04,495.93 L1926.1,508.31 L1926.14,517.96 L1926.24,535.82 L1926.34,549.91 L1926.44,560.96 L1926.53,569.64 L1926.63,576.51 L1926.73,582 L1926.83,586.43 L1926.93,590.04 L1926.96,591.13 L1927.03,593.01 L1927.12,595.49 L1927.22,597.57 L1927.32,599.33 L1927.42,600.83 L1927.52,602.11 L1927.62,603.23 L1927.71,604.2 L1927.81,605.04 L1927.83,605.16 L1927.91,605.79 L1928.01,606.45 L1928.11,607.04 L1928.2,607.56 L1928.3,608.03 L1928.4,608.45 L1928.5,608.83 L1928.6,609.17 L1928.69,609.47 L1928.7,609.48 L1928.79,609.77 L1928.89,610.03 L1928.99,610.26 L1929.09,610.48 L1929.19,610.68 L1929.29,610.86 L1929.38,611.04 L1929.48,611.19 L1929.56,611.31 L1929.58,611.34 L1929.68,611.48 L1930.42,612.25 L1931.29,612.8 L1932.15,613.15 L1933.02,613.38 L1933.88,613.54 L1934.75,613.66 L1935.61,613.75 L1936.48,613.82 L1937.34,613.87 L1938.21,613.92 L1939.07,613.95 L1939.94,613.98 L1940.8,614.01 L1941.67,614.03 L1942.54,614.04 L1943.4,614.06 L1944.27,614.07 L1945.13,614.08 L1946,614.09 L1946.86,614.1 L1947.73,614.11 L1948.59,614.11 L1949.46,614.12 L1950.32,614.13 L1951.19,614.13 L1952.05,614.14 L1952.92,614.14 L1953.78,614.14 L1954.65,614.15 L1955.51,614.15 L1956.38,614.15 L1957.24,614.16 L1958.11,614.16 L1958.97,614.16 L1959.84,614.16 L1960.7,614.16 L1961.57,614.17 L1962.43,614.17 L1963.3,614.17 L1964.16,614.17 L1965.03,614.17 L1965.89,614.17" fill="none" stroke="#000" stroke-width="2.3" stroke-linejoin="round" />
</g>
<path d="M1706.8,407.05 V614.2 H1966 M1702.6,614.2 H1706.8 M1704.4,600.39 H1706.8 M1704.4,586.58 H1706.8 M1704.4,572.77 H1706.8 M1704.4,558.96 H1706.8 M1702.6,545.15 H1706.8 M1704.4,531.34 H1706.8 M1704.4,517.53 H1706.8 M1704.4,503.72 H1706.8 M1704.4,489.91 H1706.8 M1702.6,476.1 H1706.8 M1704.4,462.29 H1706.8 M1704.4,448.48 H1706.8 M1704.4,434.67 H1706.8 M1704.4,420.86 H1706.8 M1702.6,407.05 H1706.8 M1707.2,614.2 V618.4 M1728.76,614.2 V616.6 M1750.32,614.2 V616.6 M1771.88,614.2 V616.6 M1793.43,614.2 V616.6 M1814.99,614.2 V616.6 M1836.55,614.2 V618.4 M1858.11,614.2 V616.6 M1879.66,614.2 V616.6 M1901.22,614.2 V616.6 M1922.78,614.2 V616.6 M1944.34,614.2 V616.6 M1965.89,614.2 V618.4" stroke="#444444" stroke-width="1.35" fill="none"/>
<text transform="matrix(0.27326 0.00000 0.00000 0.27887 1645.00695 487.52113)" font-size="100" font-family='"Liberation Sans", sans-serif'>0.10</text>
<text transform="matrix(0.27634 0.00000 0.00000 0.28169 1647.79462 556.81831)" font-size="100" font-family='"Liberation Sans", sans-serif'>0.05</text>
<text transform="matrix(0.27326 0.00000 0.00000 0.28169 1646.80695 623.81831)" font-size="100" font-family='"Liberation Sans", sans-serif'>0.00</text>
<text transform="matrix(0.27805 0.00000 0.00000 0.28571 1679.78780 647.71429)" font-size="100" font-family='"Liberation Sans", sans-serif'>-1.5</text>
<text transform="matrix(0.27500 0.00000 0.00000 0.28169 1826.70000 647.41831)" font-size="100" font-family='"Liberation Sans", sans-serif'>0</text>
<text transform="matrix(0.27165 0.00000 0.00000 0.28571 1946.52677 647.41429)" font-size="100" font-family='"Liberation Sans", sans-serif'>1.5</text>
<text transform="matrix(0.27302 0.00000 0.00000 0.25625 1737.78095 674.34375)" font-size="100" font-family='"Liberation Serif", serif' font-style="italic">ω</text>
<text transform="matrix(0.35745 0.00000 0.00000 0.35745 1764.01277 679.27447)" font-size="100" font-family='"Liberation Serif", serif'>−</text>
<text transform="matrix(0.27302 0.00000 0.00000 0.25625 1790.88095 674.34375)" font-size="100" font-family='"Liberation Serif", serif' font-style="italic">ω</text>
<text transform="matrix(0.22519 0.00000 0.00000 0.19167 1808.49926 678.60833)" font-size="100" font-family='"Liberation Serif", serif'>cav</text>
<text transform="matrix(0.25085 0.00000 0.00000 0.24681 1848.29492 676.61702)" font-size="100" font-family='"Liberation Sans", sans-serif'>(eV)</text>
<line x1="1726.9" y1="435.3" x2="1756.2" y2="435.3" stroke="#0000ff" stroke-width="3" />
<line x1="1726.9" y1="461.9" x2="1756.2" y2="461.9" stroke="#000" stroke-width="3" />
<text transform="matrix(0.21822 0.00000 0.00000 0.21170 1759.70890 443.25426)" font-size="100" font-family='"Liberation Sans", sans-serif'>SpC model</text>
<text transform="matrix(0.21911 0.00000 0.00000 0.21216 1759.34708 469.68784)" font-size="100" font-family='"Liberation Sans", sans-serif'>MoC model</text>
<text transform="matrix(0.30638 0.00000 0.00000 0.30147 1729.80000 543.16912)" font-size="100" font-family='"Liberation Serif", serif' font-style="italic">g</text>
<text transform="matrix(0.44468 0.00000 0.00000 0.29600 1752.67660 545.01600)" font-size="100" font-family='"Liberation Serif", serif'>=</text>
<text transform="matrix(0.31966 0.00000 0.00000 0.32537 1785.62137 543.14925)" font-size="100" font-family='"Liberation Serif", serif'>0.3</text>
<text transform="matrix(0.28730 0.00000 0.00000 0.30000 1824.63810 543.50000)" font-size="100" font-family='"Liberation Serif", serif' font-style="italic">ω</text>
<text transform="matrix(0.24963 0.00000 0.00000 0.21458 1843.80148 547.68542)" font-size="100" font-family='"Liberation Serif", serif'>cav</text>
</svg></body></html>
